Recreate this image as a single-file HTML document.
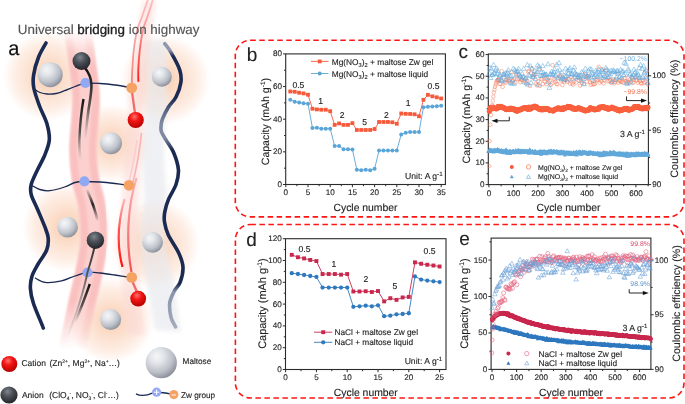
<!DOCTYPE html>
<html><head><meta charset="utf-8"><style>
html,body{margin:0;padding:0;background:#fff;}
svg{display:block;font-family:"Liberation Sans", sans-serif;will-change:transform;text-rendering:geometricPrecision;}
g.ch text{stroke:#222;stroke-width:0.12px;}
g.ch text.c{stroke:none;}
</style></head><body>
<svg width="685" height="404" viewBox="0 0 685 404">
<rect width="685" height="404" fill="#fff"/>
<g fill="#222">
<defs>
<radialGradient id="glow" cx="50%" cy="50%" r="50%">
<stop offset="0" stop-color="#f9cdae" stop-opacity="1"/>
<stop offset="0.35" stop-color="#fbdac5" stop-opacity="0.9"/>
<stop offset="0.7" stop-color="#fde7da" stop-opacity="0.75"/>
<stop offset="0.88" stop-color="#feefe7" stop-opacity="0.45"/>
<stop offset="1" stop-color="#fff" stop-opacity="0"/>
</radialGradient>
<radialGradient id="malt" cx="36%" cy="30%" r="75%">
<stop offset="0" stop-color="#f5f6f8"/>
<stop offset="0.3" stop-color="#e2e5e9"/>
<stop offset="0.68" stop-color="#bcc0c8"/>
<stop offset="1" stop-color="#878b96"/>
</radialGradient>
<radialGradient id="anion" cx="42%" cy="30%" r="70%">
<stop offset="0" stop-color="#80848c"/>
<stop offset="0.45" stop-color="#4a4e56"/>
<stop offset="1" stop-color="#23252a"/>
</radialGradient>
<radialGradient id="cation" cx="42%" cy="30%" r="70%">
<stop offset="0" stop-color="#ff7070"/>
<stop offset="0.4" stop-color="#f31515"/>
<stop offset="1" stop-color="#b50000"/>
</radialGradient>
<filter id="b3" x="-50%" y="-10%" width="200%" height="120%"><feGaussianBlur stdDeviation="2.5"/></filter>
<filter id="b1" x="-50%" y="-10%" width="200%" height="120%"><feGaussianBlur stdDeviation="1.2"/></filter>
<filter id="b2" x="-50%" y="-10%" width="200%" height="120%"><feGaussianBlur stdDeviation="2"/></filter>
<linearGradient id="tr1" x1="0" y1="0" x2="0" y2="1">
<stop offset="0" stop-color="#f79a9a" stop-opacity="0.5"/>
<stop offset="1" stop-color="#ff1a1a"/>
</linearGradient>
<linearGradient id="tr2" x1="0" y1="0" x2="0" y2="1">
<stop offset="0" stop-color="#ff1a1a" stop-opacity="0.25"/>
<stop offset="0.45" stop-color="#ff2a2a" stop-opacity="0.8"/>
<stop offset="1" stop-color="#ff1010"/>
</linearGradient>
<linearGradient id="tr4" x1="0" y1="0" x2="0" y2="1">
<stop offset="0" stop-color="#fbc0c0"/>
<stop offset="1" stop-color="#f48080"/>
</linearGradient>
<linearGradient id="tr3" x1="0" y1="0" x2="0" y2="1">
<stop offset="0" stop-color="#fbb5b5"/>
<stop offset="1" stop-color="#f25555"/>
</linearGradient>
<linearGradient id="bk1" x1="0" y1="0" x2="0" y2="1">
<stop offset="0" stop-color="#111"/>
<stop offset="0.55" stop-color="#333" stop-opacity="0.8"/>
<stop offset="1" stop-color="#777" stop-opacity="0"/>
</linearGradient>
<linearGradient id="bk5" x1="0" y1="0" x2="0" y2="1">
<stop offset="0" stop-color="#333"/>
<stop offset="0.3" stop-color="#555"/>
<stop offset="1" stop-color="#999" stop-opacity="0"/>
</linearGradient>
<linearGradient id="bk2" x1="0" y1="0" x2="0" y2="1">
<stop offset="0" stop-color="#111" stop-opacity="0"/>
<stop offset="0.5" stop-color="#222"/>
<stop offset="1" stop-color="#222" stop-opacity="0.1"/>
</linearGradient>
</defs>
<circle cx="48" cy="76" r="46" fill="url(#glow)"/>
<circle cx="165" cy="80" r="46" fill="url(#glow)"/>
<circle cx="111" cy="143" r="40" fill="url(#glow)"/>
<circle cx="67" cy="227" r="46" fill="url(#glow)"/>
<circle cx="155" cy="244" r="46" fill="url(#glow)"/>
<circle cx="111" cy="320" r="44" fill="url(#glow)"/>
<path d="M145.0 40.0 C145.2 50.0 146.5 81.7 146.0 100.0 C145.5 118.3 142.3 133.3 142.0 150.0 C141.7 166.7 144.3 185.8 144.0 200.0 C143.7 214.2 139.7 221.7 140.0 235.0 C140.3 248.3 143.5 264.2 146.0 280.0 C148.5 295.8 153.5 321.7 155.0 330.0 L181.0 332.0 C179.7 323.3 175.8 296.2 173.0 280.0 C170.2 263.8 165.0 248.3 164.0 235.0 C163.0 221.7 167.0 214.2 167.0 200.0 C167.0 185.8 164.0 166.7 164.0 150.0 C164.0 133.3 166.7 118.3 167.0 100.0 C167.3 81.7 166.2 50.0 166.0 40.0 Z" fill="#e9eaee" opacity="0.7" filter="url(#b2)"/>
<path d="M143.0 0.0 C141.5 10.0 136.7 40.0 134.0 60.0 C131.3 80.0 128.8 100.0 127.0 120.0 C125.2 140.0 124.2 160.0 123.0 180.0 C121.8 200.0 120.0 220.0 120.0 240.0 C120.0 260.0 121.8 284.2 123.0 300.0 C124.2 315.8 126.3 329.2 127.0 335.0 L145.0 335.0 C144.3 329.2 142.3 315.8 141.0 300.0 C139.7 284.2 137.2 260.0 137.0 240.0 C136.8 220.0 139.0 200.0 140.0 180.0 C141.0 160.0 141.7 140.0 143.0 120.0 C144.3 100.0 145.8 80.0 148.0 60.0 C150.2 40.0 154.7 10.0 156.0 0.0 Z" fill="#fbd8d4" opacity="0.55" filter="url(#b3)"/>
<linearGradient id="bandfade" gradientUnits="userSpaceOnUse" x1="0" y1="30" x2="0" y2="350"><stop offset="0" stop-color="#fff" stop-opacity="0"/><stop offset="0.06" stop-color="#fff" stop-opacity="0.7"/><stop offset="0.12" stop-color="#fff" stop-opacity="1"/><stop offset="0.85" stop-color="#fff" stop-opacity="1"/><stop offset="1" stop-color="#fff" stop-opacity="0"/></linearGradient>
<mask id="bandmask" maskUnits="userSpaceOnUse" x="0" y="0" width="240" height="404"><rect x="0" y="0" width="240" height="404" fill="url(#bandfade)"/></mask>
<g mask="url(#bandmask)"><path d="M78.0 32.0 C78.7 36.7 80.7 49.5 82.0 60.0 C83.3 70.5 85.5 85.0 86.0 95.0 C86.5 105.0 85.5 110.8 85.0 120.0 C84.5 129.2 82.9 140.0 83.0 150.0 C83.1 160.0 84.1 170.8 85.6 180.0 C87.0 189.2 90.3 195.0 91.7 205.0 C93.1 215.0 94.5 228.8 94.0 240.0 C93.5 251.2 90.9 262.0 89.0 272.0 C87.1 282.0 84.8 290.3 82.7 300.0 C80.6 309.7 78.2 321.7 76.4 330.0 C74.6 338.3 72.7 346.7 72.0 350.0" fill="none" stroke="#fcd0ce" stroke-width="27.5" filter="url(#b1)"/>
<path d="M68.5 32.0 C69.2 36.7 71.2 49.5 72.5 60.0 C73.8 70.5 76.0 85.0 76.5 95.0 C77.0 105.0 76.0 110.8 75.5 120.0 C75.0 129.2 73.4 140.0 73.5 150.0 C73.6 160.0 74.6 170.8 76.1 180.0 C77.5 189.2 80.8 195.0 82.2 205.0 C83.6 215.0 85.0 228.8 84.5 240.0 C84.0 251.2 81.4 262.0 79.5 272.0 C77.6 282.0 75.3 290.3 73.2 300.0 C71.1 309.7 68.7 321.7 66.9 330.0 C65.1 338.3 63.2 346.7 62.5 350.0" fill="none" stroke="#f9c0bf" stroke-width="7" filter="url(#b1)"/>
<path d="M87.5 32.0 C88.2 36.7 90.2 49.5 91.5 60.0 C92.8 70.5 95.0 85.0 95.5 95.0 C96.0 105.0 95.0 110.8 94.5 120.0 C94.0 129.2 92.4 140.0 92.5 150.0 C92.6 160.0 93.6 170.8 95.1 180.0 C96.5 189.2 99.8 195.0 101.2 205.0 C102.6 215.0 104.0 228.8 103.5 240.0 C103.0 251.2 100.4 262.0 98.5 272.0 C96.6 282.0 94.3 290.3 92.2 300.0 C90.1 309.7 87.7 321.7 85.9 330.0 C84.1 338.3 82.2 346.7 81.5 350.0" fill="none" stroke="#f9c0bf" stroke-width="7" filter="url(#b1)"/></g>
<path d="M46.0 43.0 C44.8 45.3 40.7 51.7 38.6 57.0 C36.5 62.3 34.4 69.8 33.6 75.0 C32.8 80.2 32.8 82.8 33.8 88.0 C34.8 93.2 37.3 100.0 39.5 106.0 C41.7 112.0 45.4 118.3 47.0 124.0 C48.6 129.7 49.7 134.8 49.3 140.0 C48.9 145.2 46.8 150.0 44.8 155.0 C42.8 160.0 39.7 165.1 37.4 170.0 C35.1 174.9 32.2 180.4 31.2 184.5 C30.2 188.6 30.2 190.4 31.2 194.5 C32.2 198.6 35.1 203.6 37.4 209.0 C39.7 214.4 43.0 221.9 44.8 226.7 C46.6 231.5 47.9 234.1 48.2 238.0 C48.5 241.9 48.4 245.6 46.7 250.0 C45.0 254.4 40.3 260.1 37.8 264.5 C35.3 268.9 33.1 272.4 31.9 276.4 C30.7 280.4 30.1 283.8 30.4 288.3 C30.6 292.8 31.4 297.0 33.4 303.2 C35.4 309.4 40.7 321.3 42.3 325.4 C43.9 329.5 43.1 327.6 43.2 328.0" fill="none" stroke="#1b2a52" stroke-width="3.6" stroke-linecap="round"/>
<linearGradient id="rcg" gradientUnits="userSpaceOnUse" x1="0" y1="43" x2="0" y2="328"><stop offset="0.000" stop-color="#8e97ab"/><stop offset="0.025" stop-color="#8e97ab"/><stop offset="0.046" stop-color="#1b2a52"/><stop offset="0.193" stop-color="#1b2a52"/><stop offset="0.242" stop-color="#5d6a87"/><stop offset="0.284" stop-color="#7f89a2"/><stop offset="0.333" stop-color="#7f89a2"/><stop offset="0.375" stop-color="#1b2a52"/><stop offset="0.846" stop-color="#1b2a52"/><stop offset="0.874" stop-color="#8a94ab"/><stop offset="1.000" stop-color="#a3abbb"/></linearGradient>
<path d="M164.8 43.7 C165.8 45.2 168.5 48.0 171.0 52.4 C173.5 56.8 178.0 64.8 179.7 69.8 C181.3 74.8 181.5 77.7 180.9 82.2 C180.3 86.7 178.1 92.9 176.0 97.0 C173.9 101.1 170.8 103.3 168.5 107.0 C166.2 110.7 163.6 116.0 162.3 119.3 C161.1 122.6 161.1 124.7 161.0 126.8 C160.9 128.9 160.7 129.8 161.5 132.0 C162.3 134.2 164.0 136.5 166.0 139.9 C168.0 143.3 171.4 147.3 173.5 152.3 C175.6 157.3 178.0 164.3 178.4 169.7 C178.8 175.1 177.7 179.6 176.0 184.5 C174.3 189.4 170.4 194.8 168.5 199.4 C166.6 204.0 165.5 208.0 164.8 211.8 C164.1 215.6 163.9 218.2 164.5 222.0 C165.1 225.8 165.8 229.7 168.2 234.8 C170.5 239.9 176.1 247.2 178.6 252.7 C181.1 258.1 182.8 262.6 183.0 267.5 C183.2 272.4 181.6 278.4 180.1 282.4 C178.6 286.4 175.9 287.8 174.2 291.3 C172.5 294.8 170.2 298.8 169.7 303.2 C169.2 307.6 170.2 314.1 171.2 318.0 C172.2 321.9 174.9 325.4 175.6 326.9" fill="none" stroke="url(#rcg)" stroke-width="3.6" stroke-linecap="round"/>
<path d="M34.9 89.5 C35.8 90.0 38.0 91.8 40.0 92.5 C42.0 93.2 44.5 93.8 47.2 94.0 C49.9 94.2 53.1 94.0 56.0 93.5 C58.9 93.0 61.4 91.9 64.6 90.7 C67.8 89.5 71.6 87.7 75.0 86.5 C78.4 85.3 80.8 83.8 85.0 83.3 C89.2 82.8 95.0 83.2 100.0 83.5 C105.0 83.8 109.7 84.3 115.0 85.0 C120.3 85.7 128.9 87.4 131.7 87.9" fill="none" stroke="#1b2a52" stroke-width="1.3"/>
<path d="M32.4 185.8 C33.6 186.4 36.9 188.7 39.8 189.5 C42.7 190.3 45.7 191.1 49.8 190.7 C53.9 190.3 60.4 188.4 64.6 187.0 C68.8 185.6 71.7 183.4 75.0 182.5 C78.3 181.6 80.2 181.6 84.4 181.5 C88.6 181.4 94.9 181.7 100.0 182.0 C105.1 182.3 110.2 182.9 115.0 183.5 C119.8 184.1 126.7 185.0 129.0 185.3" fill="none" stroke="#1b2a52" stroke-width="1.3"/>
<path d="M34.9 277.9 C36.6 278.6 40.8 281.9 45.2 282.4 C49.7 282.9 56.6 282.0 61.6 280.9 C66.6 279.8 70.7 277.4 75.0 276.0 C79.3 274.6 83.3 272.8 87.5 272.3 C91.7 271.8 95.4 272.6 100.0 273.0 C104.6 273.4 109.7 274.2 115.0 275.0 C120.3 275.8 128.9 277.2 131.7 277.6" fill="none" stroke="#1b2a52" stroke-width="1.3"/>
<path d="M83.5 99 C81.5 110 80 124 79.3 141 C79.3 150 79.8 155 80.7 160" fill="none" stroke="url(#bk1)" stroke-width="2.4"/>
<path d="M86.7 189 C91 199 95 208 97.3 220" fill="none" stroke="url(#bk2)" stroke-width="2.6"/>
<path d="M89.8 284 C86 295 81 308 75 323" fill="none" stroke="url(#bk1)" stroke-width="2.4"/>
<path d="M153.5 -2.0 C152.4 1.3 148.8 12.7 147.0 18.0 C145.2 23.3 144.2 24.7 143.0 30.0 C141.8 35.3 140.6 43.3 139.8 50.0 C139.0 56.7 138.5 64.7 138.3 70.0 C138.1 75.3 138.4 79.8 138.4 81.7" fill="none" stroke="url(#tr1)" stroke-width="1.9"/>
<path d="M148.5 -2.0 C147.3 1.3 143.4 12.7 141.5 18.0 C139.6 23.3 138.5 24.7 137.2 30.0 C135.9 35.3 134.6 43.3 133.8 50.0 C133.0 56.7 132.7 63.8 132.3 70.0 C132.0 76.2 131.8 84.2 131.7 87.0" fill="none" stroke="url(#tr4)" stroke-width="1.8"/>
<path d="M131.7 90 L135 113" fill="none" stroke="#f06a6a" stroke-width="2.2"/>
<path d="M141.5 133 C139.5 152 136.5 168 133 182" fill="none" stroke="#f8b4b4" stroke-width="1.6"/>
<path d="M137 140 C135 155 132.5 168 129.5 180" fill="none" stroke="#fbcaca" stroke-width="1.4"/>
<path d="M136.5 178 C128 205 125.5 240 131.5 272" fill="none" stroke="url(#tr3)" stroke-width="2.2"/>
<path d="M124.5 199 C118.5 220 116.5 245 122.5 267" fill="none" stroke="url(#tr2)" stroke-width="2.2"/>
<path d="M131.7 280 L137 292" fill="none" stroke="#f06a6a" stroke-width="2.3"/>
<circle cx="50.2" cy="74.7" r="12.5" fill="url(#malt)"/>
<circle cx="161.8" cy="76.7" r="10" fill="url(#malt)"/>
<circle cx="111" cy="143.3" r="11" fill="url(#malt)"/>
<circle cx="67.5" cy="227.2" r="10.4" fill="url(#malt)"/>
<circle cx="152.6" cy="242.3" r="10.4" fill="url(#malt)"/>
<circle cx="110.6" cy="319.6" r="10.5" fill="url(#malt)"/>
<circle cx="135.7" cy="120" r="8.1" fill="url(#cation)"/>
<circle cx="138.2" cy="298.6" r="7.9" fill="url(#cation)"/>
<circle cx="85.4" cy="83" r="5.1" fill="#91a8f2"/>
<circle cx="84.4" cy="181.3" r="5.1" fill="#91a8f2"/>
<circle cx="87.5" cy="272.5" r="5.1" fill="#91a8f2"/>
<circle cx="131.7" cy="87.9" r="5.4" fill="#f5a265"/>
<circle cx="129" cy="185.3" r="5.4" fill="#f5a265"/>
<circle cx="131.7" cy="277.4" r="5.4" fill="#f5a265"/>
<path d="M84.3 67 C88 71.5 91 77 91.4 84 C91.8 92 90 100 88.5 110 C87.2 120 86 130 85.2 140" fill="none" stroke="url(#bk1)" stroke-width="2.6"/>
<path d="M94.5 247 C92 258 89.5 266 87.5 272.3 C84 290 76 315 67 338" fill="none" stroke="url(#bk5)" stroke-width="1.9"/>
<circle cx="81.5" cy="61" r="9" fill="url(#anion)"/>
<circle cx="95.4" cy="240.2" r="8.7" fill="url(#anion)"/>
<text x="17.8" y="33.9" font-size="13.4" fill="#555" stroke="#555" stroke-width="0.15">Universal <tspan fill="#222" stroke="#222" stroke-width="0.32">bridging</tspan> ion highway</text>
<text x="8.2" y="55.2" font-size="20" fill="#111" stroke="#111" stroke-width="0.15">a</text>
<circle cx="9.3" cy="364" r="8" fill="url(#cation)"/>
<circle cx="9" cy="395" r="8.6" fill="url(#anion)"/>
<circle cx="161.3" cy="362.7" r="15.6" fill="url(#malt)"/>
<text x="21.4" y="365.8" font-size="8.5" fill="#222" stroke="#222" stroke-width="0.12">Cation<tspan x="49.4">(Zn</tspan><tspan font-size="5" dy="-3">2+</tspan><tspan dy="3">, Mg</tspan><tspan font-size="5" dy="-3">2+</tspan><tspan dy="3">, Na</tspan><tspan font-size="5" dy="-3">+</tspan><tspan dy="3">…)</tspan></text>
<text x="21.9" y="397.6" font-size="8.5" fill="#222" stroke="#222" stroke-width="0.12">Anion<tspan x="49.2">(ClO</tspan><tspan font-size="5" dy="2">4</tspan><tspan font-size="5" dy="-5">-</tspan><tspan dy="3">, NO</tspan><tspan font-size="5" dy="2">3</tspan><tspan font-size="5" dy="-5">-</tspan><tspan dy="3">, Cl</tspan><tspan font-size="5" dy="-3">-</tspan><tspan dy="3">…)</tspan></text>
<text x="182.6" y="364.4" font-size="8.2" fill="#222" stroke="#222" stroke-width="0.12">Maltose</text>
<path d="M136 393.8 C141 396.5 147 395.5 153 392.8" fill="none" stroke="#1b2a52" stroke-width="1.4"/>
<path d="M156.6 392.2 C162 392 166 393 173.8 394.6" fill="none" stroke="#1b2a52" stroke-width="1.4"/>
<circle cx="156.6" cy="392.2" r="4.6" fill="#93a9f3"/>
<path d="M153.9 392.2 H159.3 M156.6 389.5 V394.9" stroke="#fff" stroke-width="1"/>
<circle cx="173.8" cy="394.6" r="4.6" fill="#f5a265"/>
<path d="M171.6 395 H176" stroke="#fff" stroke-width="1"/>
<text x="181" y="397.8" font-size="8.2" fill="#222" stroke="#222" stroke-width="0.12">Zw group</text>
<g class="ch">
<rect x="285.7" y="53.9" width="159.7" height="130.6" fill="none" stroke="#2b2b2b" stroke-width="1.1"/>
<text x="285.8" y="195.4" font-size="8.1" text-anchor="middle" >0</text>
<text x="308" y="195.4" font-size="8.1" text-anchor="middle" >5</text>
<text x="330.2" y="195.4" font-size="8.1" text-anchor="middle" >10</text>
<text x="352.4" y="195.4" font-size="8.1" text-anchor="middle" >15</text>
<text x="374.6" y="195.4" font-size="8.1" text-anchor="middle" >20</text>
<text x="396.8" y="195.4" font-size="8.1" text-anchor="middle" >25</text>
<text x="419" y="195.4" font-size="8.1" text-anchor="middle" >30</text>
<text x="441.2" y="195.4" font-size="8.1" text-anchor="middle" >35</text>
<path d="M285.8 184.5v2.7M308 184.5v2.7M330.2 184.5v2.7M352.4 184.5v2.7M374.6 184.5v2.7M396.8 184.5v2.7M419 184.5v2.7M441.2 184.5v2.7M296.9 184.5v1.7M319.1 184.5v1.7M341.3 184.5v1.7M363.5 184.5v1.7M385.7 184.5v1.7M407.9 184.5v1.7M430.1 184.5v1.7" stroke="#2b2b2b" stroke-width="1"/>
<text x="281.9" y="186.95" font-size="8.1" text-anchor="end" >0</text>
<text x="281.9" y="154.3" font-size="8.1" text-anchor="end" >20</text>
<text x="281.9" y="121.65" font-size="8.1" text-anchor="end" >40</text>
<text x="281.9" y="89" font-size="8.1" text-anchor="end" >60</text>
<text x="281.9" y="56.35" font-size="8.1" text-anchor="end" >80</text>
<path d="M283 184.5h2.7M283 151.85h2.7M283 119.2h2.7M283 86.55h2.7M283 53.9h2.7M284 168.18h1.7M284 135.53h1.7M284 102.88h1.7M284 70.22h1.7" stroke="#2b2b2b" stroke-width="1"/>
<polyline points="290.24,99.77 294.68,101.73 299.12,102.39 303.56,103.36 308,103.85 312.44,128.02 316.88,127.69 321.32,128.67 325.76,128.67 330.2,128.67 334.64,145.97 339.08,145.97 343.52,149.24 347.96,149.24 352.4,149.56 356.84,169.64 361.28,170.3 365.72,169.64 370.16,170.3 374.6,168.66 379.04,150.54 383.48,150.54 387.92,150.54 392.36,150.54 396.8,150.54 401.24,134.38 405.68,132.75 410.12,132.1 414.56,132.1 419,132.1 423.44,107.28 427.88,106.79 432.32,106.47 436.76,106.14 441.2,105.65" fill="none" stroke="#5aa5d8" stroke-width="0.9"/>
<circle cx="290.24" cy="99.77" r="2" fill="#5aa5d8"/>
<circle cx="294.68" cy="101.73" r="2" fill="#5aa5d8"/>
<circle cx="299.12" cy="102.39" r="2" fill="#5aa5d8"/>
<circle cx="303.56" cy="103.36" r="2" fill="#5aa5d8"/>
<circle cx="308" cy="103.85" r="2" fill="#5aa5d8"/>
<circle cx="312.44" cy="128.02" r="2" fill="#5aa5d8"/>
<circle cx="316.88" cy="127.69" r="2" fill="#5aa5d8"/>
<circle cx="321.32" cy="128.67" r="2" fill="#5aa5d8"/>
<circle cx="325.76" cy="128.67" r="2" fill="#5aa5d8"/>
<circle cx="330.2" cy="128.67" r="2" fill="#5aa5d8"/>
<circle cx="334.64" cy="145.97" r="2" fill="#5aa5d8"/>
<circle cx="339.08" cy="145.97" r="2" fill="#5aa5d8"/>
<circle cx="343.52" cy="149.24" r="2" fill="#5aa5d8"/>
<circle cx="347.96" cy="149.24" r="2" fill="#5aa5d8"/>
<circle cx="352.4" cy="149.56" r="2" fill="#5aa5d8"/>
<circle cx="356.84" cy="169.64" r="2" fill="#5aa5d8"/>
<circle cx="361.28" cy="170.3" r="2" fill="#5aa5d8"/>
<circle cx="365.72" cy="169.64" r="2" fill="#5aa5d8"/>
<circle cx="370.16" cy="170.3" r="2" fill="#5aa5d8"/>
<circle cx="374.6" cy="168.66" r="2" fill="#5aa5d8"/>
<circle cx="379.04" cy="150.54" r="2" fill="#5aa5d8"/>
<circle cx="383.48" cy="150.54" r="2" fill="#5aa5d8"/>
<circle cx="387.92" cy="150.54" r="2" fill="#5aa5d8"/>
<circle cx="392.36" cy="150.54" r="2" fill="#5aa5d8"/>
<circle cx="396.8" cy="150.54" r="2" fill="#5aa5d8"/>
<circle cx="401.24" cy="134.38" r="2" fill="#5aa5d8"/>
<circle cx="405.68" cy="132.75" r="2" fill="#5aa5d8"/>
<circle cx="410.12" cy="132.1" r="2" fill="#5aa5d8"/>
<circle cx="414.56" cy="132.1" r="2" fill="#5aa5d8"/>
<circle cx="419" cy="132.1" r="2" fill="#5aa5d8"/>
<circle cx="423.44" cy="107.28" r="2" fill="#5aa5d8"/>
<circle cx="427.88" cy="106.79" r="2" fill="#5aa5d8"/>
<circle cx="432.32" cy="106.47" r="2" fill="#5aa5d8"/>
<circle cx="436.76" cy="106.14" r="2" fill="#5aa5d8"/>
<circle cx="441.2" cy="105.65" r="2" fill="#5aa5d8"/>
<polyline points="290.24,91.45 294.68,91.77 299.12,92.75 303.56,93.41 308,94.71 312.44,108.75 316.88,109.41 321.32,109.73 325.76,109.73 330.2,111.2 334.64,124.91 339.08,123.44 343.52,124.91 347.96,124.91 352.4,123.12 356.84,129.97 361.28,129.97 365.72,129.97 370.16,129.97 374.6,129 379.04,121.98 383.48,121.98 387.92,121.98 392.36,122.3 396.8,123.77 401.24,113.49 405.68,113.81 410.12,113.98 414.56,114.3 419,116.26 423.44,99.77 427.88,94.88 432.32,96.34 436.76,97.32 441.2,98.47" fill="none" stroke="#f7593b" stroke-width="0.9"/>
<rect x="288.34" y="89.55" width="3.8" height="3.8" fill="#f7593b"/>
<rect x="292.78" y="89.87" width="3.8" height="3.8" fill="#f7593b"/>
<rect x="297.22" y="90.85" width="3.8" height="3.8" fill="#f7593b"/>
<rect x="301.66" y="91.51" width="3.8" height="3.8" fill="#f7593b"/>
<rect x="306.1" y="92.81" width="3.8" height="3.8" fill="#f7593b"/>
<rect x="310.54" y="106.85" width="3.8" height="3.8" fill="#f7593b"/>
<rect x="314.98" y="107.5" width="3.8" height="3.8" fill="#f7593b"/>
<rect x="319.42" y="107.83" width="3.8" height="3.8" fill="#f7593b"/>
<rect x="323.86" y="107.83" width="3.8" height="3.8" fill="#f7593b"/>
<rect x="328.3" y="109.3" width="3.8" height="3.8" fill="#f7593b"/>
<rect x="332.74" y="123.01" width="3.8" height="3.8" fill="#f7593b"/>
<rect x="337.18" y="121.54" width="3.8" height="3.8" fill="#f7593b"/>
<rect x="341.62" y="123.01" width="3.8" height="3.8" fill="#f7593b"/>
<rect x="346.06" y="123.01" width="3.8" height="3.8" fill="#f7593b"/>
<rect x="350.5" y="121.22" width="3.8" height="3.8" fill="#f7593b"/>
<rect x="354.94" y="128.07" width="3.8" height="3.8" fill="#f7593b"/>
<rect x="359.38" y="128.07" width="3.8" height="3.8" fill="#f7593b"/>
<rect x="363.82" y="128.07" width="3.8" height="3.8" fill="#f7593b"/>
<rect x="368.26" y="128.07" width="3.8" height="3.8" fill="#f7593b"/>
<rect x="372.7" y="127.09" width="3.8" height="3.8" fill="#f7593b"/>
<rect x="377.14" y="120.08" width="3.8" height="3.8" fill="#f7593b"/>
<rect x="381.58" y="120.08" width="3.8" height="3.8" fill="#f7593b"/>
<rect x="386.02" y="120.08" width="3.8" height="3.8" fill="#f7593b"/>
<rect x="390.46" y="120.4" width="3.8" height="3.8" fill="#f7593b"/>
<rect x="394.9" y="121.87" width="3.8" height="3.8" fill="#f7593b"/>
<rect x="399.34" y="111.59" width="3.8" height="3.8" fill="#f7593b"/>
<rect x="403.78" y="111.91" width="3.8" height="3.8" fill="#f7593b"/>
<rect x="408.22" y="112.08" width="3.8" height="3.8" fill="#f7593b"/>
<rect x="412.66" y="112.4" width="3.8" height="3.8" fill="#f7593b"/>
<rect x="417.1" y="114.36" width="3.8" height="3.8" fill="#f7593b"/>
<rect x="421.54" y="97.87" width="3.8" height="3.8" fill="#f7593b"/>
<rect x="425.98" y="92.98" width="3.8" height="3.8" fill="#f7593b"/>
<rect x="430.42" y="94.44" width="3.8" height="3.8" fill="#f7593b"/>
<rect x="434.86" y="95.42" width="3.8" height="3.8" fill="#f7593b"/>
<rect x="439.3" y="96.57" width="3.8" height="3.8" fill="#f7593b"/>
<line x1="311" y1="61.4" x2="328.5" y2="61.4" stroke="#f7593b" stroke-width="0.9" />
<rect x="317.8" y="59.5" width="3.8" height="3.8" fill="#f7593b"/>
<line x1="311" y1="73.5" x2="328.5" y2="73.5" stroke="#5aa5d8" stroke-width="0.9" />
<circle cx="319.7" cy="73.5" r="2" fill="#5aa5d8"/>
<text x="331.7" y="64.6" font-size="8.35" >Mg(NO<tspan font-size="5.7" dy="2.3">3</tspan><tspan dy="-2.3">)</tspan><tspan font-size="5.7" dy="2.3">2</tspan><tspan dy="-2.3"> + maltose </tspan>Zw gel</text>
<text x="331.7" y="76.7" font-size="8.35" >Mg(NO<tspan font-size="5.7" dy="2.3">3</tspan><tspan dy="-2.3">)</tspan><tspan font-size="5.7" dy="2.3">2</tspan><tspan dy="-2.3"> + maltose </tspan>liquid</text>
<text x="298.4" y="87.6" font-size="8.6" text-anchor="middle" >0.5</text>
<text x="320.7" y="104.4" font-size="8.6" text-anchor="middle" >1</text>
<text x="342.2" y="118.2" font-size="8.6" text-anchor="middle" >2</text>
<text x="364.6" y="125.1" font-size="8.6" text-anchor="middle" >5</text>
<text x="386.5" y="117.6" font-size="8.6" text-anchor="middle" >2</text>
<text x="408.2" y="106" font-size="8.6" text-anchor="middle" >1</text>
<text x="433.5" y="89.4" font-size="8.6" text-anchor="middle" >0.5</text>
<text x="442.6" y="179" font-size="8.6" text-anchor="end" >Unit: A g<tspan font-size="6.2" dy="-3.4">-1</tspan></text>
<text transform="translate(269.1,121.6) rotate(-90)" font-size="10.55" text-anchor="middle">Capacity (mAh g<tspan font-size="6.5" dy="-3.8">-1</tspan><tspan dy="3.8">)</tspan></text>
<text x="365.5" y="211.2" font-size="10.4" text-anchor="middle" >Cycle number</text>
<text x="246.7" y="60.6" font-size="19" >b</text>
<rect x="488.3" y="54" width="160.1" height="130.6" fill="none" stroke="#2b2b2b" stroke-width="1.1"/>
<text x="488.9" y="195.5" font-size="8.1" text-anchor="middle" >0</text>
<text x="513.4" y="195.5" font-size="8.1" text-anchor="middle" >100</text>
<text x="537.9" y="195.5" font-size="8.1" text-anchor="middle" >200</text>
<text x="562.4" y="195.5" font-size="8.1" text-anchor="middle" >300</text>
<text x="586.9" y="195.5" font-size="8.1" text-anchor="middle" >400</text>
<text x="611.4" y="195.5" font-size="8.1" text-anchor="middle" >500</text>
<text x="635.9" y="195.5" font-size="8.1" text-anchor="middle" >600</text>
<path d="M488.9 184.6v2.7M513.4 184.6v2.7M537.9 184.6v2.7M562.4 184.6v2.7M586.9 184.6v2.7M611.4 184.6v2.7M635.9 184.6v2.7M501.15 184.6v1.7M525.65 184.6v1.7M550.15 184.6v1.7M574.65 184.6v1.7M599.15 184.6v1.7M623.65 184.6v1.7M648.15 184.6v1.7" stroke="#2b2b2b" stroke-width="1"/>
<text x="484.5" y="187.05" font-size="8.1" text-anchor="end" >0</text>
<text x="484.5" y="165.38" font-size="8.1" text-anchor="end" >10</text>
<text x="484.5" y="143.72" font-size="8.1" text-anchor="end" >20</text>
<text x="484.5" y="122.05" font-size="8.1" text-anchor="end" >30</text>
<text x="484.5" y="100.38" font-size="8.1" text-anchor="end" >40</text>
<text x="484.5" y="78.71" font-size="8.1" text-anchor="end" >50</text>
<text x="484.5" y="57.05" font-size="8.1" text-anchor="end" >60</text>
<path d="M485.6 184.6h2.7M485.6 162.93h2.7M485.6 141.27h2.7M485.6 119.6h2.7M485.6 97.93h2.7M485.6 76.26h2.7M485.6 54.6h2.7M486.6 173.77h1.7M486.6 152.1h1.7M486.6 130.43h1.7M486.6 108.77h1.7M486.6 87.1h1.7M486.6 65.43h1.7" stroke="#2b2b2b" stroke-width="1"/>
<text x="652.3" y="187.05" font-size="8.1" >90</text>
<text x="652.3" y="132.65" font-size="8.1" >95</text>
<text x="652.3" y="78.25" font-size="8.1" >100</text>
<path d="M648.4 184.6h2.7M648.4 130.2h2.7M648.4 75.8h2.7M648.4 157.4h1.7M648.4 103h1.7" stroke="#2b2b2b" stroke-width="1"/>
<path d="M489.14 149.29l2.15 3.74h-4.3z" fill="#62a8da"/>
<path d="M489.39 148.51l2.15 3.74h-4.3z" fill="#62a8da"/>
<path d="M489.63 147.79l2.15 3.74h-4.3z" fill="#62a8da"/>
<path d="M489.88 147.61l2.15 3.74h-4.3z" fill="#62a8da"/>
<path d="M490.12 147.82l2.15 3.74h-4.3z" fill="#62a8da"/>
<path d="M490.37 148.53l2.15 3.74h-4.3z" fill="#62a8da"/>
<path d="M490.61 148.33l2.15 3.74h-4.3z" fill="#62a8da"/>
<path d="M490.86 148.68l2.15 3.74h-4.3z" fill="#62a8da"/>
<path d="M491.1 149.35l2.15 3.74h-4.3z" fill="#62a8da"/>
<path d="M491.35 148.79l2.15 3.74h-4.3z" fill="#62a8da"/>
<path d="M491.59 147.85l2.15 3.74h-4.3z" fill="#62a8da"/>
<path d="M491.84 148.29l2.15 3.74h-4.3z" fill="#62a8da"/>
<path d="M492.08 148.64l2.15 3.74h-4.3z" fill="#62a8da"/>
<path d="M492.33 149.1l2.15 3.74h-4.3z" fill="#62a8da"/>
<path d="M492.57 148.46l2.15 3.74h-4.3z" fill="#62a8da"/>
<path d="M492.82 148.76l2.15 3.74h-4.3z" fill="#62a8da"/>
<path d="M493.06 148.35l2.15 3.74h-4.3z" fill="#62a8da"/>
<path d="M493.31 148.05l2.15 3.74h-4.3z" fill="#62a8da"/>
<path d="M493.55 149.83l2.15 3.74h-4.3z" fill="#62a8da"/>
<path d="M493.8 148.4l2.15 3.74h-4.3z" fill="#62a8da"/>
<path d="M494.04 149.28l2.15 3.74h-4.3z" fill="#62a8da"/>
<path d="M494.29 148.94l2.15 3.74h-4.3z" fill="#62a8da"/>
<path d="M494.53 149.13l2.15 3.74h-4.3z" fill="#62a8da"/>
<path d="M494.78 147.61l2.15 3.74h-4.3z" fill="#62a8da"/>
<path d="M495.02 147.89l2.15 3.74h-4.3z" fill="#62a8da"/>
<path d="M495.27 148l2.15 3.74h-4.3z" fill="#62a8da"/>
<path d="M495.51 148.8l2.15 3.74h-4.3z" fill="#62a8da"/>
<path d="M495.76 149.25l2.15 3.74h-4.3z" fill="#62a8da"/>
<path d="M496 148.58l2.15 3.74h-4.3z" fill="#62a8da"/>
<path d="M496.25 148.2l2.15 3.74h-4.3z" fill="#62a8da"/>
<path d="M496.5 148.39l2.15 3.74h-4.3z" fill="#62a8da"/>
<path d="M496.74 147.91l2.15 3.74h-4.3z" fill="#62a8da"/>
<path d="M496.98 148.59l2.15 3.74h-4.3z" fill="#62a8da"/>
<path d="M497.23 147.21l2.15 3.74h-4.3z" fill="#62a8da"/>
<path d="M497.47 147.96l2.15 3.74h-4.3z" fill="#62a8da"/>
<path d="M497.72 147.11l2.15 3.74h-4.3z" fill="#62a8da"/>
<path d="M497.96 148.26l2.15 3.74h-4.3z" fill="#62a8da"/>
<path d="M498.21 148.58l2.15 3.74h-4.3z" fill="#62a8da"/>
<path d="M498.45 149l2.15 3.74h-4.3z" fill="#62a8da"/>
<path d="M498.7 147.95l2.15 3.74h-4.3z" fill="#62a8da"/>
<path d="M498.94 147.82l2.15 3.74h-4.3z" fill="#62a8da"/>
<path d="M499.19 148.41l2.15 3.74h-4.3z" fill="#62a8da"/>
<path d="M499.44 148.27l2.15 3.74h-4.3z" fill="#62a8da"/>
<path d="M499.68 148.74l2.15 3.74h-4.3z" fill="#62a8da"/>
<path d="M499.92 148.86l2.15 3.74h-4.3z" fill="#62a8da"/>
<path d="M500.17 148.8l2.15 3.74h-4.3z" fill="#62a8da"/>
<path d="M500.41 149.86l2.15 3.74h-4.3z" fill="#62a8da"/>
<path d="M500.66 149.33l2.15 3.74h-4.3z" fill="#62a8da"/>
<path d="M500.9 148.68l2.15 3.74h-4.3z" fill="#62a8da"/>
<path d="M501.15 148.65l2.15 3.74h-4.3z" fill="#62a8da"/>
<path d="M501.39 148.06l2.15 3.74h-4.3z" fill="#62a8da"/>
<path d="M501.64 148.39l2.15 3.74h-4.3z" fill="#62a8da"/>
<path d="M501.88 148.56l2.15 3.74h-4.3z" fill="#62a8da"/>
<path d="M502.13 148.83l2.15 3.74h-4.3z" fill="#62a8da"/>
<path d="M502.38 150.36l2.15 3.74h-4.3z" fill="#62a8da"/>
<path d="M502.62 148.9l2.15 3.74h-4.3z" fill="#62a8da"/>
<path d="M502.86 149.54l2.15 3.74h-4.3z" fill="#62a8da"/>
<path d="M503.11 148.68l2.15 3.74h-4.3z" fill="#62a8da"/>
<path d="M503.35 149.22l2.15 3.74h-4.3z" fill="#62a8da"/>
<path d="M503.6 149.29l2.15 3.74h-4.3z" fill="#62a8da"/>
<path d="M503.84 149.45l2.15 3.74h-4.3z" fill="#62a8da"/>
<path d="M504.09 149.33l2.15 3.74h-4.3z" fill="#62a8da"/>
<path d="M504.33 150.44l2.15 3.74h-4.3z" fill="#62a8da"/>
<path d="M504.58 150.24l2.15 3.74h-4.3z" fill="#62a8da"/>
<path d="M504.82 148.46l2.15 3.74h-4.3z" fill="#62a8da"/>
<path d="M505.07 148.99l2.15 3.74h-4.3z" fill="#62a8da"/>
<path d="M505.31 149.59l2.15 3.74h-4.3z" fill="#62a8da"/>
<path d="M505.56 149.56l2.15 3.74h-4.3z" fill="#62a8da"/>
<path d="M505.8 149.61l2.15 3.74h-4.3z" fill="#62a8da"/>
<path d="M506.05 147.3l2.15 3.74h-4.3z" fill="#62a8da"/>
<path d="M506.29 149.1l2.15 3.74h-4.3z" fill="#62a8da"/>
<path d="M506.54 149.46l2.15 3.74h-4.3z" fill="#62a8da"/>
<path d="M506.78 149.92l2.15 3.74h-4.3z" fill="#62a8da"/>
<path d="M507.03 151.05l2.15 3.74h-4.3z" fill="#62a8da"/>
<path d="M507.27 149.46l2.15 3.74h-4.3z" fill="#62a8da"/>
<path d="M507.52 148.67l2.15 3.74h-4.3z" fill="#62a8da"/>
<path d="M507.76 148.99l2.15 3.74h-4.3z" fill="#62a8da"/>
<path d="M508.01 149.44l2.15 3.74h-4.3z" fill="#62a8da"/>
<path d="M508.25 150.03l2.15 3.74h-4.3z" fill="#62a8da"/>
<path d="M508.5 150.42l2.15 3.74h-4.3z" fill="#62a8da"/>
<path d="M508.75 149.63l2.15 3.74h-4.3z" fill="#62a8da"/>
<path d="M508.99 149.96l2.15 3.74h-4.3z" fill="#62a8da"/>
<path d="M509.23 150.45l2.15 3.74h-4.3z" fill="#62a8da"/>
<path d="M509.48 148.66l2.15 3.74h-4.3z" fill="#62a8da"/>
<path d="M509.72 150.35l2.15 3.74h-4.3z" fill="#62a8da"/>
<path d="M509.97 150.1l2.15 3.74h-4.3z" fill="#62a8da"/>
<path d="M510.21 151.31l2.15 3.74h-4.3z" fill="#62a8da"/>
<path d="M510.46 148.67l2.15 3.74h-4.3z" fill="#62a8da"/>
<path d="M510.7 149.88l2.15 3.74h-4.3z" fill="#62a8da"/>
<path d="M510.95 149.83l2.15 3.74h-4.3z" fill="#62a8da"/>
<path d="M511.19 149.61l2.15 3.74h-4.3z" fill="#62a8da"/>
<path d="M511.44 150.34l2.15 3.74h-4.3z" fill="#62a8da"/>
<path d="M511.69 150.2l2.15 3.74h-4.3z" fill="#62a8da"/>
<path d="M511.93 149.6l2.15 3.74h-4.3z" fill="#62a8da"/>
<path d="M512.17 150.33l2.15 3.74h-4.3z" fill="#62a8da"/>
<path d="M512.42 149.58l2.15 3.74h-4.3z" fill="#62a8da"/>
<path d="M512.66 149l2.15 3.74h-4.3z" fill="#62a8da"/>
<path d="M512.91 149.29l2.15 3.74h-4.3z" fill="#62a8da"/>
<path d="M513.15 148.86l2.15 3.74h-4.3z" fill="#62a8da"/>
<path d="M513.4 149.07l2.15 3.74h-4.3z" fill="#62a8da"/>
<path d="M513.64 148.63l2.15 3.74h-4.3z" fill="#62a8da"/>
<path d="M513.89 149.56l2.15 3.74h-4.3z" fill="#62a8da"/>
<path d="M514.13 149.46l2.15 3.74h-4.3z" fill="#62a8da"/>
<path d="M514.38 150.43l2.15 3.74h-4.3z" fill="#62a8da"/>
<path d="M514.62 149.82l2.15 3.74h-4.3z" fill="#62a8da"/>
<path d="M514.87 150.16l2.15 3.74h-4.3z" fill="#62a8da"/>
<path d="M515.12 149.72l2.15 3.74h-4.3z" fill="#62a8da"/>
<path d="M515.36 150.33l2.15 3.74h-4.3z" fill="#62a8da"/>
<path d="M515.61 149.43l2.15 3.74h-4.3z" fill="#62a8da"/>
<path d="M515.85 147.95l2.15 3.74h-4.3z" fill="#62a8da"/>
<path d="M516.1 150.1l2.15 3.74h-4.3z" fill="#62a8da"/>
<path d="M516.34 149.21l2.15 3.74h-4.3z" fill="#62a8da"/>
<path d="M516.58 149.16l2.15 3.74h-4.3z" fill="#62a8da"/>
<path d="M516.83 150.01l2.15 3.74h-4.3z" fill="#62a8da"/>
<path d="M517.07 149.71l2.15 3.74h-4.3z" fill="#62a8da"/>
<path d="M517.32 149.83l2.15 3.74h-4.3z" fill="#62a8da"/>
<path d="M517.56 149.19l2.15 3.74h-4.3z" fill="#62a8da"/>
<path d="M517.81 149.86l2.15 3.74h-4.3z" fill="#62a8da"/>
<path d="M518.05 147.74l2.15 3.74h-4.3z" fill="#62a8da"/>
<path d="M518.3 148.85l2.15 3.74h-4.3z" fill="#62a8da"/>
<path d="M518.54 148.64l2.15 3.74h-4.3z" fill="#62a8da"/>
<path d="M518.79 147.96l2.15 3.74h-4.3z" fill="#62a8da"/>
<path d="M519.03 148.45l2.15 3.74h-4.3z" fill="#62a8da"/>
<path d="M519.28 149.39l2.15 3.74h-4.3z" fill="#62a8da"/>
<path d="M519.52 149.06l2.15 3.74h-4.3z" fill="#62a8da"/>
<path d="M519.77 149.25l2.15 3.74h-4.3z" fill="#62a8da"/>
<path d="M520.01 149.08l2.15 3.74h-4.3z" fill="#62a8da"/>
<path d="M520.26 148.6l2.15 3.74h-4.3z" fill="#62a8da"/>
<path d="M520.5 150.5l2.15 3.74h-4.3z" fill="#62a8da"/>
<path d="M520.75 150.28l2.15 3.74h-4.3z" fill="#62a8da"/>
<path d="M521 149.39l2.15 3.74h-4.3z" fill="#62a8da"/>
<path d="M521.24 148.87l2.15 3.74h-4.3z" fill="#62a8da"/>
<path d="M521.49 149.47l2.15 3.74h-4.3z" fill="#62a8da"/>
<path d="M521.73 149.26l2.15 3.74h-4.3z" fill="#62a8da"/>
<path d="M521.98 148.4l2.15 3.74h-4.3z" fill="#62a8da"/>
<path d="M522.22 148.67l2.15 3.74h-4.3z" fill="#62a8da"/>
<path d="M522.46 149.17l2.15 3.74h-4.3z" fill="#62a8da"/>
<path d="M522.71 149.3l2.15 3.74h-4.3z" fill="#62a8da"/>
<path d="M522.95 150.03l2.15 3.74h-4.3z" fill="#62a8da"/>
<path d="M523.2 148.75l2.15 3.74h-4.3z" fill="#62a8da"/>
<path d="M523.44 148.99l2.15 3.74h-4.3z" fill="#62a8da"/>
<path d="M523.69 149.68l2.15 3.74h-4.3z" fill="#62a8da"/>
<path d="M523.93 148.74l2.15 3.74h-4.3z" fill="#62a8da"/>
<path d="M524.18 149.3l2.15 3.74h-4.3z" fill="#62a8da"/>
<path d="M524.42 149.28l2.15 3.74h-4.3z" fill="#62a8da"/>
<path d="M524.67 150.13l2.15 3.74h-4.3z" fill="#62a8da"/>
<path d="M524.91 148.49l2.15 3.74h-4.3z" fill="#62a8da"/>
<path d="M525.16 149.56l2.15 3.74h-4.3z" fill="#62a8da"/>
<path d="M525.4 148.88l2.15 3.74h-4.3z" fill="#62a8da"/>
<path d="M525.65 148.94l2.15 3.74h-4.3z" fill="#62a8da"/>
<path d="M525.89 149.46l2.15 3.74h-4.3z" fill="#62a8da"/>
<path d="M526.14 149.15l2.15 3.74h-4.3z" fill="#62a8da"/>
<path d="M526.38 149.27l2.15 3.74h-4.3z" fill="#62a8da"/>
<path d="M526.63 149.29l2.15 3.74h-4.3z" fill="#62a8da"/>
<path d="M526.88 149.02l2.15 3.74h-4.3z" fill="#62a8da"/>
<path d="M527.12 149.58l2.15 3.74h-4.3z" fill="#62a8da"/>
<path d="M527.37 148.74l2.15 3.74h-4.3z" fill="#62a8da"/>
<path d="M527.61 149.13l2.15 3.74h-4.3z" fill="#62a8da"/>
<path d="M527.86 149.98l2.15 3.74h-4.3z" fill="#62a8da"/>
<path d="M528.1 148.98l2.15 3.74h-4.3z" fill="#62a8da"/>
<path d="M528.35 149.53l2.15 3.74h-4.3z" fill="#62a8da"/>
<path d="M528.59 148.99l2.15 3.74h-4.3z" fill="#62a8da"/>
<path d="M528.84 150.83l2.15 3.74h-4.3z" fill="#62a8da"/>
<path d="M529.08 149.12l2.15 3.74h-4.3z" fill="#62a8da"/>
<path d="M529.32 150.83l2.15 3.74h-4.3z" fill="#62a8da"/>
<path d="M529.57 149.69l2.15 3.74h-4.3z" fill="#62a8da"/>
<path d="M529.81 147.36l2.15 3.74h-4.3z" fill="#62a8da"/>
<path d="M530.06 149.04l2.15 3.74h-4.3z" fill="#62a8da"/>
<path d="M530.3 148.81l2.15 3.74h-4.3z" fill="#62a8da"/>
<path d="M530.55 149.99l2.15 3.74h-4.3z" fill="#62a8da"/>
<path d="M530.79 150.3l2.15 3.74h-4.3z" fill="#62a8da"/>
<path d="M531.04 149.65l2.15 3.74h-4.3z" fill="#62a8da"/>
<path d="M531.28 149.36l2.15 3.74h-4.3z" fill="#62a8da"/>
<path d="M531.53 149.73l2.15 3.74h-4.3z" fill="#62a8da"/>
<path d="M531.77 150.14l2.15 3.74h-4.3z" fill="#62a8da"/>
<path d="M532.02 150.3l2.15 3.74h-4.3z" fill="#62a8da"/>
<path d="M532.26 150.02l2.15 3.74h-4.3z" fill="#62a8da"/>
<path d="M532.51 148.74l2.15 3.74h-4.3z" fill="#62a8da"/>
<path d="M532.75 149.82l2.15 3.74h-4.3z" fill="#62a8da"/>
<path d="M533 150.1l2.15 3.74h-4.3z" fill="#62a8da"/>
<path d="M533.25 150.06l2.15 3.74h-4.3z" fill="#62a8da"/>
<path d="M533.49 150.55l2.15 3.74h-4.3z" fill="#62a8da"/>
<path d="M533.74 150.83l2.15 3.74h-4.3z" fill="#62a8da"/>
<path d="M533.98 149.88l2.15 3.74h-4.3z" fill="#62a8da"/>
<path d="M534.23 149.14l2.15 3.74h-4.3z" fill="#62a8da"/>
<path d="M534.47 149.72l2.15 3.74h-4.3z" fill="#62a8da"/>
<path d="M534.71 150.97l2.15 3.74h-4.3z" fill="#62a8da"/>
<path d="M534.96 149.11l2.15 3.74h-4.3z" fill="#62a8da"/>
<path d="M535.2 149.96l2.15 3.74h-4.3z" fill="#62a8da"/>
<path d="M535.45 148.93l2.15 3.74h-4.3z" fill="#62a8da"/>
<path d="M535.69 150.28l2.15 3.74h-4.3z" fill="#62a8da"/>
<path d="M535.94 151.09l2.15 3.74h-4.3z" fill="#62a8da"/>
<path d="M536.18 150.09l2.15 3.74h-4.3z" fill="#62a8da"/>
<path d="M536.43 150.37l2.15 3.74h-4.3z" fill="#62a8da"/>
<path d="M536.67 151l2.15 3.74h-4.3z" fill="#62a8da"/>
<path d="M536.92 150.81l2.15 3.74h-4.3z" fill="#62a8da"/>
<path d="M537.16 150.61l2.15 3.74h-4.3z" fill="#62a8da"/>
<path d="M537.41 150.94l2.15 3.74h-4.3z" fill="#62a8da"/>
<path d="M537.65 149.98l2.15 3.74h-4.3z" fill="#62a8da"/>
<path d="M537.9 150.2l2.15 3.74h-4.3z" fill="#62a8da"/>
<path d="M538.14 150.72l2.15 3.74h-4.3z" fill="#62a8da"/>
<path d="M538.39 150.67l2.15 3.74h-4.3z" fill="#62a8da"/>
<path d="M538.63 149.87l2.15 3.74h-4.3z" fill="#62a8da"/>
<path d="M538.88 150.2l2.15 3.74h-4.3z" fill="#62a8da"/>
<path d="M539.12 151.25l2.15 3.74h-4.3z" fill="#62a8da"/>
<path d="M539.37 150.32l2.15 3.74h-4.3z" fill="#62a8da"/>
<path d="M539.62 149.37l2.15 3.74h-4.3z" fill="#62a8da"/>
<path d="M539.86 150.3l2.15 3.74h-4.3z" fill="#62a8da"/>
<path d="M540.11 151.06l2.15 3.74h-4.3z" fill="#62a8da"/>
<path d="M540.35 149.52l2.15 3.74h-4.3z" fill="#62a8da"/>
<path d="M540.6 148.89l2.15 3.74h-4.3z" fill="#62a8da"/>
<path d="M540.84 150.42l2.15 3.74h-4.3z" fill="#62a8da"/>
<path d="M541.09 152l2.15 3.74h-4.3z" fill="#62a8da"/>
<path d="M541.33 151.46l2.15 3.74h-4.3z" fill="#62a8da"/>
<path d="M541.57 149.28l2.15 3.74h-4.3z" fill="#62a8da"/>
<path d="M541.82 150.6l2.15 3.74h-4.3z" fill="#62a8da"/>
<path d="M542.06 150.02l2.15 3.74h-4.3z" fill="#62a8da"/>
<path d="M542.31 150.11l2.15 3.74h-4.3z" fill="#62a8da"/>
<path d="M542.55 150.35l2.15 3.74h-4.3z" fill="#62a8da"/>
<path d="M542.8 149.35l2.15 3.74h-4.3z" fill="#62a8da"/>
<path d="M543.04 150.3l2.15 3.74h-4.3z" fill="#62a8da"/>
<path d="M543.29 150.02l2.15 3.74h-4.3z" fill="#62a8da"/>
<path d="M543.53 150.18l2.15 3.74h-4.3z" fill="#62a8da"/>
<path d="M543.78 150.21l2.15 3.74h-4.3z" fill="#62a8da"/>
<path d="M544.02 148.76l2.15 3.74h-4.3z" fill="#62a8da"/>
<path d="M544.27 151.06l2.15 3.74h-4.3z" fill="#62a8da"/>
<path d="M544.51 151.12l2.15 3.74h-4.3z" fill="#62a8da"/>
<path d="M544.76 149.59l2.15 3.74h-4.3z" fill="#62a8da"/>
<path d="M545 151.11l2.15 3.74h-4.3z" fill="#62a8da"/>
<path d="M545.25 150.16l2.15 3.74h-4.3z" fill="#62a8da"/>
<path d="M545.5 150.93l2.15 3.74h-4.3z" fill="#62a8da"/>
<path d="M545.74 149.6l2.15 3.74h-4.3z" fill="#62a8da"/>
<path d="M545.99 150.21l2.15 3.74h-4.3z" fill="#62a8da"/>
<path d="M546.23 149.74l2.15 3.74h-4.3z" fill="#62a8da"/>
<path d="M546.48 150.64l2.15 3.74h-4.3z" fill="#62a8da"/>
<path d="M546.72 150.24l2.15 3.74h-4.3z" fill="#62a8da"/>
<path d="M546.96 151.62l2.15 3.74h-4.3z" fill="#62a8da"/>
<path d="M547.21 149.57l2.15 3.74h-4.3z" fill="#62a8da"/>
<path d="M547.45 149.82l2.15 3.74h-4.3z" fill="#62a8da"/>
<path d="M547.7 150.06l2.15 3.74h-4.3z" fill="#62a8da"/>
<path d="M547.94 150.01l2.15 3.74h-4.3z" fill="#62a8da"/>
<path d="M548.19 150.27l2.15 3.74h-4.3z" fill="#62a8da"/>
<path d="M548.43 150.04l2.15 3.74h-4.3z" fill="#62a8da"/>
<path d="M548.68 148.74l2.15 3.74h-4.3z" fill="#62a8da"/>
<path d="M548.92 150.35l2.15 3.74h-4.3z" fill="#62a8da"/>
<path d="M549.17 150.25l2.15 3.74h-4.3z" fill="#62a8da"/>
<path d="M549.41 149.46l2.15 3.74h-4.3z" fill="#62a8da"/>
<path d="M549.66 149.74l2.15 3.74h-4.3z" fill="#62a8da"/>
<path d="M549.9 150.27l2.15 3.74h-4.3z" fill="#62a8da"/>
<path d="M550.15 148.79l2.15 3.74h-4.3z" fill="#62a8da"/>
<path d="M550.39 148.75l2.15 3.74h-4.3z" fill="#62a8da"/>
<path d="M550.64 150.04l2.15 3.74h-4.3z" fill="#62a8da"/>
<path d="M550.88 148.62l2.15 3.74h-4.3z" fill="#62a8da"/>
<path d="M551.13 150.7l2.15 3.74h-4.3z" fill="#62a8da"/>
<path d="M551.38 148.77l2.15 3.74h-4.3z" fill="#62a8da"/>
<path d="M551.62 150.83l2.15 3.74h-4.3z" fill="#62a8da"/>
<path d="M551.87 149.51l2.15 3.74h-4.3z" fill="#62a8da"/>
<path d="M552.11 149.84l2.15 3.74h-4.3z" fill="#62a8da"/>
<path d="M552.36 149.98l2.15 3.74h-4.3z" fill="#62a8da"/>
<path d="M552.6 149.32l2.15 3.74h-4.3z" fill="#62a8da"/>
<path d="M552.85 150.36l2.15 3.74h-4.3z" fill="#62a8da"/>
<path d="M553.09 150.22l2.15 3.74h-4.3z" fill="#62a8da"/>
<path d="M553.34 150.46l2.15 3.74h-4.3z" fill="#62a8da"/>
<path d="M553.58 148.74l2.15 3.74h-4.3z" fill="#62a8da"/>
<path d="M553.82 150.11l2.15 3.74h-4.3z" fill="#62a8da"/>
<path d="M554.07 149.49l2.15 3.74h-4.3z" fill="#62a8da"/>
<path d="M554.31 149.88l2.15 3.74h-4.3z" fill="#62a8da"/>
<path d="M554.56 149.05l2.15 3.74h-4.3z" fill="#62a8da"/>
<path d="M554.8 150.42l2.15 3.74h-4.3z" fill="#62a8da"/>
<path d="M555.05 150.32l2.15 3.74h-4.3z" fill="#62a8da"/>
<path d="M555.29 150.17l2.15 3.74h-4.3z" fill="#62a8da"/>
<path d="M555.54 149.64l2.15 3.74h-4.3z" fill="#62a8da"/>
<path d="M555.78 150.28l2.15 3.74h-4.3z" fill="#62a8da"/>
<path d="M556.03 149.49l2.15 3.74h-4.3z" fill="#62a8da"/>
<path d="M556.27 149.45l2.15 3.74h-4.3z" fill="#62a8da"/>
<path d="M556.52 149.14l2.15 3.74h-4.3z" fill="#62a8da"/>
<path d="M556.76 149.48l2.15 3.74h-4.3z" fill="#62a8da"/>
<path d="M557.01 148.94l2.15 3.74h-4.3z" fill="#62a8da"/>
<path d="M557.25 150.1l2.15 3.74h-4.3z" fill="#62a8da"/>
<path d="M557.5 150.23l2.15 3.74h-4.3z" fill="#62a8da"/>
<path d="M557.75 150.37l2.15 3.74h-4.3z" fill="#62a8da"/>
<path d="M557.99 150.39l2.15 3.74h-4.3z" fill="#62a8da"/>
<path d="M558.24 150.84l2.15 3.74h-4.3z" fill="#62a8da"/>
<path d="M558.48 149.74l2.15 3.74h-4.3z" fill="#62a8da"/>
<path d="M558.73 149.96l2.15 3.74h-4.3z" fill="#62a8da"/>
<path d="M558.97 151.43l2.15 3.74h-4.3z" fill="#62a8da"/>
<path d="M559.21 150.16l2.15 3.74h-4.3z" fill="#62a8da"/>
<path d="M559.46 150.59l2.15 3.74h-4.3z" fill="#62a8da"/>
<path d="M559.7 150.74l2.15 3.74h-4.3z" fill="#62a8da"/>
<path d="M559.95 150.36l2.15 3.74h-4.3z" fill="#62a8da"/>
<path d="M560.19 149.42l2.15 3.74h-4.3z" fill="#62a8da"/>
<path d="M560.44 150.17l2.15 3.74h-4.3z" fill="#62a8da"/>
<path d="M560.68 151.58l2.15 3.74h-4.3z" fill="#62a8da"/>
<path d="M560.93 150.1l2.15 3.74h-4.3z" fill="#62a8da"/>
<path d="M561.17 150.92l2.15 3.74h-4.3z" fill="#62a8da"/>
<path d="M561.42 149.3l2.15 3.74h-4.3z" fill="#62a8da"/>
<path d="M561.66 150.73l2.15 3.74h-4.3z" fill="#62a8da"/>
<path d="M561.91 150.5l2.15 3.74h-4.3z" fill="#62a8da"/>
<path d="M562.15 150.62l2.15 3.74h-4.3z" fill="#62a8da"/>
<path d="M562.4 151.06l2.15 3.74h-4.3z" fill="#62a8da"/>
<path d="M562.64 150.82l2.15 3.74h-4.3z" fill="#62a8da"/>
<path d="M562.89 150.66l2.15 3.74h-4.3z" fill="#62a8da"/>
<path d="M563.13 149.18l2.15 3.74h-4.3z" fill="#62a8da"/>
<path d="M563.38 150.58l2.15 3.74h-4.3z" fill="#62a8da"/>
<path d="M563.62 150.35l2.15 3.74h-4.3z" fill="#62a8da"/>
<path d="M563.87 150.65l2.15 3.74h-4.3z" fill="#62a8da"/>
<path d="M564.12 150.62l2.15 3.74h-4.3z" fill="#62a8da"/>
<path d="M564.36 150.56l2.15 3.74h-4.3z" fill="#62a8da"/>
<path d="M564.61 149.88l2.15 3.74h-4.3z" fill="#62a8da"/>
<path d="M564.85 152.77l2.15 3.74h-4.3z" fill="#62a8da"/>
<path d="M565.1 151.28l2.15 3.74h-4.3z" fill="#62a8da"/>
<path d="M565.34 151.45l2.15 3.74h-4.3z" fill="#62a8da"/>
<path d="M565.59 150.36l2.15 3.74h-4.3z" fill="#62a8da"/>
<path d="M565.83 151.47l2.15 3.74h-4.3z" fill="#62a8da"/>
<path d="M566.07 150.34l2.15 3.74h-4.3z" fill="#62a8da"/>
<path d="M566.32 150.28l2.15 3.74h-4.3z" fill="#62a8da"/>
<path d="M566.56 151.37l2.15 3.74h-4.3z" fill="#62a8da"/>
<path d="M566.81 150.67l2.15 3.74h-4.3z" fill="#62a8da"/>
<path d="M567.05 151.36l2.15 3.74h-4.3z" fill="#62a8da"/>
<path d="M567.3 150.53l2.15 3.74h-4.3z" fill="#62a8da"/>
<path d="M567.54 150.76l2.15 3.74h-4.3z" fill="#62a8da"/>
<path d="M567.79 150.33l2.15 3.74h-4.3z" fill="#62a8da"/>
<path d="M568.03 150.58l2.15 3.74h-4.3z" fill="#62a8da"/>
<path d="M568.28 151.79l2.15 3.74h-4.3z" fill="#62a8da"/>
<path d="M568.52 150.2l2.15 3.74h-4.3z" fill="#62a8da"/>
<path d="M568.77 151.13l2.15 3.74h-4.3z" fill="#62a8da"/>
<path d="M569.01 150.46l2.15 3.74h-4.3z" fill="#62a8da"/>
<path d="M569.26 151.11l2.15 3.74h-4.3z" fill="#62a8da"/>
<path d="M569.5 150.56l2.15 3.74h-4.3z" fill="#62a8da"/>
<path d="M569.75 151.95l2.15 3.74h-4.3z" fill="#62a8da"/>
<path d="M570 150.31l2.15 3.74h-4.3z" fill="#62a8da"/>
<path d="M570.24 151.81l2.15 3.74h-4.3z" fill="#62a8da"/>
<path d="M570.49 151.27l2.15 3.74h-4.3z" fill="#62a8da"/>
<path d="M570.73 150.86l2.15 3.74h-4.3z" fill="#62a8da"/>
<path d="M570.98 152.15l2.15 3.74h-4.3z" fill="#62a8da"/>
<path d="M571.22 150.92l2.15 3.74h-4.3z" fill="#62a8da"/>
<path d="M571.46 151.14l2.15 3.74h-4.3z" fill="#62a8da"/>
<path d="M571.71 150.62l2.15 3.74h-4.3z" fill="#62a8da"/>
<path d="M571.95 151.2l2.15 3.74h-4.3z" fill="#62a8da"/>
<path d="M572.2 151.78l2.15 3.74h-4.3z" fill="#62a8da"/>
<path d="M572.44 151.83l2.15 3.74h-4.3z" fill="#62a8da"/>
<path d="M572.69 151.64l2.15 3.74h-4.3z" fill="#62a8da"/>
<path d="M572.93 151.01l2.15 3.74h-4.3z" fill="#62a8da"/>
<path d="M573.18 151.19l2.15 3.74h-4.3z" fill="#62a8da"/>
<path d="M573.42 150.67l2.15 3.74h-4.3z" fill="#62a8da"/>
<path d="M573.67 150.06l2.15 3.74h-4.3z" fill="#62a8da"/>
<path d="M573.91 151.22l2.15 3.74h-4.3z" fill="#62a8da"/>
<path d="M574.16 151.32l2.15 3.74h-4.3z" fill="#62a8da"/>
<path d="M574.4 150.74l2.15 3.74h-4.3z" fill="#62a8da"/>
<path d="M574.65 150.69l2.15 3.74h-4.3z" fill="#62a8da"/>
<path d="M574.89 152.35l2.15 3.74h-4.3z" fill="#62a8da"/>
<path d="M575.14 151.36l2.15 3.74h-4.3z" fill="#62a8da"/>
<path d="M575.38 150.87l2.15 3.74h-4.3z" fill="#62a8da"/>
<path d="M575.63 150.51l2.15 3.74h-4.3z" fill="#62a8da"/>
<path d="M575.88 151.18l2.15 3.74h-4.3z" fill="#62a8da"/>
<path d="M576.12 151.52l2.15 3.74h-4.3z" fill="#62a8da"/>
<path d="M576.37 149.49l2.15 3.74h-4.3z" fill="#62a8da"/>
<path d="M576.61 152.83l2.15 3.74h-4.3z" fill="#62a8da"/>
<path d="M576.86 149.88l2.15 3.74h-4.3z" fill="#62a8da"/>
<path d="M577.1 151.21l2.15 3.74h-4.3z" fill="#62a8da"/>
<path d="M577.35 151.01l2.15 3.74h-4.3z" fill="#62a8da"/>
<path d="M577.59 150.75l2.15 3.74h-4.3z" fill="#62a8da"/>
<path d="M577.84 150.5l2.15 3.74h-4.3z" fill="#62a8da"/>
<path d="M578.08 151.33l2.15 3.74h-4.3z" fill="#62a8da"/>
<path d="M578.32 151.59l2.15 3.74h-4.3z" fill="#62a8da"/>
<path d="M578.57 150.47l2.15 3.74h-4.3z" fill="#62a8da"/>
<path d="M578.81 149.85l2.15 3.74h-4.3z" fill="#62a8da"/>
<path d="M579.06 150.82l2.15 3.74h-4.3z" fill="#62a8da"/>
<path d="M579.3 149.16l2.15 3.74h-4.3z" fill="#62a8da"/>
<path d="M579.55 151.43l2.15 3.74h-4.3z" fill="#62a8da"/>
<path d="M579.79 150.06l2.15 3.74h-4.3z" fill="#62a8da"/>
<path d="M580.04 150.26l2.15 3.74h-4.3z" fill="#62a8da"/>
<path d="M580.28 149.7l2.15 3.74h-4.3z" fill="#62a8da"/>
<path d="M580.53 151.25l2.15 3.74h-4.3z" fill="#62a8da"/>
<path d="M580.77 150.12l2.15 3.74h-4.3z" fill="#62a8da"/>
<path d="M581.02 150.6l2.15 3.74h-4.3z" fill="#62a8da"/>
<path d="M581.26 151.99l2.15 3.74h-4.3z" fill="#62a8da"/>
<path d="M581.51 150.79l2.15 3.74h-4.3z" fill="#62a8da"/>
<path d="M581.75 151.43l2.15 3.74h-4.3z" fill="#62a8da"/>
<path d="M582 150.72l2.15 3.74h-4.3z" fill="#62a8da"/>
<path d="M582.25 150.08l2.15 3.74h-4.3z" fill="#62a8da"/>
<path d="M582.49 150.54l2.15 3.74h-4.3z" fill="#62a8da"/>
<path d="M582.74 149.28l2.15 3.74h-4.3z" fill="#62a8da"/>
<path d="M582.98 150.03l2.15 3.74h-4.3z" fill="#62a8da"/>
<path d="M583.23 150.85l2.15 3.74h-4.3z" fill="#62a8da"/>
<path d="M583.47 150.69l2.15 3.74h-4.3z" fill="#62a8da"/>
<path d="M583.71 150.22l2.15 3.74h-4.3z" fill="#62a8da"/>
<path d="M583.96 150.94l2.15 3.74h-4.3z" fill="#62a8da"/>
<path d="M584.2 150.12l2.15 3.74h-4.3z" fill="#62a8da"/>
<path d="M584.45 150.1l2.15 3.74h-4.3z" fill="#62a8da"/>
<path d="M584.69 149.86l2.15 3.74h-4.3z" fill="#62a8da"/>
<path d="M584.94 150.37l2.15 3.74h-4.3z" fill="#62a8da"/>
<path d="M585.18 150.4l2.15 3.74h-4.3z" fill="#62a8da"/>
<path d="M585.43 151.25l2.15 3.74h-4.3z" fill="#62a8da"/>
<path d="M585.67 150.38l2.15 3.74h-4.3z" fill="#62a8da"/>
<path d="M585.92 150.62l2.15 3.74h-4.3z" fill="#62a8da"/>
<path d="M586.16 150.43l2.15 3.74h-4.3z" fill="#62a8da"/>
<path d="M586.41 150.3l2.15 3.74h-4.3z" fill="#62a8da"/>
<path d="M586.65 151.02l2.15 3.74h-4.3z" fill="#62a8da"/>
<path d="M586.9 150.86l2.15 3.74h-4.3z" fill="#62a8da"/>
<path d="M587.14 151.08l2.15 3.74h-4.3z" fill="#62a8da"/>
<path d="M587.39 151.39l2.15 3.74h-4.3z" fill="#62a8da"/>
<path d="M587.63 151.83l2.15 3.74h-4.3z" fill="#62a8da"/>
<path d="M587.88 151.37l2.15 3.74h-4.3z" fill="#62a8da"/>
<path d="M588.12 150.42l2.15 3.74h-4.3z" fill="#62a8da"/>
<path d="M588.37 152.24l2.15 3.74h-4.3z" fill="#62a8da"/>
<path d="M588.62 150.48l2.15 3.74h-4.3z" fill="#62a8da"/>
<path d="M588.86 150.36l2.15 3.74h-4.3z" fill="#62a8da"/>
<path d="M589.11 150.27l2.15 3.74h-4.3z" fill="#62a8da"/>
<path d="M589.35 151.1l2.15 3.74h-4.3z" fill="#62a8da"/>
<path d="M589.6 151.14l2.15 3.74h-4.3z" fill="#62a8da"/>
<path d="M589.84 150.28l2.15 3.74h-4.3z" fill="#62a8da"/>
<path d="M590.09 150.51l2.15 3.74h-4.3z" fill="#62a8da"/>
<path d="M590.33 149.93l2.15 3.74h-4.3z" fill="#62a8da"/>
<path d="M590.57 151.3l2.15 3.74h-4.3z" fill="#62a8da"/>
<path d="M590.82 151.36l2.15 3.74h-4.3z" fill="#62a8da"/>
<path d="M591.06 150.41l2.15 3.74h-4.3z" fill="#62a8da"/>
<path d="M591.31 151.38l2.15 3.74h-4.3z" fill="#62a8da"/>
<path d="M591.55 151.26l2.15 3.74h-4.3z" fill="#62a8da"/>
<path d="M591.8 150.38l2.15 3.74h-4.3z" fill="#62a8da"/>
<path d="M592.04 150.74l2.15 3.74h-4.3z" fill="#62a8da"/>
<path d="M592.29 151.53l2.15 3.74h-4.3z" fill="#62a8da"/>
<path d="M592.53 150.95l2.15 3.74h-4.3z" fill="#62a8da"/>
<path d="M592.78 151.38l2.15 3.74h-4.3z" fill="#62a8da"/>
<path d="M593.02 150.7l2.15 3.74h-4.3z" fill="#62a8da"/>
<path d="M593.27 151.19l2.15 3.74h-4.3z" fill="#62a8da"/>
<path d="M593.51 151.99l2.15 3.74h-4.3z" fill="#62a8da"/>
<path d="M593.76 150.36l2.15 3.74h-4.3z" fill="#62a8da"/>
<path d="M594 151.54l2.15 3.74h-4.3z" fill="#62a8da"/>
<path d="M594.25 151.49l2.15 3.74h-4.3z" fill="#62a8da"/>
<path d="M594.5 151.95l2.15 3.74h-4.3z" fill="#62a8da"/>
<path d="M594.74 151.58l2.15 3.74h-4.3z" fill="#62a8da"/>
<path d="M594.99 151.85l2.15 3.74h-4.3z" fill="#62a8da"/>
<path d="M595.23 151.28l2.15 3.74h-4.3z" fill="#62a8da"/>
<path d="M595.48 151.33l2.15 3.74h-4.3z" fill="#62a8da"/>
<path d="M595.72 150.92l2.15 3.74h-4.3z" fill="#62a8da"/>
<path d="M595.96 151.2l2.15 3.74h-4.3z" fill="#62a8da"/>
<path d="M596.21 152.04l2.15 3.74h-4.3z" fill="#62a8da"/>
<path d="M596.45 152.19l2.15 3.74h-4.3z" fill="#62a8da"/>
<path d="M596.7 152.27l2.15 3.74h-4.3z" fill="#62a8da"/>
<path d="M596.94 151.14l2.15 3.74h-4.3z" fill="#62a8da"/>
<path d="M597.19 152.29l2.15 3.74h-4.3z" fill="#62a8da"/>
<path d="M597.43 150.83l2.15 3.74h-4.3z" fill="#62a8da"/>
<path d="M597.68 151.7l2.15 3.74h-4.3z" fill="#62a8da"/>
<path d="M597.92 151.85l2.15 3.74h-4.3z" fill="#62a8da"/>
<path d="M598.17 151.72l2.15 3.74h-4.3z" fill="#62a8da"/>
<path d="M598.41 150.68l2.15 3.74h-4.3z" fill="#62a8da"/>
<path d="M598.66 151.78l2.15 3.74h-4.3z" fill="#62a8da"/>
<path d="M598.9 152.08l2.15 3.74h-4.3z" fill="#62a8da"/>
<path d="M599.15 152.53l2.15 3.74h-4.3z" fill="#62a8da"/>
<path d="M599.39 152.89l2.15 3.74h-4.3z" fill="#62a8da"/>
<path d="M599.64 152.3l2.15 3.74h-4.3z" fill="#62a8da"/>
<path d="M599.88 151.03l2.15 3.74h-4.3z" fill="#62a8da"/>
<path d="M600.13 151.47l2.15 3.74h-4.3z" fill="#62a8da"/>
<path d="M600.38 152.33l2.15 3.74h-4.3z" fill="#62a8da"/>
<path d="M600.62 153.42l2.15 3.74h-4.3z" fill="#62a8da"/>
<path d="M600.87 151.13l2.15 3.74h-4.3z" fill="#62a8da"/>
<path d="M601.11 151.6l2.15 3.74h-4.3z" fill="#62a8da"/>
<path d="M601.36 153.16l2.15 3.74h-4.3z" fill="#62a8da"/>
<path d="M601.6 151.95l2.15 3.74h-4.3z" fill="#62a8da"/>
<path d="M601.85 152.51l2.15 3.74h-4.3z" fill="#62a8da"/>
<path d="M602.09 151.14l2.15 3.74h-4.3z" fill="#62a8da"/>
<path d="M602.34 151.37l2.15 3.74h-4.3z" fill="#62a8da"/>
<path d="M602.58 152.2l2.15 3.74h-4.3z" fill="#62a8da"/>
<path d="M602.82 153.19l2.15 3.74h-4.3z" fill="#62a8da"/>
<path d="M603.07 151.93l2.15 3.74h-4.3z" fill="#62a8da"/>
<path d="M603.31 150.07l2.15 3.74h-4.3z" fill="#62a8da"/>
<path d="M603.56 151.39l2.15 3.74h-4.3z" fill="#62a8da"/>
<path d="M603.8 152.02l2.15 3.74h-4.3z" fill="#62a8da"/>
<path d="M604.05 151.06l2.15 3.74h-4.3z" fill="#62a8da"/>
<path d="M604.29 151.98l2.15 3.74h-4.3z" fill="#62a8da"/>
<path d="M604.54 150.55l2.15 3.74h-4.3z" fill="#62a8da"/>
<path d="M604.78 152.72l2.15 3.74h-4.3z" fill="#62a8da"/>
<path d="M605.03 151.86l2.15 3.74h-4.3z" fill="#62a8da"/>
<path d="M605.27 150.55l2.15 3.74h-4.3z" fill="#62a8da"/>
<path d="M605.52 150.78l2.15 3.74h-4.3z" fill="#62a8da"/>
<path d="M605.76 151.15l2.15 3.74h-4.3z" fill="#62a8da"/>
<path d="M606.01 152.44l2.15 3.74h-4.3z" fill="#62a8da"/>
<path d="M606.25 151.44l2.15 3.74h-4.3z" fill="#62a8da"/>
<path d="M606.5 151.01l2.15 3.74h-4.3z" fill="#62a8da"/>
<path d="M606.75 151.71l2.15 3.74h-4.3z" fill="#62a8da"/>
<path d="M606.99 151.39l2.15 3.74h-4.3z" fill="#62a8da"/>
<path d="M607.24 150.8l2.15 3.74h-4.3z" fill="#62a8da"/>
<path d="M607.48 151.61l2.15 3.74h-4.3z" fill="#62a8da"/>
<path d="M607.73 151l2.15 3.74h-4.3z" fill="#62a8da"/>
<path d="M607.97 151.5l2.15 3.74h-4.3z" fill="#62a8da"/>
<path d="M608.21 152.06l2.15 3.74h-4.3z" fill="#62a8da"/>
<path d="M608.46 152.27l2.15 3.74h-4.3z" fill="#62a8da"/>
<path d="M608.7 151.74l2.15 3.74h-4.3z" fill="#62a8da"/>
<path d="M608.95 151.84l2.15 3.74h-4.3z" fill="#62a8da"/>
<path d="M609.19 150.6l2.15 3.74h-4.3z" fill="#62a8da"/>
<path d="M609.44 151.19l2.15 3.74h-4.3z" fill="#62a8da"/>
<path d="M609.68 152.47l2.15 3.74h-4.3z" fill="#62a8da"/>
<path d="M609.93 150.25l2.15 3.74h-4.3z" fill="#62a8da"/>
<path d="M610.17 149.63l2.15 3.74h-4.3z" fill="#62a8da"/>
<path d="M610.42 151.49l2.15 3.74h-4.3z" fill="#62a8da"/>
<path d="M610.66 150.82l2.15 3.74h-4.3z" fill="#62a8da"/>
<path d="M610.91 151.26l2.15 3.74h-4.3z" fill="#62a8da"/>
<path d="M611.15 150.67l2.15 3.74h-4.3z" fill="#62a8da"/>
<path d="M611.4 151.1l2.15 3.74h-4.3z" fill="#62a8da"/>
<path d="M611.64 150.86l2.15 3.74h-4.3z" fill="#62a8da"/>
<path d="M611.89 151.17l2.15 3.74h-4.3z" fill="#62a8da"/>
<path d="M612.13 151.57l2.15 3.74h-4.3z" fill="#62a8da"/>
<path d="M612.38 151.39l2.15 3.74h-4.3z" fill="#62a8da"/>
<path d="M612.62 151.68l2.15 3.74h-4.3z" fill="#62a8da"/>
<path d="M612.87 151.6l2.15 3.74h-4.3z" fill="#62a8da"/>
<path d="M613.12 151.46l2.15 3.74h-4.3z" fill="#62a8da"/>
<path d="M613.36 149.51l2.15 3.74h-4.3z" fill="#62a8da"/>
<path d="M613.61 150.69l2.15 3.74h-4.3z" fill="#62a8da"/>
<path d="M613.85 149.98l2.15 3.74h-4.3z" fill="#62a8da"/>
<path d="M614.1 152.18l2.15 3.74h-4.3z" fill="#62a8da"/>
<path d="M614.34 151.4l2.15 3.74h-4.3z" fill="#62a8da"/>
<path d="M614.59 150.59l2.15 3.74h-4.3z" fill="#62a8da"/>
<path d="M614.83 150.43l2.15 3.74h-4.3z" fill="#62a8da"/>
<path d="M615.07 150.96l2.15 3.74h-4.3z" fill="#62a8da"/>
<path d="M615.32 151.58l2.15 3.74h-4.3z" fill="#62a8da"/>
<path d="M615.56 152.26l2.15 3.74h-4.3z" fill="#62a8da"/>
<path d="M615.81 151.18l2.15 3.74h-4.3z" fill="#62a8da"/>
<path d="M616.05 152.44l2.15 3.74h-4.3z" fill="#62a8da"/>
<path d="M616.3 151.22l2.15 3.74h-4.3z" fill="#62a8da"/>
<path d="M616.54 151.76l2.15 3.74h-4.3z" fill="#62a8da"/>
<path d="M616.79 151.88l2.15 3.74h-4.3z" fill="#62a8da"/>
<path d="M617.03 151.94l2.15 3.74h-4.3z" fill="#62a8da"/>
<path d="M617.28 152.51l2.15 3.74h-4.3z" fill="#62a8da"/>
<path d="M617.52 152.37l2.15 3.74h-4.3z" fill="#62a8da"/>
<path d="M617.77 151.35l2.15 3.74h-4.3z" fill="#62a8da"/>
<path d="M618.01 152.07l2.15 3.74h-4.3z" fill="#62a8da"/>
<path d="M618.26 152.17l2.15 3.74h-4.3z" fill="#62a8da"/>
<path d="M618.5 151.08l2.15 3.74h-4.3z" fill="#62a8da"/>
<path d="M618.75 151.32l2.15 3.74h-4.3z" fill="#62a8da"/>
<path d="M619 151.53l2.15 3.74h-4.3z" fill="#62a8da"/>
<path d="M619.24 152.77l2.15 3.74h-4.3z" fill="#62a8da"/>
<path d="M619.49 151.11l2.15 3.74h-4.3z" fill="#62a8da"/>
<path d="M619.73 151.48l2.15 3.74h-4.3z" fill="#62a8da"/>
<path d="M619.97 152.53l2.15 3.74h-4.3z" fill="#62a8da"/>
<path d="M620.22 152.3l2.15 3.74h-4.3z" fill="#62a8da"/>
<path d="M620.46 151.36l2.15 3.74h-4.3z" fill="#62a8da"/>
<path d="M620.71 151.19l2.15 3.74h-4.3z" fill="#62a8da"/>
<path d="M620.95 152.24l2.15 3.74h-4.3z" fill="#62a8da"/>
<path d="M621.2 152.78l2.15 3.74h-4.3z" fill="#62a8da"/>
<path d="M621.44 151.26l2.15 3.74h-4.3z" fill="#62a8da"/>
<path d="M621.69 152.4l2.15 3.74h-4.3z" fill="#62a8da"/>
<path d="M621.93 151.59l2.15 3.74h-4.3z" fill="#62a8da"/>
<path d="M622.18 152.11l2.15 3.74h-4.3z" fill="#62a8da"/>
<path d="M622.42 152.26l2.15 3.74h-4.3z" fill="#62a8da"/>
<path d="M622.67 152.47l2.15 3.74h-4.3z" fill="#62a8da"/>
<path d="M622.91 151.26l2.15 3.74h-4.3z" fill="#62a8da"/>
<path d="M623.16 152.5l2.15 3.74h-4.3z" fill="#62a8da"/>
<path d="M623.4 152.27l2.15 3.74h-4.3z" fill="#62a8da"/>
<path d="M623.65 152.73l2.15 3.74h-4.3z" fill="#62a8da"/>
<path d="M623.89 151.04l2.15 3.74h-4.3z" fill="#62a8da"/>
<path d="M624.14 152.33l2.15 3.74h-4.3z" fill="#62a8da"/>
<path d="M624.38 153.12l2.15 3.74h-4.3z" fill="#62a8da"/>
<path d="M624.63 152.49l2.15 3.74h-4.3z" fill="#62a8da"/>
<path d="M624.88 153.57l2.15 3.74h-4.3z" fill="#62a8da"/>
<path d="M625.12 152.61l2.15 3.74h-4.3z" fill="#62a8da"/>
<path d="M625.37 153.29l2.15 3.74h-4.3z" fill="#62a8da"/>
<path d="M625.61 151.72l2.15 3.74h-4.3z" fill="#62a8da"/>
<path d="M625.86 151.59l2.15 3.74h-4.3z" fill="#62a8da"/>
<path d="M626.1 151.01l2.15 3.74h-4.3z" fill="#62a8da"/>
<path d="M626.35 152.77l2.15 3.74h-4.3z" fill="#62a8da"/>
<path d="M626.59 153.13l2.15 3.74h-4.3z" fill="#62a8da"/>
<path d="M626.84 153.93l2.15 3.74h-4.3z" fill="#62a8da"/>
<path d="M627.08 152.42l2.15 3.74h-4.3z" fill="#62a8da"/>
<path d="M627.33 153.09l2.15 3.74h-4.3z" fill="#62a8da"/>
<path d="M627.57 151.74l2.15 3.74h-4.3z" fill="#62a8da"/>
<path d="M627.81 151.25l2.15 3.74h-4.3z" fill="#62a8da"/>
<path d="M628.06 153.54l2.15 3.74h-4.3z" fill="#62a8da"/>
<path d="M628.3 152.69l2.15 3.74h-4.3z" fill="#62a8da"/>
<path d="M628.55 151.5l2.15 3.74h-4.3z" fill="#62a8da"/>
<path d="M628.79 153.57l2.15 3.74h-4.3z" fill="#62a8da"/>
<path d="M629.04 153.4l2.15 3.74h-4.3z" fill="#62a8da"/>
<path d="M629.28 152.04l2.15 3.74h-4.3z" fill="#62a8da"/>
<path d="M629.53 152.36l2.15 3.74h-4.3z" fill="#62a8da"/>
<path d="M629.77 153.78l2.15 3.74h-4.3z" fill="#62a8da"/>
<path d="M630.02 152.28l2.15 3.74h-4.3z" fill="#62a8da"/>
<path d="M630.26 152.81l2.15 3.74h-4.3z" fill="#62a8da"/>
<path d="M630.51 152.56l2.15 3.74h-4.3z" fill="#62a8da"/>
<path d="M630.75 152.3l2.15 3.74h-4.3z" fill="#62a8da"/>
<path d="M631 151.41l2.15 3.74h-4.3z" fill="#62a8da"/>
<path d="M631.25 151.96l2.15 3.74h-4.3z" fill="#62a8da"/>
<path d="M631.49 153.14l2.15 3.74h-4.3z" fill="#62a8da"/>
<path d="M631.74 151.57l2.15 3.74h-4.3z" fill="#62a8da"/>
<path d="M631.98 152l2.15 3.74h-4.3z" fill="#62a8da"/>
<path d="M632.22 152.17l2.15 3.74h-4.3z" fill="#62a8da"/>
<path d="M632.47 152.91l2.15 3.74h-4.3z" fill="#62a8da"/>
<path d="M632.71 153.02l2.15 3.74h-4.3z" fill="#62a8da"/>
<path d="M632.96 152.41l2.15 3.74h-4.3z" fill="#62a8da"/>
<path d="M633.2 151.45l2.15 3.74h-4.3z" fill="#62a8da"/>
<path d="M633.45 152.08l2.15 3.74h-4.3z" fill="#62a8da"/>
<path d="M633.69 152.26l2.15 3.74h-4.3z" fill="#62a8da"/>
<path d="M633.94 152.15l2.15 3.74h-4.3z" fill="#62a8da"/>
<path d="M634.18 152.12l2.15 3.74h-4.3z" fill="#62a8da"/>
<path d="M634.43 152.5l2.15 3.74h-4.3z" fill="#62a8da"/>
<path d="M634.67 152.25l2.15 3.74h-4.3z" fill="#62a8da"/>
<path d="M634.92 153.49l2.15 3.74h-4.3z" fill="#62a8da"/>
<path d="M635.16 152.28l2.15 3.74h-4.3z" fill="#62a8da"/>
<path d="M635.41 151.63l2.15 3.74h-4.3z" fill="#62a8da"/>
<path d="M635.65 152.06l2.15 3.74h-4.3z" fill="#62a8da"/>
<path d="M635.9 151.2l2.15 3.74h-4.3z" fill="#62a8da"/>
<path d="M636.14 151.13l2.15 3.74h-4.3z" fill="#62a8da"/>
<path d="M636.39 152.34l2.15 3.74h-4.3z" fill="#62a8da"/>
<path d="M636.63 152.95l2.15 3.74h-4.3z" fill="#62a8da"/>
<path d="M636.88 152.09l2.15 3.74h-4.3z" fill="#62a8da"/>
<path d="M637.12 152.96l2.15 3.74h-4.3z" fill="#62a8da"/>
<path d="M637.37 151.52l2.15 3.74h-4.3z" fill="#62a8da"/>
<path d="M637.62 152.12l2.15 3.74h-4.3z" fill="#62a8da"/>
<path d="M637.86 151.56l2.15 3.74h-4.3z" fill="#62a8da"/>
<path d="M638.11 152.19l2.15 3.74h-4.3z" fill="#62a8da"/>
<path d="M638.35 152.48l2.15 3.74h-4.3z" fill="#62a8da"/>
<path d="M638.6 150.95l2.15 3.74h-4.3z" fill="#62a8da"/>
<path d="M638.84 152.06l2.15 3.74h-4.3z" fill="#62a8da"/>
<path d="M639.09 151.91l2.15 3.74h-4.3z" fill="#62a8da"/>
<path d="M639.33 151.83l2.15 3.74h-4.3z" fill="#62a8da"/>
<path d="M639.58 152.23l2.15 3.74h-4.3z" fill="#62a8da"/>
<path d="M639.82 152.14l2.15 3.74h-4.3z" fill="#62a8da"/>
<path d="M640.06 152.81l2.15 3.74h-4.3z" fill="#62a8da"/>
<path d="M640.31 151.92l2.15 3.74h-4.3z" fill="#62a8da"/>
<path d="M640.55 151.68l2.15 3.74h-4.3z" fill="#62a8da"/>
<path d="M640.8 152.51l2.15 3.74h-4.3z" fill="#62a8da"/>
<path d="M641.04 153.05l2.15 3.74h-4.3z" fill="#62a8da"/>
<path d="M641.29 152.24l2.15 3.74h-4.3z" fill="#62a8da"/>
<path d="M641.53 151.51l2.15 3.74h-4.3z" fill="#62a8da"/>
<path d="M641.78 151.46l2.15 3.74h-4.3z" fill="#62a8da"/>
<path d="M642.02 151.69l2.15 3.74h-4.3z" fill="#62a8da"/>
<path d="M642.27 152.48l2.15 3.74h-4.3z" fill="#62a8da"/>
<path d="M642.51 151.67l2.15 3.74h-4.3z" fill="#62a8da"/>
<path d="M642.76 152.04l2.15 3.74h-4.3z" fill="#62a8da"/>
<path d="M643 151.4l2.15 3.74h-4.3z" fill="#62a8da"/>
<path d="M643.25 151.63l2.15 3.74h-4.3z" fill="#62a8da"/>
<path d="M643.5 152.56l2.15 3.74h-4.3z" fill="#62a8da"/>
<path d="M643.74 151.83l2.15 3.74h-4.3z" fill="#62a8da"/>
<path d="M643.99 151.85l2.15 3.74h-4.3z" fill="#62a8da"/>
<path d="M644.23 151.3l2.15 3.74h-4.3z" fill="#62a8da"/>
<path d="M644.47 150.81l2.15 3.74h-4.3z" fill="#62a8da"/>
<path d="M644.72 152.98l2.15 3.74h-4.3z" fill="#62a8da"/>
<path d="M644.96 152.41l2.15 3.74h-4.3z" fill="#62a8da"/>
<path d="M645.21 152.43l2.15 3.74h-4.3z" fill="#62a8da"/>
<path d="M645.45 152.43l2.15 3.74h-4.3z" fill="#62a8da"/>
<path d="M645.7 152.31l2.15 3.74h-4.3z" fill="#62a8da"/>
<path d="M645.94 151.08l2.15 3.74h-4.3z" fill="#62a8da"/>
<path d="M646.19 151.73l2.15 3.74h-4.3z" fill="#62a8da"/>
<path d="M646.43 152.24l2.15 3.74h-4.3z" fill="#62a8da"/>
<path d="M646.68 151.84l2.15 3.74h-4.3z" fill="#62a8da"/>
<path d="M646.92 152.12l2.15 3.74h-4.3z" fill="#62a8da"/>
<path d="M647.17 152.59l2.15 3.74h-4.3z" fill="#62a8da"/>
<path d="M647.41 152.29l2.15 3.74h-4.3z" fill="#62a8da"/>
<path d="M647.66 151.98l2.15 3.74h-4.3z" fill="#62a8da"/>
<path d="M647.9 151.61l2.15 3.74h-4.3z" fill="#62a8da"/>
<path d="M648.15 153.03l2.15 3.74h-4.3z" fill="#62a8da"/>
<circle cx="489.14" cy="111.37" r="2.35" fill="#f9603f"/>
<circle cx="489.39" cy="111.37" r="2.35" fill="#f9603f"/>
<circle cx="489.63" cy="111.37" r="2.35" fill="#f9603f"/>
<circle cx="489.88" cy="108.05" r="2.35" fill="#f9603f"/>
<circle cx="490.12" cy="108.39" r="2.35" fill="#f9603f"/>
<circle cx="490.37" cy="107.75" r="2.35" fill="#f9603f"/>
<circle cx="490.61" cy="107.48" r="2.35" fill="#f9603f"/>
<circle cx="490.86" cy="107.18" r="2.35" fill="#f9603f"/>
<circle cx="491.1" cy="108.29" r="2.35" fill="#f9603f"/>
<circle cx="491.35" cy="108.35" r="2.35" fill="#f9603f"/>
<circle cx="491.59" cy="107.43" r="2.35" fill="#f9603f"/>
<circle cx="491.84" cy="107.58" r="2.35" fill="#f9603f"/>
<circle cx="492.08" cy="107.13" r="2.35" fill="#f9603f"/>
<circle cx="492.33" cy="107.45" r="2.35" fill="#f9603f"/>
<circle cx="492.57" cy="108.03" r="2.35" fill="#f9603f"/>
<circle cx="492.82" cy="108.17" r="2.35" fill="#f9603f"/>
<circle cx="493.06" cy="106.88" r="2.35" fill="#f9603f"/>
<circle cx="493.31" cy="108.3" r="2.35" fill="#f9603f"/>
<circle cx="493.55" cy="108.6" r="2.35" fill="#f9603f"/>
<circle cx="493.8" cy="108.82" r="2.35" fill="#f9603f"/>
<circle cx="494.04" cy="108.29" r="2.35" fill="#f9603f"/>
<circle cx="494.29" cy="108.3" r="2.35" fill="#f9603f"/>
<circle cx="494.53" cy="108.57" r="2.35" fill="#f9603f"/>
<circle cx="494.78" cy="108.46" r="2.35" fill="#f9603f"/>
<circle cx="495.02" cy="108.31" r="2.35" fill="#f9603f"/>
<circle cx="495.27" cy="108.11" r="2.35" fill="#f9603f"/>
<circle cx="495.51" cy="107.9" r="2.35" fill="#f9603f"/>
<circle cx="495.76" cy="108.3" r="2.35" fill="#f9603f"/>
<circle cx="496" cy="109.22" r="2.35" fill="#f9603f"/>
<circle cx="496.25" cy="107.98" r="2.35" fill="#f9603f"/>
<circle cx="496.5" cy="108.93" r="2.35" fill="#f9603f"/>
<circle cx="496.74" cy="108.27" r="2.35" fill="#f9603f"/>
<circle cx="496.98" cy="108.81" r="2.35" fill="#f9603f"/>
<circle cx="497.23" cy="108.02" r="2.35" fill="#f9603f"/>
<circle cx="497.47" cy="108.3" r="2.35" fill="#f9603f"/>
<circle cx="497.72" cy="107.73" r="2.35" fill="#f9603f"/>
<circle cx="497.96" cy="106.16" r="2.35" fill="#f9603f"/>
<circle cx="498.21" cy="107.66" r="2.35" fill="#f9603f"/>
<circle cx="498.45" cy="107.14" r="2.35" fill="#f9603f"/>
<circle cx="498.7" cy="108.07" r="2.35" fill="#f9603f"/>
<circle cx="498.94" cy="107.49" r="2.35" fill="#f9603f"/>
<circle cx="499.19" cy="106.95" r="2.35" fill="#f9603f"/>
<circle cx="499.44" cy="107.24" r="2.35" fill="#f9603f"/>
<circle cx="499.68" cy="106.95" r="2.35" fill="#f9603f"/>
<circle cx="499.92" cy="107.03" r="2.35" fill="#f9603f"/>
<circle cx="500.17" cy="107.52" r="2.35" fill="#f9603f"/>
<circle cx="500.41" cy="106.74" r="2.35" fill="#f9603f"/>
<circle cx="500.66" cy="107.39" r="2.35" fill="#f9603f"/>
<circle cx="500.9" cy="106.11" r="2.35" fill="#f9603f"/>
<circle cx="501.15" cy="107.27" r="2.35" fill="#f9603f"/>
<circle cx="501.39" cy="106.74" r="2.35" fill="#f9603f"/>
<circle cx="501.64" cy="107.11" r="2.35" fill="#f9603f"/>
<circle cx="501.88" cy="106.73" r="2.35" fill="#f9603f"/>
<circle cx="502.13" cy="107.55" r="2.35" fill="#f9603f"/>
<circle cx="502.38" cy="106.89" r="2.35" fill="#f9603f"/>
<circle cx="502.62" cy="107.53" r="2.35" fill="#f9603f"/>
<circle cx="502.86" cy="106.99" r="2.35" fill="#f9603f"/>
<circle cx="503.11" cy="107.43" r="2.35" fill="#f9603f"/>
<circle cx="503.35" cy="107.79" r="2.35" fill="#f9603f"/>
<circle cx="503.6" cy="108.38" r="2.35" fill="#f9603f"/>
<circle cx="503.84" cy="107.79" r="2.35" fill="#f9603f"/>
<circle cx="504.09" cy="108.08" r="2.35" fill="#f9603f"/>
<circle cx="504.33" cy="107.67" r="2.35" fill="#f9603f"/>
<circle cx="504.58" cy="108.78" r="2.35" fill="#f9603f"/>
<circle cx="504.82" cy="108.48" r="2.35" fill="#f9603f"/>
<circle cx="505.07" cy="108.64" r="2.35" fill="#f9603f"/>
<circle cx="505.31" cy="108.88" r="2.35" fill="#f9603f"/>
<circle cx="505.56" cy="109.04" r="2.35" fill="#f9603f"/>
<circle cx="505.8" cy="109.16" r="2.35" fill="#f9603f"/>
<circle cx="506.05" cy="109.63" r="2.35" fill="#f9603f"/>
<circle cx="506.29" cy="109.91" r="2.35" fill="#f9603f"/>
<circle cx="506.54" cy="109.69" r="2.35" fill="#f9603f"/>
<circle cx="506.78" cy="109.28" r="2.35" fill="#f9603f"/>
<circle cx="507.03" cy="108.89" r="2.35" fill="#f9603f"/>
<circle cx="507.27" cy="109.17" r="2.35" fill="#f9603f"/>
<circle cx="507.52" cy="109.15" r="2.35" fill="#f9603f"/>
<circle cx="507.76" cy="109.28" r="2.35" fill="#f9603f"/>
<circle cx="508.01" cy="109.31" r="2.35" fill="#f9603f"/>
<circle cx="508.25" cy="109.54" r="2.35" fill="#f9603f"/>
<circle cx="508.5" cy="109.22" r="2.35" fill="#f9603f"/>
<circle cx="508.75" cy="108.71" r="2.35" fill="#f9603f"/>
<circle cx="508.99" cy="109.66" r="2.35" fill="#f9603f"/>
<circle cx="509.23" cy="109.78" r="2.35" fill="#f9603f"/>
<circle cx="509.48" cy="108.46" r="2.35" fill="#f9603f"/>
<circle cx="509.72" cy="109.22" r="2.35" fill="#f9603f"/>
<circle cx="509.97" cy="108.81" r="2.35" fill="#f9603f"/>
<circle cx="510.21" cy="108.8" r="2.35" fill="#f9603f"/>
<circle cx="510.46" cy="109.7" r="2.35" fill="#f9603f"/>
<circle cx="510.7" cy="107.95" r="2.35" fill="#f9603f"/>
<circle cx="510.95" cy="108.23" r="2.35" fill="#f9603f"/>
<circle cx="511.19" cy="108.95" r="2.35" fill="#f9603f"/>
<circle cx="511.44" cy="108.66" r="2.35" fill="#f9603f"/>
<circle cx="511.69" cy="108.94" r="2.35" fill="#f9603f"/>
<circle cx="511.93" cy="109.42" r="2.35" fill="#f9603f"/>
<circle cx="512.17" cy="109.06" r="2.35" fill="#f9603f"/>
<circle cx="512.42" cy="108.85" r="2.35" fill="#f9603f"/>
<circle cx="512.66" cy="108.53" r="2.35" fill="#f9603f"/>
<circle cx="512.91" cy="108.77" r="2.35" fill="#f9603f"/>
<circle cx="513.15" cy="109.14" r="2.35" fill="#f9603f"/>
<circle cx="513.4" cy="108.59" r="2.35" fill="#f9603f"/>
<circle cx="513.64" cy="109.68" r="2.35" fill="#f9603f"/>
<circle cx="513.89" cy="109.02" r="2.35" fill="#f9603f"/>
<circle cx="514.13" cy="108.97" r="2.35" fill="#f9603f"/>
<circle cx="514.38" cy="109.74" r="2.35" fill="#f9603f"/>
<circle cx="514.62" cy="110.56" r="2.35" fill="#f9603f"/>
<circle cx="514.87" cy="110.24" r="2.35" fill="#f9603f"/>
<circle cx="515.12" cy="109.8" r="2.35" fill="#f9603f"/>
<circle cx="515.36" cy="109.77" r="2.35" fill="#f9603f"/>
<circle cx="515.61" cy="109.39" r="2.35" fill="#f9603f"/>
<circle cx="515.85" cy="110.7" r="2.35" fill="#f9603f"/>
<circle cx="516.1" cy="110.31" r="2.35" fill="#f9603f"/>
<circle cx="516.34" cy="110.08" r="2.35" fill="#f9603f"/>
<circle cx="516.58" cy="110.54" r="2.35" fill="#f9603f"/>
<circle cx="516.83" cy="111.65" r="2.35" fill="#f9603f"/>
<circle cx="517.07" cy="110.18" r="2.35" fill="#f9603f"/>
<circle cx="517.32" cy="109.49" r="2.35" fill="#f9603f"/>
<circle cx="517.56" cy="110.13" r="2.35" fill="#f9603f"/>
<circle cx="517.81" cy="111.05" r="2.35" fill="#f9603f"/>
<circle cx="518.05" cy="110.79" r="2.35" fill="#f9603f"/>
<circle cx="518.3" cy="110.45" r="2.35" fill="#f9603f"/>
<circle cx="518.54" cy="109.32" r="2.35" fill="#f9603f"/>
<circle cx="518.79" cy="110.15" r="2.35" fill="#f9603f"/>
<circle cx="519.03" cy="110.31" r="2.35" fill="#f9603f"/>
<circle cx="519.28" cy="109.53" r="2.35" fill="#f9603f"/>
<circle cx="519.52" cy="110.2" r="2.35" fill="#f9603f"/>
<circle cx="519.77" cy="109.16" r="2.35" fill="#f9603f"/>
<circle cx="520.01" cy="110.25" r="2.35" fill="#f9603f"/>
<circle cx="520.26" cy="110.01" r="2.35" fill="#f9603f"/>
<circle cx="520.5" cy="109.3" r="2.35" fill="#f9603f"/>
<circle cx="520.75" cy="108.82" r="2.35" fill="#f9603f"/>
<circle cx="521" cy="109.04" r="2.35" fill="#f9603f"/>
<circle cx="521.24" cy="109.06" r="2.35" fill="#f9603f"/>
<circle cx="521.49" cy="109.93" r="2.35" fill="#f9603f"/>
<circle cx="521.73" cy="109.26" r="2.35" fill="#f9603f"/>
<circle cx="521.98" cy="109.08" r="2.35" fill="#f9603f"/>
<circle cx="522.22" cy="108.92" r="2.35" fill="#f9603f"/>
<circle cx="522.46" cy="108.27" r="2.35" fill="#f9603f"/>
<circle cx="522.71" cy="108.6" r="2.35" fill="#f9603f"/>
<circle cx="522.95" cy="107.97" r="2.35" fill="#f9603f"/>
<circle cx="523.2" cy="108.22" r="2.35" fill="#f9603f"/>
<circle cx="523.44" cy="108.35" r="2.35" fill="#f9603f"/>
<circle cx="523.69" cy="108.08" r="2.35" fill="#f9603f"/>
<circle cx="523.93" cy="107.89" r="2.35" fill="#f9603f"/>
<circle cx="524.18" cy="107.66" r="2.35" fill="#f9603f"/>
<circle cx="524.42" cy="108.28" r="2.35" fill="#f9603f"/>
<circle cx="524.67" cy="108.16" r="2.35" fill="#f9603f"/>
<circle cx="524.91" cy="108.72" r="2.35" fill="#f9603f"/>
<circle cx="525.16" cy="107.32" r="2.35" fill="#f9603f"/>
<circle cx="525.4" cy="107.43" r="2.35" fill="#f9603f"/>
<circle cx="525.65" cy="108.24" r="2.35" fill="#f9603f"/>
<circle cx="525.89" cy="108.43" r="2.35" fill="#f9603f"/>
<circle cx="526.14" cy="108.85" r="2.35" fill="#f9603f"/>
<circle cx="526.38" cy="108.23" r="2.35" fill="#f9603f"/>
<circle cx="526.63" cy="108.27" r="2.35" fill="#f9603f"/>
<circle cx="526.88" cy="107.38" r="2.35" fill="#f9603f"/>
<circle cx="527.12" cy="108.36" r="2.35" fill="#f9603f"/>
<circle cx="527.37" cy="108.89" r="2.35" fill="#f9603f"/>
<circle cx="527.61" cy="109.73" r="2.35" fill="#f9603f"/>
<circle cx="527.86" cy="107.93" r="2.35" fill="#f9603f"/>
<circle cx="528.1" cy="108.54" r="2.35" fill="#f9603f"/>
<circle cx="528.35" cy="109.41" r="2.35" fill="#f9603f"/>
<circle cx="528.59" cy="108.57" r="2.35" fill="#f9603f"/>
<circle cx="528.84" cy="109.41" r="2.35" fill="#f9603f"/>
<circle cx="529.08" cy="106.97" r="2.35" fill="#f9603f"/>
<circle cx="529.32" cy="108.06" r="2.35" fill="#f9603f"/>
<circle cx="529.57" cy="108.28" r="2.35" fill="#f9603f"/>
<circle cx="529.81" cy="108.58" r="2.35" fill="#f9603f"/>
<circle cx="530.06" cy="109.45" r="2.35" fill="#f9603f"/>
<circle cx="530.3" cy="108.41" r="2.35" fill="#f9603f"/>
<circle cx="530.55" cy="109.01" r="2.35" fill="#f9603f"/>
<circle cx="530.79" cy="107.89" r="2.35" fill="#f9603f"/>
<circle cx="531.04" cy="109.09" r="2.35" fill="#f9603f"/>
<circle cx="531.28" cy="108.39" r="2.35" fill="#f9603f"/>
<circle cx="531.53" cy="107.26" r="2.35" fill="#f9603f"/>
<circle cx="531.77" cy="106.95" r="2.35" fill="#f9603f"/>
<circle cx="532.02" cy="108.18" r="2.35" fill="#f9603f"/>
<circle cx="532.26" cy="108.23" r="2.35" fill="#f9603f"/>
<circle cx="532.51" cy="106.97" r="2.35" fill="#f9603f"/>
<circle cx="532.75" cy="106.88" r="2.35" fill="#f9603f"/>
<circle cx="533" cy="107.66" r="2.35" fill="#f9603f"/>
<circle cx="533.25" cy="107.44" r="2.35" fill="#f9603f"/>
<circle cx="533.49" cy="107.36" r="2.35" fill="#f9603f"/>
<circle cx="533.74" cy="107.54" r="2.35" fill="#f9603f"/>
<circle cx="533.98" cy="107.24" r="2.35" fill="#f9603f"/>
<circle cx="534.23" cy="106.29" r="2.35" fill="#f9603f"/>
<circle cx="534.47" cy="106.54" r="2.35" fill="#f9603f"/>
<circle cx="534.71" cy="105.88" r="2.35" fill="#f9603f"/>
<circle cx="534.96" cy="106.92" r="2.35" fill="#f9603f"/>
<circle cx="535.2" cy="106.97" r="2.35" fill="#f9603f"/>
<circle cx="535.45" cy="107.42" r="2.35" fill="#f9603f"/>
<circle cx="535.69" cy="107.07" r="2.35" fill="#f9603f"/>
<circle cx="535.94" cy="107.72" r="2.35" fill="#f9603f"/>
<circle cx="536.18" cy="108.03" r="2.35" fill="#f9603f"/>
<circle cx="536.43" cy="106.95" r="2.35" fill="#f9603f"/>
<circle cx="536.67" cy="106.71" r="2.35" fill="#f9603f"/>
<circle cx="536.92" cy="107.12" r="2.35" fill="#f9603f"/>
<circle cx="537.16" cy="107.01" r="2.35" fill="#f9603f"/>
<circle cx="537.41" cy="107.66" r="2.35" fill="#f9603f"/>
<circle cx="537.65" cy="108.27" r="2.35" fill="#f9603f"/>
<circle cx="537.9" cy="108.02" r="2.35" fill="#f9603f"/>
<circle cx="538.14" cy="108.38" r="2.35" fill="#f9603f"/>
<circle cx="538.39" cy="108.87" r="2.35" fill="#f9603f"/>
<circle cx="538.63" cy="109.29" r="2.35" fill="#f9603f"/>
<circle cx="538.88" cy="109.32" r="2.35" fill="#f9603f"/>
<circle cx="539.12" cy="108.73" r="2.35" fill="#f9603f"/>
<circle cx="539.37" cy="108.77" r="2.35" fill="#f9603f"/>
<circle cx="539.62" cy="109.17" r="2.35" fill="#f9603f"/>
<circle cx="539.86" cy="108.35" r="2.35" fill="#f9603f"/>
<circle cx="540.11" cy="109.03" r="2.35" fill="#f9603f"/>
<circle cx="540.35" cy="108.9" r="2.35" fill="#f9603f"/>
<circle cx="540.6" cy="108.65" r="2.35" fill="#f9603f"/>
<circle cx="540.84" cy="109.65" r="2.35" fill="#f9603f"/>
<circle cx="541.09" cy="110.23" r="2.35" fill="#f9603f"/>
<circle cx="541.33" cy="108.94" r="2.35" fill="#f9603f"/>
<circle cx="541.57" cy="109.62" r="2.35" fill="#f9603f"/>
<circle cx="541.82" cy="108.66" r="2.35" fill="#f9603f"/>
<circle cx="542.06" cy="109.1" r="2.35" fill="#f9603f"/>
<circle cx="542.31" cy="108.75" r="2.35" fill="#f9603f"/>
<circle cx="542.55" cy="108.82" r="2.35" fill="#f9603f"/>
<circle cx="542.8" cy="110.13" r="2.35" fill="#f9603f"/>
<circle cx="543.04" cy="108.75" r="2.35" fill="#f9603f"/>
<circle cx="543.29" cy="109.36" r="2.35" fill="#f9603f"/>
<circle cx="543.53" cy="109.34" r="2.35" fill="#f9603f"/>
<circle cx="543.78" cy="109.14" r="2.35" fill="#f9603f"/>
<circle cx="544.02" cy="108.52" r="2.35" fill="#f9603f"/>
<circle cx="544.27" cy="108.42" r="2.35" fill="#f9603f"/>
<circle cx="544.51" cy="108.32" r="2.35" fill="#f9603f"/>
<circle cx="544.76" cy="109.56" r="2.35" fill="#f9603f"/>
<circle cx="545" cy="109.03" r="2.35" fill="#f9603f"/>
<circle cx="545.25" cy="109.87" r="2.35" fill="#f9603f"/>
<circle cx="545.5" cy="108.79" r="2.35" fill="#f9603f"/>
<circle cx="545.74" cy="108.47" r="2.35" fill="#f9603f"/>
<circle cx="545.99" cy="109.15" r="2.35" fill="#f9603f"/>
<circle cx="546.23" cy="108.7" r="2.35" fill="#f9603f"/>
<circle cx="546.48" cy="108.76" r="2.35" fill="#f9603f"/>
<circle cx="546.72" cy="108.46" r="2.35" fill="#f9603f"/>
<circle cx="546.96" cy="109.4" r="2.35" fill="#f9603f"/>
<circle cx="547.21" cy="109.49" r="2.35" fill="#f9603f"/>
<circle cx="547.45" cy="109.56" r="2.35" fill="#f9603f"/>
<circle cx="547.7" cy="108.46" r="2.35" fill="#f9603f"/>
<circle cx="547.94" cy="108.89" r="2.35" fill="#f9603f"/>
<circle cx="548.19" cy="109.58" r="2.35" fill="#f9603f"/>
<circle cx="548.43" cy="109.54" r="2.35" fill="#f9603f"/>
<circle cx="548.68" cy="109.71" r="2.35" fill="#f9603f"/>
<circle cx="548.92" cy="109.79" r="2.35" fill="#f9603f"/>
<circle cx="549.17" cy="110.11" r="2.35" fill="#f9603f"/>
<circle cx="549.41" cy="110.29" r="2.35" fill="#f9603f"/>
<circle cx="549.66" cy="110.84" r="2.35" fill="#f9603f"/>
<circle cx="549.9" cy="110.64" r="2.35" fill="#f9603f"/>
<circle cx="550.15" cy="109.64" r="2.35" fill="#f9603f"/>
<circle cx="550.39" cy="110.25" r="2.35" fill="#f9603f"/>
<circle cx="550.64" cy="110.55" r="2.35" fill="#f9603f"/>
<circle cx="550.88" cy="110.74" r="2.35" fill="#f9603f"/>
<circle cx="551.13" cy="110.64" r="2.35" fill="#f9603f"/>
<circle cx="551.38" cy="110.53" r="2.35" fill="#f9603f"/>
<circle cx="551.62" cy="111.01" r="2.35" fill="#f9603f"/>
<circle cx="551.87" cy="110.6" r="2.35" fill="#f9603f"/>
<circle cx="552.11" cy="110.55" r="2.35" fill="#f9603f"/>
<circle cx="552.36" cy="110.98" r="2.35" fill="#f9603f"/>
<circle cx="552.6" cy="110.95" r="2.35" fill="#f9603f"/>
<circle cx="552.85" cy="110.98" r="2.35" fill="#f9603f"/>
<circle cx="553.09" cy="110.92" r="2.35" fill="#f9603f"/>
<circle cx="553.34" cy="109.89" r="2.35" fill="#f9603f"/>
<circle cx="553.58" cy="111.33" r="2.35" fill="#f9603f"/>
<circle cx="553.82" cy="110.22" r="2.35" fill="#f9603f"/>
<circle cx="554.07" cy="110.26" r="2.35" fill="#f9603f"/>
<circle cx="554.31" cy="110.13" r="2.35" fill="#f9603f"/>
<circle cx="554.56" cy="109.65" r="2.35" fill="#f9603f"/>
<circle cx="554.8" cy="109.03" r="2.35" fill="#f9603f"/>
<circle cx="555.05" cy="109.39" r="2.35" fill="#f9603f"/>
<circle cx="555.29" cy="109.36" r="2.35" fill="#f9603f"/>
<circle cx="555.54" cy="109.46" r="2.35" fill="#f9603f"/>
<circle cx="555.78" cy="109.1" r="2.35" fill="#f9603f"/>
<circle cx="556.03" cy="108.49" r="2.35" fill="#f9603f"/>
<circle cx="556.27" cy="109.01" r="2.35" fill="#f9603f"/>
<circle cx="556.52" cy="109.27" r="2.35" fill="#f9603f"/>
<circle cx="556.76" cy="109.24" r="2.35" fill="#f9603f"/>
<circle cx="557.01" cy="109.1" r="2.35" fill="#f9603f"/>
<circle cx="557.25" cy="109.17" r="2.35" fill="#f9603f"/>
<circle cx="557.5" cy="107.94" r="2.35" fill="#f9603f"/>
<circle cx="557.75" cy="108.26" r="2.35" fill="#f9603f"/>
<circle cx="557.99" cy="108.53" r="2.35" fill="#f9603f"/>
<circle cx="558.24" cy="107.71" r="2.35" fill="#f9603f"/>
<circle cx="558.48" cy="108.73" r="2.35" fill="#f9603f"/>
<circle cx="558.73" cy="108.07" r="2.35" fill="#f9603f"/>
<circle cx="558.97" cy="108.07" r="2.35" fill="#f9603f"/>
<circle cx="559.21" cy="109.23" r="2.35" fill="#f9603f"/>
<circle cx="559.46" cy="109.27" r="2.35" fill="#f9603f"/>
<circle cx="559.7" cy="109.02" r="2.35" fill="#f9603f"/>
<circle cx="559.95" cy="108.2" r="2.35" fill="#f9603f"/>
<circle cx="560.19" cy="108.06" r="2.35" fill="#f9603f"/>
<circle cx="560.44" cy="109.32" r="2.35" fill="#f9603f"/>
<circle cx="560.68" cy="108.28" r="2.35" fill="#f9603f"/>
<circle cx="560.93" cy="109.01" r="2.35" fill="#f9603f"/>
<circle cx="561.17" cy="109.06" r="2.35" fill="#f9603f"/>
<circle cx="561.42" cy="109.17" r="2.35" fill="#f9603f"/>
<circle cx="561.66" cy="109.08" r="2.35" fill="#f9603f"/>
<circle cx="561.91" cy="109.81" r="2.35" fill="#f9603f"/>
<circle cx="562.15" cy="109.42" r="2.35" fill="#f9603f"/>
<circle cx="562.4" cy="109.53" r="2.35" fill="#f9603f"/>
<circle cx="562.64" cy="108.69" r="2.35" fill="#f9603f"/>
<circle cx="562.89" cy="107.89" r="2.35" fill="#f9603f"/>
<circle cx="563.13" cy="107.54" r="2.35" fill="#f9603f"/>
<circle cx="563.38" cy="108.94" r="2.35" fill="#f9603f"/>
<circle cx="563.62" cy="109.53" r="2.35" fill="#f9603f"/>
<circle cx="563.87" cy="108.82" r="2.35" fill="#f9603f"/>
<circle cx="564.12" cy="108.98" r="2.35" fill="#f9603f"/>
<circle cx="564.36" cy="107.48" r="2.35" fill="#f9603f"/>
<circle cx="564.61" cy="108.04" r="2.35" fill="#f9603f"/>
<circle cx="564.85" cy="108.55" r="2.35" fill="#f9603f"/>
<circle cx="565.1" cy="107.63" r="2.35" fill="#f9603f"/>
<circle cx="565.34" cy="107.69" r="2.35" fill="#f9603f"/>
<circle cx="565.59" cy="108.59" r="2.35" fill="#f9603f"/>
<circle cx="565.83" cy="107.94" r="2.35" fill="#f9603f"/>
<circle cx="566.07" cy="107.68" r="2.35" fill="#f9603f"/>
<circle cx="566.32" cy="107.43" r="2.35" fill="#f9603f"/>
<circle cx="566.56" cy="107.26" r="2.35" fill="#f9603f"/>
<circle cx="566.81" cy="107.38" r="2.35" fill="#f9603f"/>
<circle cx="567.05" cy="107.03" r="2.35" fill="#f9603f"/>
<circle cx="567.3" cy="107.31" r="2.35" fill="#f9603f"/>
<circle cx="567.54" cy="107.39" r="2.35" fill="#f9603f"/>
<circle cx="567.79" cy="106.18" r="2.35" fill="#f9603f"/>
<circle cx="568.03" cy="106.68" r="2.35" fill="#f9603f"/>
<circle cx="568.28" cy="106.62" r="2.35" fill="#f9603f"/>
<circle cx="568.52" cy="107.58" r="2.35" fill="#f9603f"/>
<circle cx="568.77" cy="106.9" r="2.35" fill="#f9603f"/>
<circle cx="569.01" cy="106.45" r="2.35" fill="#f9603f"/>
<circle cx="569.26" cy="107.49" r="2.35" fill="#f9603f"/>
<circle cx="569.5" cy="106.41" r="2.35" fill="#f9603f"/>
<circle cx="569.75" cy="107.18" r="2.35" fill="#f9603f"/>
<circle cx="570" cy="106.89" r="2.35" fill="#f9603f"/>
<circle cx="570.24" cy="107.23" r="2.35" fill="#f9603f"/>
<circle cx="570.49" cy="107.17" r="2.35" fill="#f9603f"/>
<circle cx="570.73" cy="106.81" r="2.35" fill="#f9603f"/>
<circle cx="570.98" cy="107.7" r="2.35" fill="#f9603f"/>
<circle cx="571.22" cy="106.89" r="2.35" fill="#f9603f"/>
<circle cx="571.46" cy="108.13" r="2.35" fill="#f9603f"/>
<circle cx="571.71" cy="108.33" r="2.35" fill="#f9603f"/>
<circle cx="571.95" cy="107.68" r="2.35" fill="#f9603f"/>
<circle cx="572.2" cy="108.65" r="2.35" fill="#f9603f"/>
<circle cx="572.44" cy="108.44" r="2.35" fill="#f9603f"/>
<circle cx="572.69" cy="107.95" r="2.35" fill="#f9603f"/>
<circle cx="572.93" cy="107.91" r="2.35" fill="#f9603f"/>
<circle cx="573.18" cy="109.44" r="2.35" fill="#f9603f"/>
<circle cx="573.42" cy="108.44" r="2.35" fill="#f9603f"/>
<circle cx="573.67" cy="107.86" r="2.35" fill="#f9603f"/>
<circle cx="573.91" cy="108.25" r="2.35" fill="#f9603f"/>
<circle cx="574.16" cy="108.99" r="2.35" fill="#f9603f"/>
<circle cx="574.4" cy="109.2" r="2.35" fill="#f9603f"/>
<circle cx="574.65" cy="109.08" r="2.35" fill="#f9603f"/>
<circle cx="574.89" cy="109.5" r="2.35" fill="#f9603f"/>
<circle cx="575.14" cy="109.08" r="2.35" fill="#f9603f"/>
<circle cx="575.38" cy="109.03" r="2.35" fill="#f9603f"/>
<circle cx="575.63" cy="108.99" r="2.35" fill="#f9603f"/>
<circle cx="575.88" cy="108.33" r="2.35" fill="#f9603f"/>
<circle cx="576.12" cy="108.97" r="2.35" fill="#f9603f"/>
<circle cx="576.37" cy="109.51" r="2.35" fill="#f9603f"/>
<circle cx="576.61" cy="108.26" r="2.35" fill="#f9603f"/>
<circle cx="576.86" cy="109.22" r="2.35" fill="#f9603f"/>
<circle cx="577.1" cy="108.87" r="2.35" fill="#f9603f"/>
<circle cx="577.35" cy="108.67" r="2.35" fill="#f9603f"/>
<circle cx="577.59" cy="108.73" r="2.35" fill="#f9603f"/>
<circle cx="577.84" cy="109" r="2.35" fill="#f9603f"/>
<circle cx="578.08" cy="108.6" r="2.35" fill="#f9603f"/>
<circle cx="578.32" cy="107.41" r="2.35" fill="#f9603f"/>
<circle cx="578.57" cy="108.72" r="2.35" fill="#f9603f"/>
<circle cx="578.81" cy="108.48" r="2.35" fill="#f9603f"/>
<circle cx="579.06" cy="107.88" r="2.35" fill="#f9603f"/>
<circle cx="579.3" cy="108.08" r="2.35" fill="#f9603f"/>
<circle cx="579.55" cy="108.09" r="2.35" fill="#f9603f"/>
<circle cx="579.79" cy="108.08" r="2.35" fill="#f9603f"/>
<circle cx="580.04" cy="109.49" r="2.35" fill="#f9603f"/>
<circle cx="580.28" cy="109.03" r="2.35" fill="#f9603f"/>
<circle cx="580.53" cy="108.63" r="2.35" fill="#f9603f"/>
<circle cx="580.77" cy="108.54" r="2.35" fill="#f9603f"/>
<circle cx="581.02" cy="108.27" r="2.35" fill="#f9603f"/>
<circle cx="581.26" cy="108.77" r="2.35" fill="#f9603f"/>
<circle cx="581.51" cy="109.23" r="2.35" fill="#f9603f"/>
<circle cx="581.75" cy="109.22" r="2.35" fill="#f9603f"/>
<circle cx="582" cy="109.47" r="2.35" fill="#f9603f"/>
<circle cx="582.25" cy="109.39" r="2.35" fill="#f9603f"/>
<circle cx="582.49" cy="109.32" r="2.35" fill="#f9603f"/>
<circle cx="582.74" cy="109.94" r="2.35" fill="#f9603f"/>
<circle cx="582.98" cy="110.3" r="2.35" fill="#f9603f"/>
<circle cx="583.23" cy="110.44" r="2.35" fill="#f9603f"/>
<circle cx="583.47" cy="109.63" r="2.35" fill="#f9603f"/>
<circle cx="583.71" cy="109.66" r="2.35" fill="#f9603f"/>
<circle cx="583.96" cy="109.9" r="2.35" fill="#f9603f"/>
<circle cx="584.2" cy="110.05" r="2.35" fill="#f9603f"/>
<circle cx="584.45" cy="110.14" r="2.35" fill="#f9603f"/>
<circle cx="584.69" cy="110.61" r="2.35" fill="#f9603f"/>
<circle cx="584.94" cy="110.34" r="2.35" fill="#f9603f"/>
<circle cx="585.18" cy="111.19" r="2.35" fill="#f9603f"/>
<circle cx="585.43" cy="110.8" r="2.35" fill="#f9603f"/>
<circle cx="585.67" cy="111.05" r="2.35" fill="#f9603f"/>
<circle cx="585.92" cy="110.34" r="2.35" fill="#f9603f"/>
<circle cx="586.16" cy="110.93" r="2.35" fill="#f9603f"/>
<circle cx="586.41" cy="110.66" r="2.35" fill="#f9603f"/>
<circle cx="586.65" cy="110.35" r="2.35" fill="#f9603f"/>
<circle cx="586.9" cy="109.82" r="2.35" fill="#f9603f"/>
<circle cx="587.14" cy="110.76" r="2.35" fill="#f9603f"/>
<circle cx="587.39" cy="110.73" r="2.35" fill="#f9603f"/>
<circle cx="587.63" cy="109.79" r="2.35" fill="#f9603f"/>
<circle cx="587.88" cy="110.59" r="2.35" fill="#f9603f"/>
<circle cx="588.12" cy="109.73" r="2.35" fill="#f9603f"/>
<circle cx="588.37" cy="110.1" r="2.35" fill="#f9603f"/>
<circle cx="588.62" cy="109.75" r="2.35" fill="#f9603f"/>
<circle cx="588.86" cy="110.45" r="2.35" fill="#f9603f"/>
<circle cx="589.11" cy="109.12" r="2.35" fill="#f9603f"/>
<circle cx="589.35" cy="109.58" r="2.35" fill="#f9603f"/>
<circle cx="589.6" cy="109.67" r="2.35" fill="#f9603f"/>
<circle cx="589.84" cy="108.15" r="2.35" fill="#f9603f"/>
<circle cx="590.09" cy="108.71" r="2.35" fill="#f9603f"/>
<circle cx="590.33" cy="107.29" r="2.35" fill="#f9603f"/>
<circle cx="590.57" cy="108.7" r="2.35" fill="#f9603f"/>
<circle cx="590.82" cy="109" r="2.35" fill="#f9603f"/>
<circle cx="591.06" cy="108.74" r="2.35" fill="#f9603f"/>
<circle cx="591.31" cy="107.99" r="2.35" fill="#f9603f"/>
<circle cx="591.55" cy="108.75" r="2.35" fill="#f9603f"/>
<circle cx="591.8" cy="108.52" r="2.35" fill="#f9603f"/>
<circle cx="592.04" cy="108.49" r="2.35" fill="#f9603f"/>
<circle cx="592.29" cy="109.19" r="2.35" fill="#f9603f"/>
<circle cx="592.53" cy="108.72" r="2.35" fill="#f9603f"/>
<circle cx="592.78" cy="109.05" r="2.35" fill="#f9603f"/>
<circle cx="593.02" cy="109.45" r="2.35" fill="#f9603f"/>
<circle cx="593.27" cy="108.48" r="2.35" fill="#f9603f"/>
<circle cx="593.51" cy="108.63" r="2.35" fill="#f9603f"/>
<circle cx="593.76" cy="108.97" r="2.35" fill="#f9603f"/>
<circle cx="594" cy="109.49" r="2.35" fill="#f9603f"/>
<circle cx="594.25" cy="110.07" r="2.35" fill="#f9603f"/>
<circle cx="594.5" cy="108.93" r="2.35" fill="#f9603f"/>
<circle cx="594.74" cy="109.25" r="2.35" fill="#f9603f"/>
<circle cx="594.99" cy="110.04" r="2.35" fill="#f9603f"/>
<circle cx="595.23" cy="109.29" r="2.35" fill="#f9603f"/>
<circle cx="595.48" cy="110.01" r="2.35" fill="#f9603f"/>
<circle cx="595.72" cy="109.3" r="2.35" fill="#f9603f"/>
<circle cx="595.96" cy="109.22" r="2.35" fill="#f9603f"/>
<circle cx="596.21" cy="109.1" r="2.35" fill="#f9603f"/>
<circle cx="596.45" cy="109.13" r="2.35" fill="#f9603f"/>
<circle cx="596.7" cy="109.11" r="2.35" fill="#f9603f"/>
<circle cx="596.94" cy="109.68" r="2.35" fill="#f9603f"/>
<circle cx="597.19" cy="109.25" r="2.35" fill="#f9603f"/>
<circle cx="597.43" cy="109.22" r="2.35" fill="#f9603f"/>
<circle cx="597.68" cy="109" r="2.35" fill="#f9603f"/>
<circle cx="597.92" cy="108.65" r="2.35" fill="#f9603f"/>
<circle cx="598.17" cy="108.37" r="2.35" fill="#f9603f"/>
<circle cx="598.41" cy="107.76" r="2.35" fill="#f9603f"/>
<circle cx="598.66" cy="109.63" r="2.35" fill="#f9603f"/>
<circle cx="598.9" cy="108.07" r="2.35" fill="#f9603f"/>
<circle cx="599.15" cy="108.22" r="2.35" fill="#f9603f"/>
<circle cx="599.39" cy="106.9" r="2.35" fill="#f9603f"/>
<circle cx="599.64" cy="107.4" r="2.35" fill="#f9603f"/>
<circle cx="599.88" cy="108.49" r="2.35" fill="#f9603f"/>
<circle cx="600.13" cy="107.38" r="2.35" fill="#f9603f"/>
<circle cx="600.38" cy="107.69" r="2.35" fill="#f9603f"/>
<circle cx="600.62" cy="106.86" r="2.35" fill="#f9603f"/>
<circle cx="600.87" cy="107.72" r="2.35" fill="#f9603f"/>
<circle cx="601.11" cy="107.17" r="2.35" fill="#f9603f"/>
<circle cx="601.36" cy="107.11" r="2.35" fill="#f9603f"/>
<circle cx="601.6" cy="107.02" r="2.35" fill="#f9603f"/>
<circle cx="601.85" cy="107.2" r="2.35" fill="#f9603f"/>
<circle cx="602.09" cy="107.76" r="2.35" fill="#f9603f"/>
<circle cx="602.34" cy="106.65" r="2.35" fill="#f9603f"/>
<circle cx="602.58" cy="106.38" r="2.35" fill="#f9603f"/>
<circle cx="602.82" cy="106.91" r="2.35" fill="#f9603f"/>
<circle cx="603.07" cy="107.39" r="2.35" fill="#f9603f"/>
<circle cx="603.31" cy="106.85" r="2.35" fill="#f9603f"/>
<circle cx="603.56" cy="106.73" r="2.35" fill="#f9603f"/>
<circle cx="603.8" cy="107.15" r="2.35" fill="#f9603f"/>
<circle cx="604.05" cy="107.16" r="2.35" fill="#f9603f"/>
<circle cx="604.29" cy="106.57" r="2.35" fill="#f9603f"/>
<circle cx="604.54" cy="107.88" r="2.35" fill="#f9603f"/>
<circle cx="604.78" cy="107.72" r="2.35" fill="#f9603f"/>
<circle cx="605.03" cy="108.47" r="2.35" fill="#f9603f"/>
<circle cx="605.27" cy="108.01" r="2.35" fill="#f9603f"/>
<circle cx="605.52" cy="108.15" r="2.35" fill="#f9603f"/>
<circle cx="605.76" cy="108.37" r="2.35" fill="#f9603f"/>
<circle cx="606.01" cy="108.35" r="2.35" fill="#f9603f"/>
<circle cx="606.25" cy="107.27" r="2.35" fill="#f9603f"/>
<circle cx="606.5" cy="108.32" r="2.35" fill="#f9603f"/>
<circle cx="606.75" cy="108.37" r="2.35" fill="#f9603f"/>
<circle cx="606.99" cy="107.35" r="2.35" fill="#f9603f"/>
<circle cx="607.24" cy="108.5" r="2.35" fill="#f9603f"/>
<circle cx="607.48" cy="109.36" r="2.35" fill="#f9603f"/>
<circle cx="607.73" cy="108.39" r="2.35" fill="#f9603f"/>
<circle cx="607.97" cy="109.07" r="2.35" fill="#f9603f"/>
<circle cx="608.21" cy="107.86" r="2.35" fill="#f9603f"/>
<circle cx="608.46" cy="109.25" r="2.35" fill="#f9603f"/>
<circle cx="608.7" cy="108.93" r="2.35" fill="#f9603f"/>
<circle cx="608.95" cy="109.41" r="2.35" fill="#f9603f"/>
<circle cx="609.19" cy="108.58" r="2.35" fill="#f9603f"/>
<circle cx="609.44" cy="109.08" r="2.35" fill="#f9603f"/>
<circle cx="609.68" cy="108.58" r="2.35" fill="#f9603f"/>
<circle cx="609.93" cy="108.69" r="2.35" fill="#f9603f"/>
<circle cx="610.17" cy="108.75" r="2.35" fill="#f9603f"/>
<circle cx="610.42" cy="107.95" r="2.35" fill="#f9603f"/>
<circle cx="610.66" cy="107.9" r="2.35" fill="#f9603f"/>
<circle cx="610.91" cy="108.26" r="2.35" fill="#f9603f"/>
<circle cx="611.15" cy="108.67" r="2.35" fill="#f9603f"/>
<circle cx="611.4" cy="108.7" r="2.35" fill="#f9603f"/>
<circle cx="611.64" cy="108.02" r="2.35" fill="#f9603f"/>
<circle cx="611.89" cy="106.97" r="2.35" fill="#f9603f"/>
<circle cx="612.13" cy="108.3" r="2.35" fill="#f9603f"/>
<circle cx="612.38" cy="108.44" r="2.35" fill="#f9603f"/>
<circle cx="612.62" cy="108.39" r="2.35" fill="#f9603f"/>
<circle cx="612.87" cy="108.59" r="2.35" fill="#f9603f"/>
<circle cx="613.12" cy="108.55" r="2.35" fill="#f9603f"/>
<circle cx="613.36" cy="108.22" r="2.35" fill="#f9603f"/>
<circle cx="613.61" cy="107.49" r="2.35" fill="#f9603f"/>
<circle cx="613.85" cy="108.24" r="2.35" fill="#f9603f"/>
<circle cx="614.1" cy="108.56" r="2.35" fill="#f9603f"/>
<circle cx="614.34" cy="109.17" r="2.35" fill="#f9603f"/>
<circle cx="614.59" cy="108.4" r="2.35" fill="#f9603f"/>
<circle cx="614.83" cy="108.63" r="2.35" fill="#f9603f"/>
<circle cx="615.07" cy="109.32" r="2.35" fill="#f9603f"/>
<circle cx="615.32" cy="109.38" r="2.35" fill="#f9603f"/>
<circle cx="615.56" cy="109.02" r="2.35" fill="#f9603f"/>
<circle cx="615.81" cy="108.66" r="2.35" fill="#f9603f"/>
<circle cx="616.05" cy="108.99" r="2.35" fill="#f9603f"/>
<circle cx="616.3" cy="109.34" r="2.35" fill="#f9603f"/>
<circle cx="616.54" cy="109.74" r="2.35" fill="#f9603f"/>
<circle cx="616.79" cy="109.57" r="2.35" fill="#f9603f"/>
<circle cx="617.03" cy="109.87" r="2.35" fill="#f9603f"/>
<circle cx="617.28" cy="108.96" r="2.35" fill="#f9603f"/>
<circle cx="617.52" cy="110.65" r="2.35" fill="#f9603f"/>
<circle cx="617.77" cy="110.4" r="2.35" fill="#f9603f"/>
<circle cx="618.01" cy="109.72" r="2.35" fill="#f9603f"/>
<circle cx="618.26" cy="110.54" r="2.35" fill="#f9603f"/>
<circle cx="618.5" cy="109.8" r="2.35" fill="#f9603f"/>
<circle cx="618.75" cy="110.56" r="2.35" fill="#f9603f"/>
<circle cx="619" cy="110.51" r="2.35" fill="#f9603f"/>
<circle cx="619.24" cy="110.78" r="2.35" fill="#f9603f"/>
<circle cx="619.49" cy="111.27" r="2.35" fill="#f9603f"/>
<circle cx="619.73" cy="111.07" r="2.35" fill="#f9603f"/>
<circle cx="619.97" cy="109.53" r="2.35" fill="#f9603f"/>
<circle cx="620.22" cy="110.24" r="2.35" fill="#f9603f"/>
<circle cx="620.46" cy="110.2" r="2.35" fill="#f9603f"/>
<circle cx="620.71" cy="109.97" r="2.35" fill="#f9603f"/>
<circle cx="620.95" cy="110.08" r="2.35" fill="#f9603f"/>
<circle cx="621.2" cy="109.78" r="2.35" fill="#f9603f"/>
<circle cx="621.44" cy="110.3" r="2.35" fill="#f9603f"/>
<circle cx="621.69" cy="110.18" r="2.35" fill="#f9603f"/>
<circle cx="621.93" cy="109.5" r="2.35" fill="#f9603f"/>
<circle cx="622.18" cy="110.03" r="2.35" fill="#f9603f"/>
<circle cx="622.42" cy="110.39" r="2.35" fill="#f9603f"/>
<circle cx="622.67" cy="109.75" r="2.35" fill="#f9603f"/>
<circle cx="622.91" cy="109.8" r="2.35" fill="#f9603f"/>
<circle cx="623.16" cy="109.15" r="2.35" fill="#f9603f"/>
<circle cx="623.4" cy="109.7" r="2.35" fill="#f9603f"/>
<circle cx="623.65" cy="109.78" r="2.35" fill="#f9603f"/>
<circle cx="623.89" cy="109.35" r="2.35" fill="#f9603f"/>
<circle cx="624.14" cy="108.39" r="2.35" fill="#f9603f"/>
<circle cx="624.38" cy="109.1" r="2.35" fill="#f9603f"/>
<circle cx="624.63" cy="108.96" r="2.35" fill="#f9603f"/>
<circle cx="624.88" cy="109.01" r="2.35" fill="#f9603f"/>
<circle cx="625.12" cy="108.86" r="2.35" fill="#f9603f"/>
<circle cx="625.37" cy="108.55" r="2.35" fill="#f9603f"/>
<circle cx="625.61" cy="108.34" r="2.35" fill="#f9603f"/>
<circle cx="625.86" cy="109.8" r="2.35" fill="#f9603f"/>
<circle cx="626.1" cy="108.4" r="2.35" fill="#f9603f"/>
<circle cx="626.35" cy="109.09" r="2.35" fill="#f9603f"/>
<circle cx="626.59" cy="109.29" r="2.35" fill="#f9603f"/>
<circle cx="626.84" cy="108.04" r="2.35" fill="#f9603f"/>
<circle cx="627.08" cy="109.32" r="2.35" fill="#f9603f"/>
<circle cx="627.33" cy="108.37" r="2.35" fill="#f9603f"/>
<circle cx="627.57" cy="108.9" r="2.35" fill="#f9603f"/>
<circle cx="627.81" cy="109.91" r="2.35" fill="#f9603f"/>
<circle cx="628.06" cy="109.24" r="2.35" fill="#f9603f"/>
<circle cx="628.3" cy="109.17" r="2.35" fill="#f9603f"/>
<circle cx="628.55" cy="109.63" r="2.35" fill="#f9603f"/>
<circle cx="628.79" cy="110.71" r="2.35" fill="#f9603f"/>
<circle cx="629.04" cy="109.79" r="2.35" fill="#f9603f"/>
<circle cx="629.28" cy="109.73" r="2.35" fill="#f9603f"/>
<circle cx="629.53" cy="110.17" r="2.35" fill="#f9603f"/>
<circle cx="629.77" cy="108.77" r="2.35" fill="#f9603f"/>
<circle cx="630.02" cy="109.73" r="2.35" fill="#f9603f"/>
<circle cx="630.26" cy="109.76" r="2.35" fill="#f9603f"/>
<circle cx="630.51" cy="109.67" r="2.35" fill="#f9603f"/>
<circle cx="630.75" cy="109.83" r="2.35" fill="#f9603f"/>
<circle cx="631" cy="109.75" r="2.35" fill="#f9603f"/>
<circle cx="631.25" cy="109.24" r="2.35" fill="#f9603f"/>
<circle cx="631.49" cy="109.03" r="2.35" fill="#f9603f"/>
<circle cx="631.74" cy="109.31" r="2.35" fill="#f9603f"/>
<circle cx="631.98" cy="108.98" r="2.35" fill="#f9603f"/>
<circle cx="632.22" cy="109.47" r="2.35" fill="#f9603f"/>
<circle cx="632.47" cy="108.41" r="2.35" fill="#f9603f"/>
<circle cx="632.71" cy="108.87" r="2.35" fill="#f9603f"/>
<circle cx="632.96" cy="108.26" r="2.35" fill="#f9603f"/>
<circle cx="633.2" cy="108.65" r="2.35" fill="#f9603f"/>
<circle cx="633.45" cy="108.31" r="2.35" fill="#f9603f"/>
<circle cx="633.69" cy="107.82" r="2.35" fill="#f9603f"/>
<circle cx="633.94" cy="108.36" r="2.35" fill="#f9603f"/>
<circle cx="634.18" cy="106.47" r="2.35" fill="#f9603f"/>
<circle cx="634.43" cy="107.54" r="2.35" fill="#f9603f"/>
<circle cx="634.67" cy="107.44" r="2.35" fill="#f9603f"/>
<circle cx="634.92" cy="107.65" r="2.35" fill="#f9603f"/>
<circle cx="635.16" cy="106.46" r="2.35" fill="#f9603f"/>
<circle cx="635.41" cy="106.48" r="2.35" fill="#f9603f"/>
<circle cx="635.65" cy="106.94" r="2.35" fill="#f9603f"/>
<circle cx="635.9" cy="107.69" r="2.35" fill="#f9603f"/>
<circle cx="636.14" cy="107.25" r="2.35" fill="#f9603f"/>
<circle cx="636.39" cy="106.7" r="2.35" fill="#f9603f"/>
<circle cx="636.63" cy="107.24" r="2.35" fill="#f9603f"/>
<circle cx="636.88" cy="107.58" r="2.35" fill="#f9603f"/>
<circle cx="637.12" cy="107.62" r="2.35" fill="#f9603f"/>
<circle cx="637.37" cy="107.47" r="2.35" fill="#f9603f"/>
<circle cx="637.62" cy="107.15" r="2.35" fill="#f9603f"/>
<circle cx="637.86" cy="107.54" r="2.35" fill="#f9603f"/>
<circle cx="638.11" cy="107.3" r="2.35" fill="#f9603f"/>
<circle cx="638.35" cy="106.07" r="2.35" fill="#f9603f"/>
<circle cx="638.6" cy="106.65" r="2.35" fill="#f9603f"/>
<circle cx="638.84" cy="108.08" r="2.35" fill="#f9603f"/>
<circle cx="639.09" cy="107.52" r="2.35" fill="#f9603f"/>
<circle cx="639.33" cy="107.75" r="2.35" fill="#f9603f"/>
<circle cx="639.58" cy="107.95" r="2.35" fill="#f9603f"/>
<circle cx="639.82" cy="107.48" r="2.35" fill="#f9603f"/>
<circle cx="640.06" cy="108.23" r="2.35" fill="#f9603f"/>
<circle cx="640.31" cy="108.31" r="2.35" fill="#f9603f"/>
<circle cx="640.55" cy="108.4" r="2.35" fill="#f9603f"/>
<circle cx="640.8" cy="108.34" r="2.35" fill="#f9603f"/>
<circle cx="641.04" cy="107.73" r="2.35" fill="#f9603f"/>
<circle cx="641.29" cy="108.02" r="2.35" fill="#f9603f"/>
<circle cx="641.53" cy="109.06" r="2.35" fill="#f9603f"/>
<circle cx="641.78" cy="108.65" r="2.35" fill="#f9603f"/>
<circle cx="642.02" cy="108.82" r="2.35" fill="#f9603f"/>
<circle cx="642.27" cy="108.05" r="2.35" fill="#f9603f"/>
<circle cx="642.51" cy="108.31" r="2.35" fill="#f9603f"/>
<circle cx="642.76" cy="107.97" r="2.35" fill="#f9603f"/>
<circle cx="643" cy="108.39" r="2.35" fill="#f9603f"/>
<circle cx="643.25" cy="109.22" r="2.35" fill="#f9603f"/>
<circle cx="643.5" cy="108.04" r="2.35" fill="#f9603f"/>
<circle cx="643.74" cy="108.09" r="2.35" fill="#f9603f"/>
<circle cx="643.99" cy="107.9" r="2.35" fill="#f9603f"/>
<circle cx="644.23" cy="108.7" r="2.35" fill="#f9603f"/>
<circle cx="644.47" cy="107.97" r="2.35" fill="#f9603f"/>
<circle cx="644.72" cy="108.28" r="2.35" fill="#f9603f"/>
<circle cx="644.96" cy="108.22" r="2.35" fill="#f9603f"/>
<circle cx="645.21" cy="107.67" r="2.35" fill="#f9603f"/>
<circle cx="645.45" cy="107.63" r="2.35" fill="#f9603f"/>
<circle cx="645.7" cy="108.18" r="2.35" fill="#f9603f"/>
<circle cx="645.94" cy="108.55" r="2.35" fill="#f9603f"/>
<circle cx="646.19" cy="108.89" r="2.35" fill="#f9603f"/>
<circle cx="646.43" cy="107.99" r="2.35" fill="#f9603f"/>
<circle cx="646.68" cy="107.19" r="2.35" fill="#f9603f"/>
<circle cx="646.92" cy="107.77" r="2.35" fill="#f9603f"/>
<circle cx="647.17" cy="108.86" r="2.35" fill="#f9603f"/>
<circle cx="647.41" cy="108.25" r="2.35" fill="#f9603f"/>
<circle cx="647.66" cy="107.71" r="2.35" fill="#f9603f"/>
<circle cx="647.9" cy="107.19" r="2.35" fill="#f9603f"/>
<circle cx="648.15" cy="107.53" r="2.35" fill="#f9603f"/>
<circle cx="489.14" cy="166.1" r="1.75" fill="none" stroke="#f47a5a" stroke-width="0.5"/>
<circle cx="489.63" cy="141.08" r="1.75" fill="none" stroke="#f47a5a" stroke-width="0.5"/>
<circle cx="490.37" cy="124.76" r="1.75" fill="none" stroke="#f47a5a" stroke-width="0.5"/>
<circle cx="491.1" cy="114.97" r="1.75" fill="none" stroke="#f47a5a" stroke-width="0.5"/>
<circle cx="491.67" cy="109.96" r="1.75" fill="none" stroke="#f47a5a" stroke-width="0.5"/>
<circle cx="492.23" cy="104.96" r="1.75" fill="none" stroke="#f47a5a" stroke-width="0.5"/>
<circle cx="492.8" cy="100.64" r="1.75" fill="none" stroke="#f47a5a" stroke-width="0.5"/>
<circle cx="493.36" cy="96.47" r="1.75" fill="none" stroke="#f47a5a" stroke-width="0.5"/>
<circle cx="493.92" cy="92.57" r="1.75" fill="none" stroke="#f47a5a" stroke-width="0.5"/>
<circle cx="494.49" cy="89.65" r="1.75" fill="none" stroke="#f47a5a" stroke-width="0.5"/>
<circle cx="495.05" cy="86.73" r="1.75" fill="none" stroke="#f47a5a" stroke-width="0.5"/>
<circle cx="495.61" cy="84.5" r="1.75" fill="none" stroke="#f47a5a" stroke-width="0.5"/>
<circle cx="496.18" cy="82.72" r="1.75" fill="none" stroke="#f47a5a" stroke-width="0.5"/>
<circle cx="496.74" cy="80.93" r="1.75" fill="none" stroke="#f47a5a" stroke-width="0.5"/>
<circle cx="497.3" cy="80.09" r="1.75" fill="none" stroke="#f47a5a" stroke-width="0.5"/>
<circle cx="497.87" cy="79.99" r="1.75" fill="none" stroke="#f47a5a" stroke-width="0.5"/>
<circle cx="498.43" cy="79.88" r="1.75" fill="none" stroke="#f47a5a" stroke-width="0.5"/>
<circle cx="498.99" cy="79.78" r="1.75" fill="none" stroke="#f47a5a" stroke-width="0.5"/>
<circle cx="499.68" cy="83.9" r="1.85" fill="none" stroke="#f47a5a" stroke-width="0.5"/>
<circle cx="500.66" cy="83.82" r="1.85" fill="none" stroke="#f47a5a" stroke-width="0.5"/>
<circle cx="501.64" cy="71.29" r="1.85" fill="none" stroke="#f47a5a" stroke-width="0.5"/>
<circle cx="502.62" cy="86.83" r="1.85" fill="none" stroke="#f47a5a" stroke-width="0.5"/>
<circle cx="503.6" cy="77.01" r="1.85" fill="none" stroke="#f47a5a" stroke-width="0.5"/>
<circle cx="504.58" cy="82.07" r="1.85" fill="none" stroke="#f47a5a" stroke-width="0.5"/>
<circle cx="505.56" cy="82.7" r="1.85" fill="none" stroke="#f47a5a" stroke-width="0.5"/>
<circle cx="506.54" cy="80.3" r="1.85" fill="none" stroke="#f47a5a" stroke-width="0.5"/>
<circle cx="507.52" cy="78.8" r="1.85" fill="none" stroke="#f47a5a" stroke-width="0.5"/>
<circle cx="508.5" cy="80.54" r="1.85" fill="none" stroke="#f47a5a" stroke-width="0.5"/>
<circle cx="509.48" cy="80.54" r="1.85" fill="none" stroke="#f47a5a" stroke-width="0.5"/>
<circle cx="510.46" cy="82.29" r="1.85" fill="none" stroke="#f47a5a" stroke-width="0.5"/>
<circle cx="511.44" cy="71.95" r="1.85" fill="none" stroke="#f47a5a" stroke-width="0.5"/>
<circle cx="512.42" cy="81.65" r="1.85" fill="none" stroke="#f47a5a" stroke-width="0.5"/>
<circle cx="513.4" cy="80.22" r="1.85" fill="none" stroke="#f47a5a" stroke-width="0.5"/>
<circle cx="514.38" cy="78.86" r="1.85" fill="none" stroke="#f47a5a" stroke-width="0.5"/>
<circle cx="515.36" cy="82.39" r="1.85" fill="none" stroke="#f47a5a" stroke-width="0.5"/>
<circle cx="516.34" cy="73.96" r="1.85" fill="none" stroke="#f47a5a" stroke-width="0.5"/>
<circle cx="517.32" cy="78.88" r="1.85" fill="none" stroke="#f47a5a" stroke-width="0.5"/>
<circle cx="518.3" cy="74.48" r="1.85" fill="none" stroke="#f47a5a" stroke-width="0.5"/>
<circle cx="519.28" cy="78.9" r="1.85" fill="none" stroke="#f47a5a" stroke-width="0.5"/>
<circle cx="520.26" cy="82.11" r="1.85" fill="none" stroke="#f47a5a" stroke-width="0.5"/>
<circle cx="521.24" cy="80.09" r="1.85" fill="none" stroke="#f47a5a" stroke-width="0.5"/>
<circle cx="522.22" cy="79.9" r="1.85" fill="none" stroke="#f47a5a" stroke-width="0.5"/>
<circle cx="523.2" cy="76.6" r="1.85" fill="none" stroke="#f47a5a" stroke-width="0.5"/>
<circle cx="524.18" cy="80.61" r="1.85" fill="none" stroke="#f47a5a" stroke-width="0.5"/>
<circle cx="525.16" cy="79.4" r="1.85" fill="none" stroke="#f47a5a" stroke-width="0.5"/>
<circle cx="526.14" cy="83.53" r="1.85" fill="none" stroke="#f47a5a" stroke-width="0.5"/>
<circle cx="527.12" cy="80.96" r="1.85" fill="none" stroke="#f47a5a" stroke-width="0.5"/>
<circle cx="528.1" cy="71.8" r="1.85" fill="none" stroke="#f47a5a" stroke-width="0.5"/>
<circle cx="529.08" cy="70.91" r="1.85" fill="none" stroke="#f47a5a" stroke-width="0.5"/>
<circle cx="530.06" cy="85.95" r="1.85" fill="none" stroke="#f47a5a" stroke-width="0.5"/>
<circle cx="531.04" cy="73.29" r="1.85" fill="none" stroke="#f47a5a" stroke-width="0.5"/>
<circle cx="532.02" cy="68.24" r="1.85" fill="none" stroke="#f47a5a" stroke-width="0.5"/>
<circle cx="533" cy="77.85" r="1.85" fill="none" stroke="#f47a5a" stroke-width="0.5"/>
<circle cx="533.98" cy="74.55" r="1.85" fill="none" stroke="#f47a5a" stroke-width="0.5"/>
<circle cx="534.96" cy="74.83" r="1.85" fill="none" stroke="#f47a5a" stroke-width="0.5"/>
<circle cx="535.94" cy="83.47" r="1.85" fill="none" stroke="#f47a5a" stroke-width="0.5"/>
<circle cx="536.92" cy="85.34" r="1.85" fill="none" stroke="#f47a5a" stroke-width="0.5"/>
<circle cx="537.9" cy="81.42" r="1.85" fill="none" stroke="#f47a5a" stroke-width="0.5"/>
<circle cx="538.88" cy="69.33" r="1.85" fill="none" stroke="#f47a5a" stroke-width="0.5"/>
<circle cx="539.86" cy="85.85" r="1.85" fill="none" stroke="#f47a5a" stroke-width="0.5"/>
<circle cx="540.84" cy="78.61" r="1.85" fill="none" stroke="#f47a5a" stroke-width="0.5"/>
<circle cx="541.82" cy="79.35" r="1.85" fill="none" stroke="#f47a5a" stroke-width="0.5"/>
<circle cx="542.8" cy="84.01" r="1.85" fill="none" stroke="#f47a5a" stroke-width="0.5"/>
<circle cx="543.78" cy="75.48" r="1.85" fill="none" stroke="#f47a5a" stroke-width="0.5"/>
<circle cx="544.76" cy="81.39" r="1.85" fill="none" stroke="#f47a5a" stroke-width="0.5"/>
<circle cx="545.74" cy="79.14" r="1.85" fill="none" stroke="#f47a5a" stroke-width="0.5"/>
<circle cx="546.72" cy="84.13" r="1.85" fill="none" stroke="#f47a5a" stroke-width="0.5"/>
<circle cx="547.7" cy="79.44" r="1.85" fill="none" stroke="#f47a5a" stroke-width="0.5"/>
<circle cx="548.68" cy="77.35" r="1.85" fill="none" stroke="#f47a5a" stroke-width="0.5"/>
<circle cx="549.66" cy="80.98" r="1.85" fill="none" stroke="#f47a5a" stroke-width="0.5"/>
<circle cx="550.64" cy="84.92" r="1.85" fill="none" stroke="#f47a5a" stroke-width="0.5"/>
<circle cx="551.62" cy="83.53" r="1.85" fill="none" stroke="#f47a5a" stroke-width="0.5"/>
<circle cx="552.6" cy="65.22" r="1.85" fill="none" stroke="#f47a5a" stroke-width="0.5"/>
<circle cx="553.58" cy="78.62" r="1.85" fill="none" stroke="#f47a5a" stroke-width="0.5"/>
<circle cx="554.56" cy="79.94" r="1.85" fill="none" stroke="#f47a5a" stroke-width="0.5"/>
<circle cx="555.54" cy="81.92" r="1.85" fill="none" stroke="#f47a5a" stroke-width="0.5"/>
<circle cx="556.52" cy="83.97" r="1.85" fill="none" stroke="#f47a5a" stroke-width="0.5"/>
<circle cx="557.5" cy="84.2" r="1.85" fill="none" stroke="#f47a5a" stroke-width="0.5"/>
<circle cx="558.48" cy="77.59" r="1.85" fill="none" stroke="#f47a5a" stroke-width="0.5"/>
<circle cx="559.46" cy="76.46" r="1.85" fill="none" stroke="#f47a5a" stroke-width="0.5"/>
<circle cx="560.44" cy="75.38" r="1.85" fill="none" stroke="#f47a5a" stroke-width="0.5"/>
<circle cx="561.42" cy="80.72" r="1.85" fill="none" stroke="#f47a5a" stroke-width="0.5"/>
<circle cx="562.4" cy="85.08" r="1.85" fill="none" stroke="#f47a5a" stroke-width="0.5"/>
<circle cx="563.38" cy="80.37" r="1.85" fill="none" stroke="#f47a5a" stroke-width="0.5"/>
<circle cx="564.36" cy="81.96" r="1.85" fill="none" stroke="#f47a5a" stroke-width="0.5"/>
<circle cx="565.34" cy="79.83" r="1.85" fill="none" stroke="#f47a5a" stroke-width="0.5"/>
<circle cx="566.32" cy="77" r="1.85" fill="none" stroke="#f47a5a" stroke-width="0.5"/>
<circle cx="567.3" cy="81.65" r="1.85" fill="none" stroke="#f47a5a" stroke-width="0.5"/>
<circle cx="568.28" cy="78.86" r="1.85" fill="none" stroke="#f47a5a" stroke-width="0.5"/>
<circle cx="569.26" cy="79.54" r="1.85" fill="none" stroke="#f47a5a" stroke-width="0.5"/>
<circle cx="570.24" cy="83.77" r="1.85" fill="none" stroke="#f47a5a" stroke-width="0.5"/>
<circle cx="571.22" cy="77.04" r="1.85" fill="none" stroke="#f47a5a" stroke-width="0.5"/>
<circle cx="572.2" cy="83.06" r="1.85" fill="none" stroke="#f47a5a" stroke-width="0.5"/>
<circle cx="573.18" cy="84.63" r="1.85" fill="none" stroke="#f47a5a" stroke-width="0.5"/>
<circle cx="574.16" cy="81.3" r="1.85" fill="none" stroke="#f47a5a" stroke-width="0.5"/>
<circle cx="575.14" cy="77.62" r="1.85" fill="none" stroke="#f47a5a" stroke-width="0.5"/>
<circle cx="576.12" cy="82.48" r="1.85" fill="none" stroke="#f47a5a" stroke-width="0.5"/>
<circle cx="577.1" cy="74.38" r="1.85" fill="none" stroke="#f47a5a" stroke-width="0.5"/>
<circle cx="578.08" cy="77.28" r="1.85" fill="none" stroke="#f47a5a" stroke-width="0.5"/>
<circle cx="579.06" cy="80.45" r="1.85" fill="none" stroke="#f47a5a" stroke-width="0.5"/>
<circle cx="580.04" cy="85.57" r="1.85" fill="none" stroke="#f47a5a" stroke-width="0.5"/>
<circle cx="581.02" cy="79.54" r="1.85" fill="none" stroke="#f47a5a" stroke-width="0.5"/>
<circle cx="582" cy="82.95" r="1.85" fill="none" stroke="#f47a5a" stroke-width="0.5"/>
<circle cx="582.98" cy="77.5" r="1.85" fill="none" stroke="#f47a5a" stroke-width="0.5"/>
<circle cx="583.96" cy="83.77" r="1.85" fill="none" stroke="#f47a5a" stroke-width="0.5"/>
<circle cx="584.94" cy="76.46" r="1.85" fill="none" stroke="#f47a5a" stroke-width="0.5"/>
<circle cx="585.92" cy="73.96" r="1.85" fill="none" stroke="#f47a5a" stroke-width="0.5"/>
<circle cx="586.9" cy="81.71" r="1.85" fill="none" stroke="#f47a5a" stroke-width="0.5"/>
<circle cx="587.88" cy="78.09" r="1.85" fill="none" stroke="#f47a5a" stroke-width="0.5"/>
<circle cx="588.86" cy="76.22" r="1.85" fill="none" stroke="#f47a5a" stroke-width="0.5"/>
<circle cx="589.84" cy="82.26" r="1.85" fill="none" stroke="#f47a5a" stroke-width="0.5"/>
<circle cx="590.82" cy="84.74" r="1.85" fill="none" stroke="#f47a5a" stroke-width="0.5"/>
<circle cx="591.8" cy="80.02" r="1.85" fill="none" stroke="#f47a5a" stroke-width="0.5"/>
<circle cx="592.78" cy="84.22" r="1.85" fill="none" stroke="#f47a5a" stroke-width="0.5"/>
<circle cx="593.76" cy="84.04" r="1.85" fill="none" stroke="#f47a5a" stroke-width="0.5"/>
<circle cx="594.74" cy="83.99" r="1.85" fill="none" stroke="#f47a5a" stroke-width="0.5"/>
<circle cx="595.72" cy="79.11" r="1.85" fill="none" stroke="#f47a5a" stroke-width="0.5"/>
<circle cx="596.7" cy="80.42" r="1.85" fill="none" stroke="#f47a5a" stroke-width="0.5"/>
<circle cx="597.68" cy="79.9" r="1.85" fill="none" stroke="#f47a5a" stroke-width="0.5"/>
<circle cx="598.66" cy="66.84" r="1.85" fill="none" stroke="#f47a5a" stroke-width="0.5"/>
<circle cx="599.64" cy="82.61" r="1.85" fill="none" stroke="#f47a5a" stroke-width="0.5"/>
<circle cx="600.62" cy="80.35" r="1.85" fill="none" stroke="#f47a5a" stroke-width="0.5"/>
<circle cx="601.6" cy="81.4" r="1.85" fill="none" stroke="#f47a5a" stroke-width="0.5"/>
<circle cx="602.58" cy="69.33" r="1.85" fill="none" stroke="#f47a5a" stroke-width="0.5"/>
<circle cx="603.56" cy="83.29" r="1.85" fill="none" stroke="#f47a5a" stroke-width="0.5"/>
<circle cx="604.54" cy="80.12" r="1.85" fill="none" stroke="#f47a5a" stroke-width="0.5"/>
<circle cx="605.52" cy="70.46" r="1.85" fill="none" stroke="#f47a5a" stroke-width="0.5"/>
<circle cx="606.5" cy="74.84" r="1.85" fill="none" stroke="#f47a5a" stroke-width="0.5"/>
<circle cx="607.48" cy="81.19" r="1.85" fill="none" stroke="#f47a5a" stroke-width="0.5"/>
<circle cx="608.46" cy="77.95" r="1.85" fill="none" stroke="#f47a5a" stroke-width="0.5"/>
<circle cx="609.44" cy="81.21" r="1.85" fill="none" stroke="#f47a5a" stroke-width="0.5"/>
<circle cx="610.42" cy="80.17" r="1.85" fill="none" stroke="#f47a5a" stroke-width="0.5"/>
<circle cx="611.4" cy="83.07" r="1.85" fill="none" stroke="#f47a5a" stroke-width="0.5"/>
<circle cx="612.38" cy="81.39" r="1.85" fill="none" stroke="#f47a5a" stroke-width="0.5"/>
<circle cx="613.36" cy="79.51" r="1.85" fill="none" stroke="#f47a5a" stroke-width="0.5"/>
<circle cx="614.34" cy="83.27" r="1.85" fill="none" stroke="#f47a5a" stroke-width="0.5"/>
<circle cx="615.32" cy="81.72" r="1.85" fill="none" stroke="#f47a5a" stroke-width="0.5"/>
<circle cx="616.3" cy="79.59" r="1.85" fill="none" stroke="#f47a5a" stroke-width="0.5"/>
<circle cx="617.28" cy="73.82" r="1.85" fill="none" stroke="#f47a5a" stroke-width="0.5"/>
<circle cx="618.26" cy="82.59" r="1.85" fill="none" stroke="#f47a5a" stroke-width="0.5"/>
<circle cx="619.24" cy="80.6" r="1.85" fill="none" stroke="#f47a5a" stroke-width="0.5"/>
<circle cx="620.22" cy="80.77" r="1.85" fill="none" stroke="#f47a5a" stroke-width="0.5"/>
<circle cx="621.2" cy="81.82" r="1.85" fill="none" stroke="#f47a5a" stroke-width="0.5"/>
<circle cx="622.18" cy="81.69" r="1.85" fill="none" stroke="#f47a5a" stroke-width="0.5"/>
<circle cx="623.16" cy="82.75" r="1.85" fill="none" stroke="#f47a5a" stroke-width="0.5"/>
<circle cx="624.14" cy="78.66" r="1.85" fill="none" stroke="#f47a5a" stroke-width="0.5"/>
<circle cx="625.12" cy="78.08" r="1.85" fill="none" stroke="#f47a5a" stroke-width="0.5"/>
<circle cx="626.1" cy="81.15" r="1.85" fill="none" stroke="#f47a5a" stroke-width="0.5"/>
<circle cx="627.08" cy="82.44" r="1.85" fill="none" stroke="#f47a5a" stroke-width="0.5"/>
<circle cx="628.06" cy="81.89" r="1.85" fill="none" stroke="#f47a5a" stroke-width="0.5"/>
<circle cx="629.04" cy="82.75" r="1.85" fill="none" stroke="#f47a5a" stroke-width="0.5"/>
<circle cx="630.02" cy="79.49" r="1.85" fill="none" stroke="#f47a5a" stroke-width="0.5"/>
<circle cx="631" cy="81.4" r="1.85" fill="none" stroke="#f47a5a" stroke-width="0.5"/>
<circle cx="631.98" cy="77.68" r="1.85" fill="none" stroke="#f47a5a" stroke-width="0.5"/>
<circle cx="632.96" cy="82.82" r="1.85" fill="none" stroke="#f47a5a" stroke-width="0.5"/>
<circle cx="633.94" cy="79.91" r="1.85" fill="none" stroke="#f47a5a" stroke-width="0.5"/>
<circle cx="634.92" cy="77.35" r="1.85" fill="none" stroke="#f47a5a" stroke-width="0.5"/>
<circle cx="635.9" cy="80.42" r="1.85" fill="none" stroke="#f47a5a" stroke-width="0.5"/>
<circle cx="636.88" cy="80.29" r="1.85" fill="none" stroke="#f47a5a" stroke-width="0.5"/>
<circle cx="637.86" cy="82.7" r="1.85" fill="none" stroke="#f47a5a" stroke-width="0.5"/>
<circle cx="638.84" cy="78.44" r="1.85" fill="none" stroke="#f47a5a" stroke-width="0.5"/>
<circle cx="639.82" cy="80.85" r="1.85" fill="none" stroke="#f47a5a" stroke-width="0.5"/>
<circle cx="640.8" cy="82.97" r="1.85" fill="none" stroke="#f47a5a" stroke-width="0.5"/>
<circle cx="641.78" cy="83.62" r="1.85" fill="none" stroke="#f47a5a" stroke-width="0.5"/>
<circle cx="642.76" cy="80.55" r="1.85" fill="none" stroke="#f47a5a" stroke-width="0.5"/>
<circle cx="643.74" cy="82.99" r="1.85" fill="none" stroke="#f47a5a" stroke-width="0.5"/>
<circle cx="644.72" cy="81.67" r="1.85" fill="none" stroke="#f47a5a" stroke-width="0.5"/>
<circle cx="645.7" cy="77.5" r="1.85" fill="none" stroke="#f47a5a" stroke-width="0.5"/>
<circle cx="646.68" cy="71.02" r="1.85" fill="none" stroke="#f47a5a" stroke-width="0.5"/>
<circle cx="647.66" cy="84.33" r="1.85" fill="none" stroke="#f47a5a" stroke-width="0.5"/>
<path d="M489.14 70.6l2.4 4.18h-4.8z" fill="none" stroke="#62aade" stroke-width="0.55"/>
<path d="M489.88 65.32l2.4 4.18h-4.8z" fill="none" stroke="#62aade" stroke-width="0.55"/>
<path d="M490.61 75.29l2.4 4.18h-4.8z" fill="none" stroke="#62aade" stroke-width="0.55"/>
<path d="M491.35 66.5l2.4 4.18h-4.8z" fill="none" stroke="#62aade" stroke-width="0.55"/>
<path d="M492.08 72.22l2.4 4.18h-4.8z" fill="none" stroke="#62aade" stroke-width="0.55"/>
<path d="M492.82 72.23l2.4 4.18h-4.8z" fill="none" stroke="#62aade" stroke-width="0.55"/>
<path d="M493.55 62.35l2.4 4.18h-4.8z" fill="none" stroke="#62aade" stroke-width="0.55"/>
<path d="M494.29 70.31l2.4 4.18h-4.8z" fill="none" stroke="#62aade" stroke-width="0.55"/>
<path d="M495.02 71.23l2.4 4.18h-4.8z" fill="none" stroke="#62aade" stroke-width="0.55"/>
<path d="M495.76 67.7l2.4 4.18h-4.8z" fill="none" stroke="#62aade" stroke-width="0.55"/>
<path d="M496.5 65.89l2.4 4.18h-4.8z" fill="none" stroke="#62aade" stroke-width="0.55"/>
<path d="M497.23 71.18l2.4 4.18h-4.8z" fill="none" stroke="#62aade" stroke-width="0.55"/>
<path d="M497.96 68.35l2.4 4.18h-4.8z" fill="none" stroke="#62aade" stroke-width="0.55"/>
<path d="M498.7 75.48l2.4 4.18h-4.8z" fill="none" stroke="#62aade" stroke-width="0.55"/>
<path d="M499.44 72.71l2.4 4.18h-4.8z" fill="none" stroke="#62aade" stroke-width="0.55"/>
<path d="M500.17 73.04l2.4 4.18h-4.8z" fill="none" stroke="#62aade" stroke-width="0.55"/>
<path d="M500.9 77.12l2.4 4.18h-4.8z" fill="none" stroke="#62aade" stroke-width="0.55"/>
<path d="M501.64 77.93l2.4 4.18h-4.8z" fill="none" stroke="#62aade" stroke-width="0.55"/>
<path d="M502.38 78.47l2.4 4.18h-4.8z" fill="none" stroke="#62aade" stroke-width="0.55"/>
<path d="M503.11 72.13l2.4 4.18h-4.8z" fill="none" stroke="#62aade" stroke-width="0.55"/>
<path d="M503.84 71.82l2.4 4.18h-4.8z" fill="none" stroke="#62aade" stroke-width="0.55"/>
<path d="M504.58 72.5l2.4 4.18h-4.8z" fill="none" stroke="#62aade" stroke-width="0.55"/>
<path d="M505.31 70.72l2.4 4.18h-4.8z" fill="none" stroke="#62aade" stroke-width="0.55"/>
<path d="M506.05 77.14l2.4 4.18h-4.8z" fill="none" stroke="#62aade" stroke-width="0.55"/>
<path d="M506.78 71.4l2.4 4.18h-4.8z" fill="none" stroke="#62aade" stroke-width="0.55"/>
<path d="M507.52 69.95l2.4 4.18h-4.8z" fill="none" stroke="#62aade" stroke-width="0.55"/>
<path d="M508.25 67.6l2.4 4.18h-4.8z" fill="none" stroke="#62aade" stroke-width="0.55"/>
<path d="M508.99 74.9l2.4 4.18h-4.8z" fill="none" stroke="#62aade" stroke-width="0.55"/>
<path d="M509.72 72.86l2.4 4.18h-4.8z" fill="none" stroke="#62aade" stroke-width="0.55"/>
<path d="M510.46 80.24l2.4 4.18h-4.8z" fill="none" stroke="#62aade" stroke-width="0.55"/>
<path d="M511.19 73.34l2.4 4.18h-4.8z" fill="none" stroke="#62aade" stroke-width="0.55"/>
<path d="M511.93 81.07l2.4 4.18h-4.8z" fill="none" stroke="#62aade" stroke-width="0.55"/>
<path d="M512.66 77.52l2.4 4.18h-4.8z" fill="none" stroke="#62aade" stroke-width="0.55"/>
<path d="M513.4 66l2.4 4.18h-4.8z" fill="none" stroke="#62aade" stroke-width="0.55"/>
<path d="M514.13 81.1l2.4 4.18h-4.8z" fill="none" stroke="#62aade" stroke-width="0.55"/>
<path d="M514.87 67.39l2.4 4.18h-4.8z" fill="none" stroke="#62aade" stroke-width="0.55"/>
<path d="M515.61 69.54l2.4 4.18h-4.8z" fill="none" stroke="#62aade" stroke-width="0.55"/>
<path d="M516.34 72.46l2.4 4.18h-4.8z" fill="none" stroke="#62aade" stroke-width="0.55"/>
<path d="M517.07 68.94l2.4 4.18h-4.8z" fill="none" stroke="#62aade" stroke-width="0.55"/>
<path d="M517.81 68.62l2.4 4.18h-4.8z" fill="none" stroke="#62aade" stroke-width="0.55"/>
<path d="M518.54 66.26l2.4 4.18h-4.8z" fill="none" stroke="#62aade" stroke-width="0.55"/>
<path d="M519.28 72.09l2.4 4.18h-4.8z" fill="none" stroke="#62aade" stroke-width="0.55"/>
<path d="M520.01 73.74l2.4 4.18h-4.8z" fill="none" stroke="#62aade" stroke-width="0.55"/>
<path d="M520.75 73.8l2.4 4.18h-4.8z" fill="none" stroke="#62aade" stroke-width="0.55"/>
<path d="M521.49 75.54l2.4 4.18h-4.8z" fill="none" stroke="#62aade" stroke-width="0.55"/>
<path d="M522.22 71.24l2.4 4.18h-4.8z" fill="none" stroke="#62aade" stroke-width="0.55"/>
<path d="M522.95 74.63l2.4 4.18h-4.8z" fill="none" stroke="#62aade" stroke-width="0.55"/>
<path d="M523.69 66.15l2.4 4.18h-4.8z" fill="none" stroke="#62aade" stroke-width="0.55"/>
<path d="M524.42 79.58l2.4 4.18h-4.8z" fill="none" stroke="#62aade" stroke-width="0.55"/>
<path d="M525.16 76.03l2.4 4.18h-4.8z" fill="none" stroke="#62aade" stroke-width="0.55"/>
<path d="M525.89 75.39l2.4 4.18h-4.8z" fill="none" stroke="#62aade" stroke-width="0.55"/>
<path d="M526.63 80.6l2.4 4.18h-4.8z" fill="none" stroke="#62aade" stroke-width="0.55"/>
<path d="M527.37 62.34l2.4 4.18h-4.8z" fill="none" stroke="#62aade" stroke-width="0.55"/>
<path d="M528.1 82.04l2.4 4.18h-4.8z" fill="none" stroke="#62aade" stroke-width="0.55"/>
<path d="M528.84 72.33l2.4 4.18h-4.8z" fill="none" stroke="#62aade" stroke-width="0.55"/>
<path d="M529.57 73.43l2.4 4.18h-4.8z" fill="none" stroke="#62aade" stroke-width="0.55"/>
<path d="M530.3 63.47l2.4 4.18h-4.8z" fill="none" stroke="#62aade" stroke-width="0.55"/>
<path d="M531.04 80.11l2.4 4.18h-4.8z" fill="none" stroke="#62aade" stroke-width="0.55"/>
<path d="M531.77 66.14l2.4 4.18h-4.8z" fill="none" stroke="#62aade" stroke-width="0.55"/>
<path d="M532.51 74.38l2.4 4.18h-4.8z" fill="none" stroke="#62aade" stroke-width="0.55"/>
<path d="M533.25 71.74l2.4 4.18h-4.8z" fill="none" stroke="#62aade" stroke-width="0.55"/>
<path d="M533.98 74.1l2.4 4.18h-4.8z" fill="none" stroke="#62aade" stroke-width="0.55"/>
<path d="M534.71 68.11l2.4 4.18h-4.8z" fill="none" stroke="#62aade" stroke-width="0.55"/>
<path d="M535.45 76.23l2.4 4.18h-4.8z" fill="none" stroke="#62aade" stroke-width="0.55"/>
<path d="M536.18 71.4l2.4 4.18h-4.8z" fill="none" stroke="#62aade" stroke-width="0.55"/>
<path d="M536.92 69.42l2.4 4.18h-4.8z" fill="none" stroke="#62aade" stroke-width="0.55"/>
<path d="M537.65 62.63l2.4 4.18h-4.8z" fill="none" stroke="#62aade" stroke-width="0.55"/>
<path d="M538.39 82.03l2.4 4.18h-4.8z" fill="none" stroke="#62aade" stroke-width="0.55"/>
<path d="M539.12 64.07l2.4 4.18h-4.8z" fill="none" stroke="#62aade" stroke-width="0.55"/>
<path d="M539.86 66.7l2.4 4.18h-4.8z" fill="none" stroke="#62aade" stroke-width="0.55"/>
<path d="M540.6 73.24l2.4 4.18h-4.8z" fill="none" stroke="#62aade" stroke-width="0.55"/>
<path d="M541.33 69.64l2.4 4.18h-4.8z" fill="none" stroke="#62aade" stroke-width="0.55"/>
<path d="M542.06 73.16l2.4 4.18h-4.8z" fill="none" stroke="#62aade" stroke-width="0.55"/>
<path d="M542.8 63.51l2.4 4.18h-4.8z" fill="none" stroke="#62aade" stroke-width="0.55"/>
<path d="M543.53 70.08l2.4 4.18h-4.8z" fill="none" stroke="#62aade" stroke-width="0.55"/>
<path d="M544.27 72.02l2.4 4.18h-4.8z" fill="none" stroke="#62aade" stroke-width="0.55"/>
<path d="M545 72.08l2.4 4.18h-4.8z" fill="none" stroke="#62aade" stroke-width="0.55"/>
<path d="M545.74 71.95l2.4 4.18h-4.8z" fill="none" stroke="#62aade" stroke-width="0.55"/>
<path d="M546.48 71.84l2.4 4.18h-4.8z" fill="none" stroke="#62aade" stroke-width="0.55"/>
<path d="M547.21 75.05l2.4 4.18h-4.8z" fill="none" stroke="#62aade" stroke-width="0.55"/>
<path d="M547.94 61.63l2.4 4.18h-4.8z" fill="none" stroke="#62aade" stroke-width="0.55"/>
<path d="M548.68 79.77l2.4 4.18h-4.8z" fill="none" stroke="#62aade" stroke-width="0.55"/>
<path d="M549.41 85.18l2.4 4.18h-4.8z" fill="none" stroke="#62aade" stroke-width="0.55"/>
<path d="M550.15 71.6l2.4 4.18h-4.8z" fill="none" stroke="#62aade" stroke-width="0.55"/>
<path d="M550.88 71.7l2.4 4.18h-4.8z" fill="none" stroke="#62aade" stroke-width="0.55"/>
<path d="M551.62 69.33l2.4 4.18h-4.8z" fill="none" stroke="#62aade" stroke-width="0.55"/>
<path d="M552.36 71.97l2.4 4.18h-4.8z" fill="none" stroke="#62aade" stroke-width="0.55"/>
<path d="M553.09 71.71l2.4 4.18h-4.8z" fill="none" stroke="#62aade" stroke-width="0.55"/>
<path d="M553.82 69.52l2.4 4.18h-4.8z" fill="none" stroke="#62aade" stroke-width="0.55"/>
<path d="M554.56 66.61l2.4 4.18h-4.8z" fill="none" stroke="#62aade" stroke-width="0.55"/>
<path d="M555.29 73.08l2.4 4.18h-4.8z" fill="none" stroke="#62aade" stroke-width="0.55"/>
<path d="M556.03 72.74l2.4 4.18h-4.8z" fill="none" stroke="#62aade" stroke-width="0.55"/>
<path d="M556.76 62.17l2.4 4.18h-4.8z" fill="none" stroke="#62aade" stroke-width="0.55"/>
<path d="M557.5 68.61l2.4 4.18h-4.8z" fill="none" stroke="#62aade" stroke-width="0.55"/>
<path d="M558.24 75.54l2.4 4.18h-4.8z" fill="none" stroke="#62aade" stroke-width="0.55"/>
<path d="M558.97 60.42l2.4 4.18h-4.8z" fill="none" stroke="#62aade" stroke-width="0.55"/>
<path d="M559.7 67.49l2.4 4.18h-4.8z" fill="none" stroke="#62aade" stroke-width="0.55"/>
<path d="M560.44 73.73l2.4 4.18h-4.8z" fill="none" stroke="#62aade" stroke-width="0.55"/>
<path d="M561.17 76.4l2.4 4.18h-4.8z" fill="none" stroke="#62aade" stroke-width="0.55"/>
<path d="M561.91 69.67l2.4 4.18h-4.8z" fill="none" stroke="#62aade" stroke-width="0.55"/>
<path d="M562.64 74.84l2.4 4.18h-4.8z" fill="none" stroke="#62aade" stroke-width="0.55"/>
<path d="M563.38 75.87l2.4 4.18h-4.8z" fill="none" stroke="#62aade" stroke-width="0.55"/>
<path d="M564.12 76.96l2.4 4.18h-4.8z" fill="none" stroke="#62aade" stroke-width="0.55"/>
<path d="M564.85 73.35l2.4 4.18h-4.8z" fill="none" stroke="#62aade" stroke-width="0.55"/>
<path d="M565.59 65.97l2.4 4.18h-4.8z" fill="none" stroke="#62aade" stroke-width="0.55"/>
<path d="M566.32 73.02l2.4 4.18h-4.8z" fill="none" stroke="#62aade" stroke-width="0.55"/>
<path d="M567.05 77.66l2.4 4.18h-4.8z" fill="none" stroke="#62aade" stroke-width="0.55"/>
<path d="M567.79 67.98l2.4 4.18h-4.8z" fill="none" stroke="#62aade" stroke-width="0.55"/>
<path d="M568.52 70.73l2.4 4.18h-4.8z" fill="none" stroke="#62aade" stroke-width="0.55"/>
<path d="M569.26 67.18l2.4 4.18h-4.8z" fill="none" stroke="#62aade" stroke-width="0.55"/>
<path d="M570 65.54l2.4 4.18h-4.8z" fill="none" stroke="#62aade" stroke-width="0.55"/>
<path d="M570.73 71.81l2.4 4.18h-4.8z" fill="none" stroke="#62aade" stroke-width="0.55"/>
<path d="M571.46 71.7l2.4 4.18h-4.8z" fill="none" stroke="#62aade" stroke-width="0.55"/>
<path d="M572.2 71.24l2.4 4.18h-4.8z" fill="none" stroke="#62aade" stroke-width="0.55"/>
<path d="M572.93 76.22l2.4 4.18h-4.8z" fill="none" stroke="#62aade" stroke-width="0.55"/>
<path d="M573.67 67.98l2.4 4.18h-4.8z" fill="none" stroke="#62aade" stroke-width="0.55"/>
<path d="M574.4 64.76l2.4 4.18h-4.8z" fill="none" stroke="#62aade" stroke-width="0.55"/>
<path d="M575.14 70.24l2.4 4.18h-4.8z" fill="none" stroke="#62aade" stroke-width="0.55"/>
<path d="M575.88 72.12l2.4 4.18h-4.8z" fill="none" stroke="#62aade" stroke-width="0.55"/>
<path d="M576.61 72.22l2.4 4.18h-4.8z" fill="none" stroke="#62aade" stroke-width="0.55"/>
<path d="M577.35 74.6l2.4 4.18h-4.8z" fill="none" stroke="#62aade" stroke-width="0.55"/>
<path d="M578.08 74.71l2.4 4.18h-4.8z" fill="none" stroke="#62aade" stroke-width="0.55"/>
<path d="M578.81 72.87l2.4 4.18h-4.8z" fill="none" stroke="#62aade" stroke-width="0.55"/>
<path d="M579.55 74.88l2.4 4.18h-4.8z" fill="none" stroke="#62aade" stroke-width="0.55"/>
<path d="M580.28 73.03l2.4 4.18h-4.8z" fill="none" stroke="#62aade" stroke-width="0.55"/>
<path d="M581.02 78.24l2.4 4.18h-4.8z" fill="none" stroke="#62aade" stroke-width="0.55"/>
<path d="M581.75 69.44l2.4 4.18h-4.8z" fill="none" stroke="#62aade" stroke-width="0.55"/>
<path d="M582.49 70.81l2.4 4.18h-4.8z" fill="none" stroke="#62aade" stroke-width="0.55"/>
<path d="M583.23 76.3l2.4 4.18h-4.8z" fill="none" stroke="#62aade" stroke-width="0.55"/>
<path d="M583.96 81.54l2.4 4.18h-4.8z" fill="none" stroke="#62aade" stroke-width="0.55"/>
<path d="M584.69 71.07l2.4 4.18h-4.8z" fill="none" stroke="#62aade" stroke-width="0.55"/>
<path d="M585.43 65.99l2.4 4.18h-4.8z" fill="none" stroke="#62aade" stroke-width="0.55"/>
<path d="M586.16 74.39l2.4 4.18h-4.8z" fill="none" stroke="#62aade" stroke-width="0.55"/>
<path d="M586.9 73.24l2.4 4.18h-4.8z" fill="none" stroke="#62aade" stroke-width="0.55"/>
<path d="M587.63 73.63l2.4 4.18h-4.8z" fill="none" stroke="#62aade" stroke-width="0.55"/>
<path d="M588.37 68.05l2.4 4.18h-4.8z" fill="none" stroke="#62aade" stroke-width="0.55"/>
<path d="M589.11 75.22l2.4 4.18h-4.8z" fill="none" stroke="#62aade" stroke-width="0.55"/>
<path d="M589.84 66.53l2.4 4.18h-4.8z" fill="none" stroke="#62aade" stroke-width="0.55"/>
<path d="M590.57 72.42l2.4 4.18h-4.8z" fill="none" stroke="#62aade" stroke-width="0.55"/>
<path d="M591.31 66.81l2.4 4.18h-4.8z" fill="none" stroke="#62aade" stroke-width="0.55"/>
<path d="M592.04 70.89l2.4 4.18h-4.8z" fill="none" stroke="#62aade" stroke-width="0.55"/>
<path d="M592.78 72.09l2.4 4.18h-4.8z" fill="none" stroke="#62aade" stroke-width="0.55"/>
<path d="M593.51 77.79l2.4 4.18h-4.8z" fill="none" stroke="#62aade" stroke-width="0.55"/>
<path d="M594.25 74.18l2.4 4.18h-4.8z" fill="none" stroke="#62aade" stroke-width="0.55"/>
<path d="M594.99 72.23l2.4 4.18h-4.8z" fill="none" stroke="#62aade" stroke-width="0.55"/>
<path d="M595.72 68.02l2.4 4.18h-4.8z" fill="none" stroke="#62aade" stroke-width="0.55"/>
<path d="M596.45 69.92l2.4 4.18h-4.8z" fill="none" stroke="#62aade" stroke-width="0.55"/>
<path d="M597.19 74.22l2.4 4.18h-4.8z" fill="none" stroke="#62aade" stroke-width="0.55"/>
<path d="M597.92 69.16l2.4 4.18h-4.8z" fill="none" stroke="#62aade" stroke-width="0.55"/>
<path d="M598.66 66.52l2.4 4.18h-4.8z" fill="none" stroke="#62aade" stroke-width="0.55"/>
<path d="M599.39 71.71l2.4 4.18h-4.8z" fill="none" stroke="#62aade" stroke-width="0.55"/>
<path d="M600.13 73.04l2.4 4.18h-4.8z" fill="none" stroke="#62aade" stroke-width="0.55"/>
<path d="M600.87 72.83l2.4 4.18h-4.8z" fill="none" stroke="#62aade" stroke-width="0.55"/>
<path d="M601.6 67.33l2.4 4.18h-4.8z" fill="none" stroke="#62aade" stroke-width="0.55"/>
<path d="M602.34 68.57l2.4 4.18h-4.8z" fill="none" stroke="#62aade" stroke-width="0.55"/>
<path d="M603.07 75.28l2.4 4.18h-4.8z" fill="none" stroke="#62aade" stroke-width="0.55"/>
<path d="M603.8 69.32l2.4 4.18h-4.8z" fill="none" stroke="#62aade" stroke-width="0.55"/>
<path d="M604.54 73.23l2.4 4.18h-4.8z" fill="none" stroke="#62aade" stroke-width="0.55"/>
<path d="M605.27 74.47l2.4 4.18h-4.8z" fill="none" stroke="#62aade" stroke-width="0.55"/>
<path d="M606.01 65.37l2.4 4.18h-4.8z" fill="none" stroke="#62aade" stroke-width="0.55"/>
<path d="M606.75 67.28l2.4 4.18h-4.8z" fill="none" stroke="#62aade" stroke-width="0.55"/>
<path d="M607.48 74.35l2.4 4.18h-4.8z" fill="none" stroke="#62aade" stroke-width="0.55"/>
<path d="M608.21 70.67l2.4 4.18h-4.8z" fill="none" stroke="#62aade" stroke-width="0.55"/>
<path d="M608.95 68.74l2.4 4.18h-4.8z" fill="none" stroke="#62aade" stroke-width="0.55"/>
<path d="M609.68 73.96l2.4 4.18h-4.8z" fill="none" stroke="#62aade" stroke-width="0.55"/>
<path d="M610.42 71.59l2.4 4.18h-4.8z" fill="none" stroke="#62aade" stroke-width="0.55"/>
<path d="M611.15 67.99l2.4 4.18h-4.8z" fill="none" stroke="#62aade" stroke-width="0.55"/>
<path d="M611.89 79.21l2.4 4.18h-4.8z" fill="none" stroke="#62aade" stroke-width="0.55"/>
<path d="M612.62 69.54l2.4 4.18h-4.8z" fill="none" stroke="#62aade" stroke-width="0.55"/>
<path d="M613.36 67.66l2.4 4.18h-4.8z" fill="none" stroke="#62aade" stroke-width="0.55"/>
<path d="M614.1 68.73l2.4 4.18h-4.8z" fill="none" stroke="#62aade" stroke-width="0.55"/>
<path d="M614.83 77.17l2.4 4.18h-4.8z" fill="none" stroke="#62aade" stroke-width="0.55"/>
<path d="M615.56 69.58l2.4 4.18h-4.8z" fill="none" stroke="#62aade" stroke-width="0.55"/>
<path d="M616.3 74.98l2.4 4.18h-4.8z" fill="none" stroke="#62aade" stroke-width="0.55"/>
<path d="M617.03 68.43l2.4 4.18h-4.8z" fill="none" stroke="#62aade" stroke-width="0.55"/>
<path d="M617.77 68.27l2.4 4.18h-4.8z" fill="none" stroke="#62aade" stroke-width="0.55"/>
<path d="M618.5 70.05l2.4 4.18h-4.8z" fill="none" stroke="#62aade" stroke-width="0.55"/>
<path d="M619.24 74.53l2.4 4.18h-4.8z" fill="none" stroke="#62aade" stroke-width="0.55"/>
<path d="M619.97 73.74l2.4 4.18h-4.8z" fill="none" stroke="#62aade" stroke-width="0.55"/>
<path d="M620.71 67.13l2.4 4.18h-4.8z" fill="none" stroke="#62aade" stroke-width="0.55"/>
<path d="M621.44 75.14l2.4 4.18h-4.8z" fill="none" stroke="#62aade" stroke-width="0.55"/>
<path d="M622.18 68.77l2.4 4.18h-4.8z" fill="none" stroke="#62aade" stroke-width="0.55"/>
<path d="M622.91 68.7l2.4 4.18h-4.8z" fill="none" stroke="#62aade" stroke-width="0.55"/>
<path d="M623.65 72.31l2.4 4.18h-4.8z" fill="none" stroke="#62aade" stroke-width="0.55"/>
<path d="M624.38 60.09l2.4 4.18h-4.8z" fill="none" stroke="#62aade" stroke-width="0.55"/>
<path d="M625.12 70.71l2.4 4.18h-4.8z" fill="none" stroke="#62aade" stroke-width="0.55"/>
<path d="M625.86 61.23l2.4 4.18h-4.8z" fill="none" stroke="#62aade" stroke-width="0.55"/>
<path d="M626.59 80.25l2.4 4.18h-4.8z" fill="none" stroke="#62aade" stroke-width="0.55"/>
<path d="M627.33 81.29l2.4 4.18h-4.8z" fill="none" stroke="#62aade" stroke-width="0.55"/>
<path d="M628.06 66.55l2.4 4.18h-4.8z" fill="none" stroke="#62aade" stroke-width="0.55"/>
<path d="M628.79 68.13l2.4 4.18h-4.8z" fill="none" stroke="#62aade" stroke-width="0.55"/>
<path d="M629.53 72.46l2.4 4.18h-4.8z" fill="none" stroke="#62aade" stroke-width="0.55"/>
<path d="M630.26 71.28l2.4 4.18h-4.8z" fill="none" stroke="#62aade" stroke-width="0.55"/>
<path d="M631 79.73l2.4 4.18h-4.8z" fill="none" stroke="#62aade" stroke-width="0.55"/>
<path d="M631.74 73.91l2.4 4.18h-4.8z" fill="none" stroke="#62aade" stroke-width="0.55"/>
<path d="M632.47 75.76l2.4 4.18h-4.8z" fill="none" stroke="#62aade" stroke-width="0.55"/>
<path d="M633.2 72.05l2.4 4.18h-4.8z" fill="none" stroke="#62aade" stroke-width="0.55"/>
<path d="M633.94 66.99l2.4 4.18h-4.8z" fill="none" stroke="#62aade" stroke-width="0.55"/>
<path d="M634.67 70.79l2.4 4.18h-4.8z" fill="none" stroke="#62aade" stroke-width="0.55"/>
<path d="M635.41 69.34l2.4 4.18h-4.8z" fill="none" stroke="#62aade" stroke-width="0.55"/>
<path d="M636.14 74.23l2.4 4.18h-4.8z" fill="none" stroke="#62aade" stroke-width="0.55"/>
<path d="M636.88 73.02l2.4 4.18h-4.8z" fill="none" stroke="#62aade" stroke-width="0.55"/>
<path d="M637.62 70.52l2.4 4.18h-4.8z" fill="none" stroke="#62aade" stroke-width="0.55"/>
<path d="M638.35 72.32l2.4 4.18h-4.8z" fill="none" stroke="#62aade" stroke-width="0.55"/>
<path d="M639.09 65.26l2.4 4.18h-4.8z" fill="none" stroke="#62aade" stroke-width="0.55"/>
<path d="M639.82 75.04l2.4 4.18h-4.8z" fill="none" stroke="#62aade" stroke-width="0.55"/>
<path d="M640.55 62.39l2.4 4.18h-4.8z" fill="none" stroke="#62aade" stroke-width="0.55"/>
<path d="M641.29 75.52l2.4 4.18h-4.8z" fill="none" stroke="#62aade" stroke-width="0.55"/>
<path d="M642.02 66.19l2.4 4.18h-4.8z" fill="none" stroke="#62aade" stroke-width="0.55"/>
<path d="M642.76 74.57l2.4 4.18h-4.8z" fill="none" stroke="#62aade" stroke-width="0.55"/>
<path d="M643.5 63.5l2.4 4.18h-4.8z" fill="none" stroke="#62aade" stroke-width="0.55"/>
<path d="M644.23 70.41l2.4 4.18h-4.8z" fill="none" stroke="#62aade" stroke-width="0.55"/>
<path d="M644.96 69.21l2.4 4.18h-4.8z" fill="none" stroke="#62aade" stroke-width="0.55"/>
<path d="M645.7 67.63l2.4 4.18h-4.8z" fill="none" stroke="#62aade" stroke-width="0.55"/>
<path d="M646.43 73.94l2.4 4.18h-4.8z" fill="none" stroke="#62aade" stroke-width="0.55"/>
<path d="M647.17 75.8l2.4 4.18h-4.8z" fill="none" stroke="#62aade" stroke-width="0.55"/>
<path d="M647.9 80.3l2.4 4.18h-4.8z" fill="none" stroke="#62aade" stroke-width="0.55"/>
<text x="647" y="61.4" font-size="6.9" text-anchor="end" fill="#72b2e2" class="c" >~100.2%</text>
<text x="647" y="94.4" font-size="6.9" text-anchor="end" fill="#f27552" class="c" >~99.8%</text>
<path d="M626.5 96.4V100.6H642" fill="none" stroke="#111" stroke-width="0.9"/>
<path d="M647 100.6L641 98.5V102.7Z" fill="#111"/>
<path d="M509.3 116.8V120.8H496" fill="none" stroke="#111" stroke-width="0.9"/>
<path d="M491.5 120.8L497.5 118.7V122.9Z" fill="#111"/>
<text x="644.8" y="137" font-size="8.8" text-anchor="end" >3 A g<tspan font-size="6" dy="-3.2">-1</tspan></text>
<circle cx="511.8" cy="166.9" r="2" fill="#f7593b"/>
<circle cx="528.5" cy="166.9" r="2.2" fill="none" stroke="#f7593b" stroke-width="0.6"/>
<path d="M511.8 174.84l2 3.48h-4z" fill="#5aa5d8"/>
<path d="M528.5 174.73l2.1 3.65h-4.2z" fill="none" stroke="#5aa5d8" stroke-width="0.6"/>
<text x="537.9" y="169.8" font-size="6.95" >Mg(NO<tspan font-size="4.7" dy="1.9">3</tspan><tspan dy="-1.9">)</tspan><tspan font-size="4.7" dy="1.9">2</tspan><tspan dy="-1.9"> + maltose </tspan>Zw gel</text>
<text x="537.9" y="179.3" font-size="6.95" >Mg(NO<tspan font-size="4.7" dy="1.9">3</tspan><tspan dy="-1.9">)</tspan><tspan font-size="4.7" dy="1.9">2</tspan><tspan dy="-1.9"> + maltose </tspan>liquid</text>
<text transform="translate(470.1,119.4) rotate(-90)" font-size="10.65" text-anchor="middle">Capacity (mAh g<tspan font-size="6.6" dy="-3.8">-1</tspan><tspan dy="3.8">)</tspan></text>
<text transform="translate(678.2,118.6) rotate(-90)" font-size="10.75" text-anchor="middle">Coulombic efficiency (%)</text>
<text x="568.5" y="211.2" font-size="10.4" text-anchor="middle" >Cycle number</text>
<text x="458.4" y="58.2" font-size="19" >c</text>
<rect x="235.3" y="40.3" width="448.7" height="176.6" rx="15" ry="15" fill="none" stroke="#ff1414" stroke-width="1.6" stroke-dasharray="5.5 3.5"/>
<rect x="285.5" y="238.7" width="160.5" height="130.8" fill="none" stroke="#2b2b2b" stroke-width="1.1"/>
<text x="285.6" y="380.4" font-size="8.1" text-anchor="middle" >0</text>
<text x="316.4" y="380.4" font-size="8.1" text-anchor="middle" >5</text>
<text x="347.2" y="380.4" font-size="8.1" text-anchor="middle" >10</text>
<text x="378" y="380.4" font-size="8.1" text-anchor="middle" >15</text>
<text x="408.8" y="380.4" font-size="8.1" text-anchor="middle" >20</text>
<text x="439.6" y="380.4" font-size="8.1" text-anchor="middle" >25</text>
<path d="M285.6 369.5v2.7M316.4 369.5v2.7M347.2 369.5v2.7M378 369.5v2.7M408.8 369.5v2.7M439.6 369.5v2.7M301 369.5v1.7M331.8 369.5v1.7M362.6 369.5v1.7M393.4 369.5v1.7M424.2 369.5v1.7" stroke="#2b2b2b" stroke-width="1"/>
<text x="281.7" y="371.95" font-size="8.1" text-anchor="end" >0</text>
<text x="281.7" y="350.15" font-size="8.1" text-anchor="end" >20</text>
<text x="281.7" y="328.35" font-size="8.1" text-anchor="end" >40</text>
<text x="281.7" y="306.55" font-size="8.1" text-anchor="end" >60</text>
<text x="281.7" y="284.75" font-size="8.1" text-anchor="end" >80</text>
<text x="281.7" y="262.95" font-size="8.1" text-anchor="end" >100</text>
<text x="281.7" y="241.15" font-size="8.1" text-anchor="end" >120</text>
<path d="M282.8 369.5h2.7M282.8 347.7h2.7M282.8 325.9h2.7M282.8 304.1h2.7M282.8 282.3h2.7M282.8 260.5h2.7M282.8 238.7h2.7M283.8 358.6h1.7M283.8 336.8h1.7M283.8 315h1.7M283.8 293.2h1.7M283.8 271.4h1.7M283.8 249.6h1.7" stroke="#2b2b2b" stroke-width="1"/>
<polyline points="291.76,273.14 297.92,274.02 304.08,275 310.24,275.98 316.4,276.96 322.56,287.53 328.72,287.53 334.88,287.53 341.04,287.53 347.2,287.53 353.36,306.82 359.52,306.28 365.68,305.63 371.84,306.28 378,305.3 384.16,316.2 390.32,315.65 396.48,314.35 402.64,314.02 408.8,313.26 414.96,276.41 421.12,279.57 427.28,280.56 433.44,281.32 439.6,282.08" fill="none" stroke="#2f79bf" stroke-width="0.9"/>
<circle cx="291.76" cy="273.14" r="2.15" fill="#2f79bf"/>
<circle cx="297.92" cy="274.02" r="2.15" fill="#2f79bf"/>
<circle cx="304.08" cy="275" r="2.15" fill="#2f79bf"/>
<circle cx="310.24" cy="275.98" r="2.15" fill="#2f79bf"/>
<circle cx="316.4" cy="276.96" r="2.15" fill="#2f79bf"/>
<circle cx="322.56" cy="287.53" r="2.15" fill="#2f79bf"/>
<circle cx="328.72" cy="287.53" r="2.15" fill="#2f79bf"/>
<circle cx="334.88" cy="287.53" r="2.15" fill="#2f79bf"/>
<circle cx="341.04" cy="287.53" r="2.15" fill="#2f79bf"/>
<circle cx="347.2" cy="287.53" r="2.15" fill="#2f79bf"/>
<circle cx="353.36" cy="306.82" r="2.15" fill="#2f79bf"/>
<circle cx="359.52" cy="306.28" r="2.15" fill="#2f79bf"/>
<circle cx="365.68" cy="305.63" r="2.15" fill="#2f79bf"/>
<circle cx="371.84" cy="306.28" r="2.15" fill="#2f79bf"/>
<circle cx="378" cy="305.3" r="2.15" fill="#2f79bf"/>
<circle cx="384.16" cy="316.2" r="2.15" fill="#2f79bf"/>
<circle cx="390.32" cy="315.65" r="2.15" fill="#2f79bf"/>
<circle cx="396.48" cy="314.35" r="2.15" fill="#2f79bf"/>
<circle cx="402.64" cy="314.02" r="2.15" fill="#2f79bf"/>
<circle cx="408.8" cy="313.26" r="2.15" fill="#2f79bf"/>
<circle cx="414.96" cy="276.41" r="2.15" fill="#2f79bf"/>
<circle cx="421.12" cy="279.57" r="2.15" fill="#2f79bf"/>
<circle cx="427.28" cy="280.56" r="2.15" fill="#2f79bf"/>
<circle cx="433.44" cy="281.32" r="2.15" fill="#2f79bf"/>
<circle cx="439.6" cy="282.08" r="2.15" fill="#2f79bf"/>
<polyline points="291.76,254.83 297.92,257.23 304.08,258.43 310.24,259.95 316.4,261.05 322.56,274.02 328.72,274.02 334.88,274.02 341.04,274.67 347.2,274.02 353.36,291.46 359.52,291.46 365.68,291.24 371.84,292 378,291.02 384.16,301.38 390.32,298.21 396.48,299.85 402.64,297.45 408.8,296.91 414.96,262.35 421.12,263.77 427.28,264.75 433.44,265.51 439.6,266.5" fill="none" stroke="#c8284e" stroke-width="0.9"/>
<rect x="289.81" y="252.88" width="3.9" height="3.9" fill="#c8284e"/>
<rect x="295.97" y="255.28" width="3.9" height="3.9" fill="#c8284e"/>
<rect x="302.13" y="256.48" width="3.9" height="3.9" fill="#c8284e"/>
<rect x="308.29" y="258" width="3.9" height="3.9" fill="#c8284e"/>
<rect x="314.45" y="259.1" width="3.9" height="3.9" fill="#c8284e"/>
<rect x="320.61" y="272.07" width="3.9" height="3.9" fill="#c8284e"/>
<rect x="326.77" y="272.07" width="3.9" height="3.9" fill="#c8284e"/>
<rect x="332.93" y="272.07" width="3.9" height="3.9" fill="#c8284e"/>
<rect x="339.09" y="272.72" width="3.9" height="3.9" fill="#c8284e"/>
<rect x="345.25" y="272.07" width="3.9" height="3.9" fill="#c8284e"/>
<rect x="351.41" y="289.51" width="3.9" height="3.9" fill="#c8284e"/>
<rect x="357.57" y="289.51" width="3.9" height="3.9" fill="#c8284e"/>
<rect x="363.73" y="289.29" width="3.9" height="3.9" fill="#c8284e"/>
<rect x="369.89" y="290.05" width="3.9" height="3.9" fill="#c8284e"/>
<rect x="376.05" y="289.07" width="3.9" height="3.9" fill="#c8284e"/>
<rect x="382.21" y="299.43" width="3.9" height="3.9" fill="#c8284e"/>
<rect x="388.37" y="296.26" width="3.9" height="3.9" fill="#c8284e"/>
<rect x="394.53" y="297.9" width="3.9" height="3.9" fill="#c8284e"/>
<rect x="400.69" y="295.5" width="3.9" height="3.9" fill="#c8284e"/>
<rect x="406.85" y="294.96" width="3.9" height="3.9" fill="#c8284e"/>
<rect x="413.01" y="260.4" width="3.9" height="3.9" fill="#c8284e"/>
<rect x="419.17" y="261.82" width="3.9" height="3.9" fill="#c8284e"/>
<rect x="425.33" y="262.8" width="3.9" height="3.9" fill="#c8284e"/>
<rect x="431.49" y="263.56" width="3.9" height="3.9" fill="#c8284e"/>
<rect x="437.65" y="264.55" width="3.9" height="3.9" fill="#c8284e"/>
<text x="304.5" y="251.6" font-size="8.6" text-anchor="middle" >0.5</text>
<text x="334" y="267" font-size="8.6" text-anchor="middle" >1</text>
<text x="366" y="282" font-size="8.6" text-anchor="middle" >2</text>
<text x="395" y="289" font-size="8.6" text-anchor="middle" >5</text>
<text x="429.6" y="254.4" font-size="8.6" text-anchor="middle" >0.5</text>
<line x1="314" y1="332.2" x2="332.3" y2="332.2" stroke="#c8284e" stroke-width="0.9" />
<rect x="321.25" y="330.25" width="3.9" height="3.9" fill="#c8284e"/>
<line x1="314" y1="342.3" x2="332.3" y2="342.3" stroke="#2f79bf" stroke-width="0.9" />
<circle cx="323.2" cy="342.3" r="2.15" fill="#2f79bf"/>
<text x="334.4" y="335.3" font-size="8.3" >NaCl + maltose Zw gel</text>
<text x="334.4" y="345.4" font-size="8.3" >NaCl + maltose liquid</text>
<text x="442.2" y="364.4" font-size="8.6" text-anchor="end" >Unit: A g<tspan font-size="6.2" dy="-3.4">-1</tspan></text>
<text transform="translate(265.6,303.5) rotate(-90)" font-size="10.95" text-anchor="middle">Capacity (mAh g<tspan font-size="6.8" dy="-3.9">-1</tspan><tspan dy="3.9">)</tspan></text>
<text x="365.8" y="396.3" font-size="10.4" text-anchor="middle" >Cycle number</text>
<text x="246.2" y="245.7" font-size="19" >d</text>
<rect x="491.1" y="238.1" width="159.8" height="131.3" fill="none" stroke="#2b2b2b" stroke-width="1.1"/>
<text x="492" y="379.9" font-size="8.1" text-anchor="middle" >0</text>
<text x="516.6" y="379.9" font-size="8.1" text-anchor="middle" >100</text>
<text x="541.2" y="379.9" font-size="8.1" text-anchor="middle" >200</text>
<text x="565.8" y="379.9" font-size="8.1" text-anchor="middle" >300</text>
<text x="590.4" y="379.9" font-size="8.1" text-anchor="middle" >400</text>
<text x="615" y="379.9" font-size="8.1" text-anchor="middle" >500</text>
<text x="639.6" y="379.9" font-size="8.1" text-anchor="middle" >600</text>
<path d="M492 369.4v2.7M516.6 369.4v2.7M541.2 369.4v2.7M565.8 369.4v2.7M590.4 369.4v2.7M615 369.4v2.7M639.6 369.4v2.7M504.3 369.4v1.7M528.9 369.4v1.7M553.5 369.4v1.7M578.1 369.4v1.7M602.7 369.4v1.7M627.3 369.4v1.7" stroke="#2b2b2b" stroke-width="1"/>
<text x="487.3" y="371.85" font-size="8.1" text-anchor="end" >0</text>
<text x="487.3" y="335.41" font-size="8.1" text-anchor="end" >50</text>
<text x="487.3" y="298.98" font-size="8.1" text-anchor="end" >100</text>
<text x="487.3" y="262.54" font-size="8.1" text-anchor="end" >150</text>
<path d="M488.4 369.4h2.7M488.4 332.96h2.7M488.4 296.53h2.7M488.4 260.09h2.7M489.4 351.18h1.7M489.4 314.75h1.7M489.4 278.31h1.7M489.4 241.88h1.7" stroke="#2b2b2b" stroke-width="1"/>
<text x="654.8" y="371.85" font-size="8.1" >90</text>
<text x="654.8" y="317.2" font-size="8.1" >95</text>
<text x="654.8" y="262.55" font-size="8.1" >100</text>
<path d="M650.9 369.4h2.7M650.9 314.75h2.7M650.9 260.1h2.7M650.9 342.07h1.7M650.9 287.42h1.7" stroke="#2b2b2b" stroke-width="1"/>
<path d="M492 324.92l1.95 3.39h-3.9z" fill="#2f79bf"/>
<path d="M492.25 325.38l1.95 3.39h-3.9z" fill="#2f79bf"/>
<path d="M492.49 325.25l1.95 3.39h-3.9z" fill="#2f79bf"/>
<path d="M492.74 324.78l1.95 3.39h-3.9z" fill="#2f79bf"/>
<path d="M492.98 326.12l1.95 3.39h-3.9z" fill="#2f79bf"/>
<path d="M493.23 323.75l1.95 3.39h-3.9z" fill="#2f79bf"/>
<path d="M493.48 324.96l1.95 3.39h-3.9z" fill="#2f79bf"/>
<path d="M493.72 324.67l1.95 3.39h-3.9z" fill="#2f79bf"/>
<path d="M493.97 325.04l1.95 3.39h-3.9z" fill="#2f79bf"/>
<path d="M494.21 324.67l1.95 3.39h-3.9z" fill="#2f79bf"/>
<path d="M494.46 325.32l1.95 3.39h-3.9z" fill="#2f79bf"/>
<path d="M494.71 324.83l1.95 3.39h-3.9z" fill="#2f79bf"/>
<path d="M494.95 324.9l1.95 3.39h-3.9z" fill="#2f79bf"/>
<path d="M495.2 325.03l1.95 3.39h-3.9z" fill="#2f79bf"/>
<path d="M495.44 325.62l1.95 3.39h-3.9z" fill="#2f79bf"/>
<path d="M495.69 324.82l1.95 3.39h-3.9z" fill="#2f79bf"/>
<path d="M495.94 325.43l1.95 3.39h-3.9z" fill="#2f79bf"/>
<path d="M496.18 325.37l1.95 3.39h-3.9z" fill="#2f79bf"/>
<path d="M496.43 325.43l1.95 3.39h-3.9z" fill="#2f79bf"/>
<path d="M496.67 325.07l1.95 3.39h-3.9z" fill="#2f79bf"/>
<path d="M496.92 326.37l1.95 3.39h-3.9z" fill="#2f79bf"/>
<path d="M497.17 325.26l1.95 3.39h-3.9z" fill="#2f79bf"/>
<path d="M497.41 325.68l1.95 3.39h-3.9z" fill="#2f79bf"/>
<path d="M497.66 326.42l1.95 3.39h-3.9z" fill="#2f79bf"/>
<path d="M497.9 325.31l1.95 3.39h-3.9z" fill="#2f79bf"/>
<path d="M498.15 325.56l1.95 3.39h-3.9z" fill="#2f79bf"/>
<path d="M498.4 326.08l1.95 3.39h-3.9z" fill="#2f79bf"/>
<path d="M498.64 326.67l1.95 3.39h-3.9z" fill="#2f79bf"/>
<path d="M498.89 326.46l1.95 3.39h-3.9z" fill="#2f79bf"/>
<path d="M499.13 326.64l1.95 3.39h-3.9z" fill="#2f79bf"/>
<path d="M499.38 325.51l1.95 3.39h-3.9z" fill="#2f79bf"/>
<path d="M499.63 326.9l1.95 3.39h-3.9z" fill="#2f79bf"/>
<path d="M499.87 326.13l1.95 3.39h-3.9z" fill="#2f79bf"/>
<path d="M500.12 327.74l1.95 3.39h-3.9z" fill="#2f79bf"/>
<path d="M500.36 326.51l1.95 3.39h-3.9z" fill="#2f79bf"/>
<path d="M500.61 326l1.95 3.39h-3.9z" fill="#2f79bf"/>
<path d="M500.86 326.81l1.95 3.39h-3.9z" fill="#2f79bf"/>
<path d="M501.1 327.67l1.95 3.39h-3.9z" fill="#2f79bf"/>
<path d="M501.35 327.03l1.95 3.39h-3.9z" fill="#2f79bf"/>
<path d="M501.59 326.7l1.95 3.39h-3.9z" fill="#2f79bf"/>
<path d="M501.84 327.1l1.95 3.39h-3.9z" fill="#2f79bf"/>
<path d="M502.09 327.17l1.95 3.39h-3.9z" fill="#2f79bf"/>
<path d="M502.33 327.07l1.95 3.39h-3.9z" fill="#2f79bf"/>
<path d="M502.58 327.17l1.95 3.39h-3.9z" fill="#2f79bf"/>
<path d="M502.82 327.73l1.95 3.39h-3.9z" fill="#2f79bf"/>
<path d="M503.07 327.07l1.95 3.39h-3.9z" fill="#2f79bf"/>
<path d="M503.32 326.87l1.95 3.39h-3.9z" fill="#2f79bf"/>
<path d="M503.56 326.95l1.95 3.39h-3.9z" fill="#2f79bf"/>
<path d="M503.81 327.9l1.95 3.39h-3.9z" fill="#2f79bf"/>
<path d="M504.05 327.47l1.95 3.39h-3.9z" fill="#2f79bf"/>
<path d="M504.3 326.72l1.95 3.39h-3.9z" fill="#2f79bf"/>
<path d="M504.55 328.21l1.95 3.39h-3.9z" fill="#2f79bf"/>
<path d="M504.79 327.35l1.95 3.39h-3.9z" fill="#2f79bf"/>
<path d="M505.04 327.95l1.95 3.39h-3.9z" fill="#2f79bf"/>
<path d="M505.28 327.28l1.95 3.39h-3.9z" fill="#2f79bf"/>
<path d="M505.53 327.75l1.95 3.39h-3.9z" fill="#2f79bf"/>
<path d="M505.78 327.28l1.95 3.39h-3.9z" fill="#2f79bf"/>
<path d="M506.02 327.42l1.95 3.39h-3.9z" fill="#2f79bf"/>
<path d="M506.27 328.03l1.95 3.39h-3.9z" fill="#2f79bf"/>
<path d="M506.51 327.8l1.95 3.39h-3.9z" fill="#2f79bf"/>
<path d="M506.76 328.23l1.95 3.39h-3.9z" fill="#2f79bf"/>
<path d="M507.01 327.68l1.95 3.39h-3.9z" fill="#2f79bf"/>
<path d="M507.25 328.29l1.95 3.39h-3.9z" fill="#2f79bf"/>
<path d="M507.5 328.87l1.95 3.39h-3.9z" fill="#2f79bf"/>
<path d="M507.74 328.6l1.95 3.39h-3.9z" fill="#2f79bf"/>
<path d="M507.99 327.69l1.95 3.39h-3.9z" fill="#2f79bf"/>
<path d="M508.24 328.14l1.95 3.39h-3.9z" fill="#2f79bf"/>
<path d="M508.48 328.44l1.95 3.39h-3.9z" fill="#2f79bf"/>
<path d="M508.73 328.92l1.95 3.39h-3.9z" fill="#2f79bf"/>
<path d="M508.97 329.44l1.95 3.39h-3.9z" fill="#2f79bf"/>
<path d="M509.22 328.56l1.95 3.39h-3.9z" fill="#2f79bf"/>
<path d="M509.47 328.66l1.95 3.39h-3.9z" fill="#2f79bf"/>
<path d="M509.71 329.58l1.95 3.39h-3.9z" fill="#2f79bf"/>
<path d="M509.96 328.92l1.95 3.39h-3.9z" fill="#2f79bf"/>
<path d="M510.2 328.41l1.95 3.39h-3.9z" fill="#2f79bf"/>
<path d="M510.45 328.97l1.95 3.39h-3.9z" fill="#2f79bf"/>
<path d="M510.7 329.12l1.95 3.39h-3.9z" fill="#2f79bf"/>
<path d="M510.94 328.94l1.95 3.39h-3.9z" fill="#2f79bf"/>
<path d="M511.19 329.01l1.95 3.39h-3.9z" fill="#2f79bf"/>
<path d="M511.43 328.91l1.95 3.39h-3.9z" fill="#2f79bf"/>
<path d="M511.68 329.58l1.95 3.39h-3.9z" fill="#2f79bf"/>
<path d="M511.93 329.35l1.95 3.39h-3.9z" fill="#2f79bf"/>
<path d="M512.17 330.23l1.95 3.39h-3.9z" fill="#2f79bf"/>
<path d="M512.42 330.25l1.95 3.39h-3.9z" fill="#2f79bf"/>
<path d="M512.66 329.67l1.95 3.39h-3.9z" fill="#2f79bf"/>
<path d="M512.91 329.84l1.95 3.39h-3.9z" fill="#2f79bf"/>
<path d="M513.16 330.15l1.95 3.39h-3.9z" fill="#2f79bf"/>
<path d="M513.4 330.37l1.95 3.39h-3.9z" fill="#2f79bf"/>
<path d="M513.65 329.35l1.95 3.39h-3.9z" fill="#2f79bf"/>
<path d="M513.89 329.89l1.95 3.39h-3.9z" fill="#2f79bf"/>
<path d="M514.14 330.7l1.95 3.39h-3.9z" fill="#2f79bf"/>
<path d="M514.39 331.07l1.95 3.39h-3.9z" fill="#2f79bf"/>
<path d="M514.63 329.51l1.95 3.39h-3.9z" fill="#2f79bf"/>
<path d="M514.88 330.46l1.95 3.39h-3.9z" fill="#2f79bf"/>
<path d="M515.12 331.33l1.95 3.39h-3.9z" fill="#2f79bf"/>
<path d="M515.37 330.98l1.95 3.39h-3.9z" fill="#2f79bf"/>
<path d="M515.62 330.21l1.95 3.39h-3.9z" fill="#2f79bf"/>
<path d="M515.86 329.84l1.95 3.39h-3.9z" fill="#2f79bf"/>
<path d="M516.11 329.68l1.95 3.39h-3.9z" fill="#2f79bf"/>
<path d="M516.35 330.22l1.95 3.39h-3.9z" fill="#2f79bf"/>
<path d="M516.6 330.82l1.95 3.39h-3.9z" fill="#2f79bf"/>
<path d="M516.85 330.97l1.95 3.39h-3.9z" fill="#2f79bf"/>
<path d="M517.09 330.54l1.95 3.39h-3.9z" fill="#2f79bf"/>
<path d="M517.34 330.22l1.95 3.39h-3.9z" fill="#2f79bf"/>
<path d="M517.58 330.87l1.95 3.39h-3.9z" fill="#2f79bf"/>
<path d="M517.83 331.21l1.95 3.39h-3.9z" fill="#2f79bf"/>
<path d="M518.08 331.27l1.95 3.39h-3.9z" fill="#2f79bf"/>
<path d="M518.32 330.52l1.95 3.39h-3.9z" fill="#2f79bf"/>
<path d="M518.57 331.2l1.95 3.39h-3.9z" fill="#2f79bf"/>
<path d="M518.81 330.14l1.95 3.39h-3.9z" fill="#2f79bf"/>
<path d="M519.06 331.46l1.95 3.39h-3.9z" fill="#2f79bf"/>
<path d="M519.31 332.58l1.95 3.39h-3.9z" fill="#2f79bf"/>
<path d="M519.55 331.87l1.95 3.39h-3.9z" fill="#2f79bf"/>
<path d="M519.8 332.05l1.95 3.39h-3.9z" fill="#2f79bf"/>
<path d="M520.04 331.65l1.95 3.39h-3.9z" fill="#2f79bf"/>
<path d="M520.29 330.99l1.95 3.39h-3.9z" fill="#2f79bf"/>
<path d="M520.54 332.17l1.95 3.39h-3.9z" fill="#2f79bf"/>
<path d="M520.78 331.45l1.95 3.39h-3.9z" fill="#2f79bf"/>
<path d="M521.03 330.85l1.95 3.39h-3.9z" fill="#2f79bf"/>
<path d="M521.27 331.45l1.95 3.39h-3.9z" fill="#2f79bf"/>
<path d="M521.52 331.58l1.95 3.39h-3.9z" fill="#2f79bf"/>
<path d="M521.77 331.49l1.95 3.39h-3.9z" fill="#2f79bf"/>
<path d="M522.01 331.47l1.95 3.39h-3.9z" fill="#2f79bf"/>
<path d="M522.26 332.35l1.95 3.39h-3.9z" fill="#2f79bf"/>
<path d="M522.5 331.88l1.95 3.39h-3.9z" fill="#2f79bf"/>
<path d="M522.75 332.51l1.95 3.39h-3.9z" fill="#2f79bf"/>
<path d="M523 332.77l1.95 3.39h-3.9z" fill="#2f79bf"/>
<path d="M523.24 332.24l1.95 3.39h-3.9z" fill="#2f79bf"/>
<path d="M523.49 332.63l1.95 3.39h-3.9z" fill="#2f79bf"/>
<path d="M523.73 332.03l1.95 3.39h-3.9z" fill="#2f79bf"/>
<path d="M523.98 333.46l1.95 3.39h-3.9z" fill="#2f79bf"/>
<path d="M524.23 332.27l1.95 3.39h-3.9z" fill="#2f79bf"/>
<path d="M524.47 332.44l1.95 3.39h-3.9z" fill="#2f79bf"/>
<path d="M524.72 332.77l1.95 3.39h-3.9z" fill="#2f79bf"/>
<path d="M524.96 333.1l1.95 3.39h-3.9z" fill="#2f79bf"/>
<path d="M525.21 333.4l1.95 3.39h-3.9z" fill="#2f79bf"/>
<path d="M525.46 333.04l1.95 3.39h-3.9z" fill="#2f79bf"/>
<path d="M525.7 332.91l1.95 3.39h-3.9z" fill="#2f79bf"/>
<path d="M525.95 333.33l1.95 3.39h-3.9z" fill="#2f79bf"/>
<path d="M526.19 332.77l1.95 3.39h-3.9z" fill="#2f79bf"/>
<path d="M526.44 333.63l1.95 3.39h-3.9z" fill="#2f79bf"/>
<path d="M526.69 332.73l1.95 3.39h-3.9z" fill="#2f79bf"/>
<path d="M526.93 333.59l1.95 3.39h-3.9z" fill="#2f79bf"/>
<path d="M527.18 333.05l1.95 3.39h-3.9z" fill="#2f79bf"/>
<path d="M527.42 333.64l1.95 3.39h-3.9z" fill="#2f79bf"/>
<path d="M527.67 332.11l1.95 3.39h-3.9z" fill="#2f79bf"/>
<path d="M527.92 334.62l1.95 3.39h-3.9z" fill="#2f79bf"/>
<path d="M528.16 332.76l1.95 3.39h-3.9z" fill="#2f79bf"/>
<path d="M528.41 333.3l1.95 3.39h-3.9z" fill="#2f79bf"/>
<path d="M528.65 333.1l1.95 3.39h-3.9z" fill="#2f79bf"/>
<path d="M528.9 334.57l1.95 3.39h-3.9z" fill="#2f79bf"/>
<path d="M529.15 334.15l1.95 3.39h-3.9z" fill="#2f79bf"/>
<path d="M529.39 334.97l1.95 3.39h-3.9z" fill="#2f79bf"/>
<path d="M529.64 334.1l1.95 3.39h-3.9z" fill="#2f79bf"/>
<path d="M529.88 334.2l1.95 3.39h-3.9z" fill="#2f79bf"/>
<path d="M530.13 334.2l1.95 3.39h-3.9z" fill="#2f79bf"/>
<path d="M530.38 334.45l1.95 3.39h-3.9z" fill="#2f79bf"/>
<path d="M530.62 334.85l1.95 3.39h-3.9z" fill="#2f79bf"/>
<path d="M530.87 334.23l1.95 3.39h-3.9z" fill="#2f79bf"/>
<path d="M531.11 333.47l1.95 3.39h-3.9z" fill="#2f79bf"/>
<path d="M531.36 334.13l1.95 3.39h-3.9z" fill="#2f79bf"/>
<path d="M531.61 334.74l1.95 3.39h-3.9z" fill="#2f79bf"/>
<path d="M531.85 334.19l1.95 3.39h-3.9z" fill="#2f79bf"/>
<path d="M532.1 334.15l1.95 3.39h-3.9z" fill="#2f79bf"/>
<path d="M532.34 335l1.95 3.39h-3.9z" fill="#2f79bf"/>
<path d="M532.59 334.87l1.95 3.39h-3.9z" fill="#2f79bf"/>
<path d="M532.84 334.12l1.95 3.39h-3.9z" fill="#2f79bf"/>
<path d="M533.08 334.42l1.95 3.39h-3.9z" fill="#2f79bf"/>
<path d="M533.33 335.36l1.95 3.39h-3.9z" fill="#2f79bf"/>
<path d="M533.57 334.96l1.95 3.39h-3.9z" fill="#2f79bf"/>
<path d="M533.82 335.35l1.95 3.39h-3.9z" fill="#2f79bf"/>
<path d="M534.07 334.14l1.95 3.39h-3.9z" fill="#2f79bf"/>
<path d="M534.31 335.07l1.95 3.39h-3.9z" fill="#2f79bf"/>
<path d="M534.56 335.3l1.95 3.39h-3.9z" fill="#2f79bf"/>
<path d="M534.8 335.65l1.95 3.39h-3.9z" fill="#2f79bf"/>
<path d="M535.05 334.08l1.95 3.39h-3.9z" fill="#2f79bf"/>
<path d="M535.3 334.98l1.95 3.39h-3.9z" fill="#2f79bf"/>
<path d="M535.54 334.58l1.95 3.39h-3.9z" fill="#2f79bf"/>
<path d="M535.79 335.4l1.95 3.39h-3.9z" fill="#2f79bf"/>
<path d="M536.03 334.59l1.95 3.39h-3.9z" fill="#2f79bf"/>
<path d="M536.28 335.2l1.95 3.39h-3.9z" fill="#2f79bf"/>
<path d="M536.53 335.57l1.95 3.39h-3.9z" fill="#2f79bf"/>
<path d="M536.77 335.29l1.95 3.39h-3.9z" fill="#2f79bf"/>
<path d="M537.02 335.24l1.95 3.39h-3.9z" fill="#2f79bf"/>
<path d="M537.26 335.02l1.95 3.39h-3.9z" fill="#2f79bf"/>
<path d="M537.51 335.06l1.95 3.39h-3.9z" fill="#2f79bf"/>
<path d="M537.76 336.77l1.95 3.39h-3.9z" fill="#2f79bf"/>
<path d="M538 335.51l1.95 3.39h-3.9z" fill="#2f79bf"/>
<path d="M538.25 336.23l1.95 3.39h-3.9z" fill="#2f79bf"/>
<path d="M538.49 335.5l1.95 3.39h-3.9z" fill="#2f79bf"/>
<path d="M538.74 335.37l1.95 3.39h-3.9z" fill="#2f79bf"/>
<path d="M538.99 335.72l1.95 3.39h-3.9z" fill="#2f79bf"/>
<path d="M539.23 335.96l1.95 3.39h-3.9z" fill="#2f79bf"/>
<path d="M539.48 335.51l1.95 3.39h-3.9z" fill="#2f79bf"/>
<path d="M539.72 335.79l1.95 3.39h-3.9z" fill="#2f79bf"/>
<path d="M539.97 336.48l1.95 3.39h-3.9z" fill="#2f79bf"/>
<path d="M540.22 335.6l1.95 3.39h-3.9z" fill="#2f79bf"/>
<path d="M540.46 335.58l1.95 3.39h-3.9z" fill="#2f79bf"/>
<path d="M540.71 335.92l1.95 3.39h-3.9z" fill="#2f79bf"/>
<path d="M540.95 335.87l1.95 3.39h-3.9z" fill="#2f79bf"/>
<path d="M541.2 336.36l1.95 3.39h-3.9z" fill="#2f79bf"/>
<path d="M541.45 336.38l1.95 3.39h-3.9z" fill="#2f79bf"/>
<path d="M541.69 336.26l1.95 3.39h-3.9z" fill="#2f79bf"/>
<path d="M541.94 336.88l1.95 3.39h-3.9z" fill="#2f79bf"/>
<path d="M542.18 335.68l1.95 3.39h-3.9z" fill="#2f79bf"/>
<path d="M542.43 336.12l1.95 3.39h-3.9z" fill="#2f79bf"/>
<path d="M542.68 335.66l1.95 3.39h-3.9z" fill="#2f79bf"/>
<path d="M542.92 336.72l1.95 3.39h-3.9z" fill="#2f79bf"/>
<path d="M543.17 335.91l1.95 3.39h-3.9z" fill="#2f79bf"/>
<path d="M543.41 337.62l1.95 3.39h-3.9z" fill="#2f79bf"/>
<path d="M543.66 336.73l1.95 3.39h-3.9z" fill="#2f79bf"/>
<path d="M543.91 336.12l1.95 3.39h-3.9z" fill="#2f79bf"/>
<path d="M544.15 336.78l1.95 3.39h-3.9z" fill="#2f79bf"/>
<path d="M544.4 337.31l1.95 3.39h-3.9z" fill="#2f79bf"/>
<path d="M544.64 336.32l1.95 3.39h-3.9z" fill="#2f79bf"/>
<path d="M544.89 337l1.95 3.39h-3.9z" fill="#2f79bf"/>
<path d="M545.14 336.71l1.95 3.39h-3.9z" fill="#2f79bf"/>
<path d="M545.38 336.95l1.95 3.39h-3.9z" fill="#2f79bf"/>
<path d="M545.63 337.11l1.95 3.39h-3.9z" fill="#2f79bf"/>
<path d="M545.87 337.03l1.95 3.39h-3.9z" fill="#2f79bf"/>
<path d="M546.12 338.39l1.95 3.39h-3.9z" fill="#2f79bf"/>
<path d="M546.37 338.21l1.95 3.39h-3.9z" fill="#2f79bf"/>
<path d="M546.61 335.84l1.95 3.39h-3.9z" fill="#2f79bf"/>
<path d="M546.86 337.87l1.95 3.39h-3.9z" fill="#2f79bf"/>
<path d="M547.1 337.3l1.95 3.39h-3.9z" fill="#2f79bf"/>
<path d="M547.35 337.03l1.95 3.39h-3.9z" fill="#2f79bf"/>
<path d="M547.6 336.33l1.95 3.39h-3.9z" fill="#2f79bf"/>
<path d="M547.84 336.94l1.95 3.39h-3.9z" fill="#2f79bf"/>
<path d="M548.09 337.29l1.95 3.39h-3.9z" fill="#2f79bf"/>
<path d="M548.33 337.5l1.95 3.39h-3.9z" fill="#2f79bf"/>
<path d="M548.58 338.2l1.95 3.39h-3.9z" fill="#2f79bf"/>
<path d="M548.83 338.7l1.95 3.39h-3.9z" fill="#2f79bf"/>
<path d="M549.07 337.85l1.95 3.39h-3.9z" fill="#2f79bf"/>
<path d="M549.32 337.76l1.95 3.39h-3.9z" fill="#2f79bf"/>
<path d="M549.56 336.84l1.95 3.39h-3.9z" fill="#2f79bf"/>
<path d="M549.81 337.6l1.95 3.39h-3.9z" fill="#2f79bf"/>
<path d="M550.06 338.02l1.95 3.39h-3.9z" fill="#2f79bf"/>
<path d="M550.3 338.29l1.95 3.39h-3.9z" fill="#2f79bf"/>
<path d="M550.55 337.5l1.95 3.39h-3.9z" fill="#2f79bf"/>
<path d="M550.79 337.98l1.95 3.39h-3.9z" fill="#2f79bf"/>
<path d="M551.04 337.17l1.95 3.39h-3.9z" fill="#2f79bf"/>
<path d="M551.29 336.92l1.95 3.39h-3.9z" fill="#2f79bf"/>
<path d="M551.53 337.56l1.95 3.39h-3.9z" fill="#2f79bf"/>
<path d="M551.78 337.87l1.95 3.39h-3.9z" fill="#2f79bf"/>
<path d="M552.02 337.75l1.95 3.39h-3.9z" fill="#2f79bf"/>
<path d="M552.27 337.43l1.95 3.39h-3.9z" fill="#2f79bf"/>
<path d="M552.52 338.5l1.95 3.39h-3.9z" fill="#2f79bf"/>
<path d="M552.76 338.12l1.95 3.39h-3.9z" fill="#2f79bf"/>
<path d="M553.01 338.34l1.95 3.39h-3.9z" fill="#2f79bf"/>
<path d="M553.25 338.37l1.95 3.39h-3.9z" fill="#2f79bf"/>
<path d="M553.5 337.33l1.95 3.39h-3.9z" fill="#2f79bf"/>
<path d="M553.75 338.34l1.95 3.39h-3.9z" fill="#2f79bf"/>
<path d="M553.99 338.1l1.95 3.39h-3.9z" fill="#2f79bf"/>
<path d="M554.24 337.63l1.95 3.39h-3.9z" fill="#2f79bf"/>
<path d="M554.48 338.41l1.95 3.39h-3.9z" fill="#2f79bf"/>
<path d="M554.73 337.69l1.95 3.39h-3.9z" fill="#2f79bf"/>
<path d="M554.98 338.52l1.95 3.39h-3.9z" fill="#2f79bf"/>
<path d="M555.22 338.08l1.95 3.39h-3.9z" fill="#2f79bf"/>
<path d="M555.47 338.62l1.95 3.39h-3.9z" fill="#2f79bf"/>
<path d="M555.71 338.44l1.95 3.39h-3.9z" fill="#2f79bf"/>
<path d="M555.96 337.58l1.95 3.39h-3.9z" fill="#2f79bf"/>
<path d="M556.21 338.55l1.95 3.39h-3.9z" fill="#2f79bf"/>
<path d="M556.45 338.43l1.95 3.39h-3.9z" fill="#2f79bf"/>
<path d="M556.7 337.88l1.95 3.39h-3.9z" fill="#2f79bf"/>
<path d="M556.94 338.45l1.95 3.39h-3.9z" fill="#2f79bf"/>
<path d="M557.19 338.33l1.95 3.39h-3.9z" fill="#2f79bf"/>
<path d="M557.44 339.24l1.95 3.39h-3.9z" fill="#2f79bf"/>
<path d="M557.68 338.12l1.95 3.39h-3.9z" fill="#2f79bf"/>
<path d="M557.93 337.6l1.95 3.39h-3.9z" fill="#2f79bf"/>
<path d="M558.17 338.21l1.95 3.39h-3.9z" fill="#2f79bf"/>
<path d="M558.42 338.74l1.95 3.39h-3.9z" fill="#2f79bf"/>
<path d="M558.67 338.46l1.95 3.39h-3.9z" fill="#2f79bf"/>
<path d="M558.91 339.89l1.95 3.39h-3.9z" fill="#2f79bf"/>
<path d="M559.16 338.73l1.95 3.39h-3.9z" fill="#2f79bf"/>
<path d="M559.4 339.39l1.95 3.39h-3.9z" fill="#2f79bf"/>
<path d="M559.65 338.55l1.95 3.39h-3.9z" fill="#2f79bf"/>
<path d="M559.9 338.27l1.95 3.39h-3.9z" fill="#2f79bf"/>
<path d="M560.14 338.97l1.95 3.39h-3.9z" fill="#2f79bf"/>
<path d="M560.39 339.14l1.95 3.39h-3.9z" fill="#2f79bf"/>
<path d="M560.63 338.7l1.95 3.39h-3.9z" fill="#2f79bf"/>
<path d="M560.88 339.71l1.95 3.39h-3.9z" fill="#2f79bf"/>
<path d="M561.13 339.12l1.95 3.39h-3.9z" fill="#2f79bf"/>
<path d="M561.37 339.33l1.95 3.39h-3.9z" fill="#2f79bf"/>
<path d="M561.62 339.26l1.95 3.39h-3.9z" fill="#2f79bf"/>
<path d="M561.86 337.78l1.95 3.39h-3.9z" fill="#2f79bf"/>
<path d="M562.11 339.03l1.95 3.39h-3.9z" fill="#2f79bf"/>
<path d="M562.36 339.52l1.95 3.39h-3.9z" fill="#2f79bf"/>
<path d="M562.6 340.09l1.95 3.39h-3.9z" fill="#2f79bf"/>
<path d="M562.85 338.91l1.95 3.39h-3.9z" fill="#2f79bf"/>
<path d="M563.09 339.68l1.95 3.39h-3.9z" fill="#2f79bf"/>
<path d="M563.34 338.75l1.95 3.39h-3.9z" fill="#2f79bf"/>
<path d="M563.59 338.07l1.95 3.39h-3.9z" fill="#2f79bf"/>
<path d="M563.83 339.16l1.95 3.39h-3.9z" fill="#2f79bf"/>
<path d="M564.08 339.45l1.95 3.39h-3.9z" fill="#2f79bf"/>
<path d="M564.32 339.77l1.95 3.39h-3.9z" fill="#2f79bf"/>
<path d="M564.57 339.83l1.95 3.39h-3.9z" fill="#2f79bf"/>
<path d="M564.82 338.76l1.95 3.39h-3.9z" fill="#2f79bf"/>
<path d="M565.06 339.34l1.95 3.39h-3.9z" fill="#2f79bf"/>
<path d="M565.31 339.79l1.95 3.39h-3.9z" fill="#2f79bf"/>
<path d="M565.55 339.94l1.95 3.39h-3.9z" fill="#2f79bf"/>
<path d="M565.8 339.55l1.95 3.39h-3.9z" fill="#2f79bf"/>
<path d="M566.05 338.48l1.95 3.39h-3.9z" fill="#2f79bf"/>
<path d="M566.29 339.76l1.95 3.39h-3.9z" fill="#2f79bf"/>
<path d="M566.54 339.96l1.95 3.39h-3.9z" fill="#2f79bf"/>
<path d="M566.78 339.43l1.95 3.39h-3.9z" fill="#2f79bf"/>
<path d="M567.03 340.75l1.95 3.39h-3.9z" fill="#2f79bf"/>
<path d="M567.28 340.18l1.95 3.39h-3.9z" fill="#2f79bf"/>
<path d="M567.52 339.27l1.95 3.39h-3.9z" fill="#2f79bf"/>
<path d="M567.77 339.5l1.95 3.39h-3.9z" fill="#2f79bf"/>
<path d="M568.01 339.6l1.95 3.39h-3.9z" fill="#2f79bf"/>
<path d="M568.26 339.02l1.95 3.39h-3.9z" fill="#2f79bf"/>
<path d="M568.51 340.81l1.95 3.39h-3.9z" fill="#2f79bf"/>
<path d="M568.75 339.54l1.95 3.39h-3.9z" fill="#2f79bf"/>
<path d="M569 339.95l1.95 3.39h-3.9z" fill="#2f79bf"/>
<path d="M569.24 340l1.95 3.39h-3.9z" fill="#2f79bf"/>
<path d="M569.49 340.35l1.95 3.39h-3.9z" fill="#2f79bf"/>
<path d="M569.74 339.65l1.95 3.39h-3.9z" fill="#2f79bf"/>
<path d="M569.98 338.85l1.95 3.39h-3.9z" fill="#2f79bf"/>
<path d="M570.23 339.74l1.95 3.39h-3.9z" fill="#2f79bf"/>
<path d="M570.47 339.82l1.95 3.39h-3.9z" fill="#2f79bf"/>
<path d="M570.72 340.12l1.95 3.39h-3.9z" fill="#2f79bf"/>
<path d="M570.97 339.74l1.95 3.39h-3.9z" fill="#2f79bf"/>
<path d="M571.21 340.57l1.95 3.39h-3.9z" fill="#2f79bf"/>
<path d="M571.46 339.58l1.95 3.39h-3.9z" fill="#2f79bf"/>
<path d="M571.7 341.17l1.95 3.39h-3.9z" fill="#2f79bf"/>
<path d="M571.95 340.16l1.95 3.39h-3.9z" fill="#2f79bf"/>
<path d="M572.2 340.35l1.95 3.39h-3.9z" fill="#2f79bf"/>
<path d="M572.44 340.05l1.95 3.39h-3.9z" fill="#2f79bf"/>
<path d="M572.69 340.21l1.95 3.39h-3.9z" fill="#2f79bf"/>
<path d="M572.93 340.15l1.95 3.39h-3.9z" fill="#2f79bf"/>
<path d="M573.18 340.3l1.95 3.39h-3.9z" fill="#2f79bf"/>
<path d="M573.43 340.41l1.95 3.39h-3.9z" fill="#2f79bf"/>
<path d="M573.67 340.72l1.95 3.39h-3.9z" fill="#2f79bf"/>
<path d="M573.92 340.15l1.95 3.39h-3.9z" fill="#2f79bf"/>
<path d="M574.16 339.97l1.95 3.39h-3.9z" fill="#2f79bf"/>
<path d="M574.41 340.35l1.95 3.39h-3.9z" fill="#2f79bf"/>
<path d="M574.66 340.34l1.95 3.39h-3.9z" fill="#2f79bf"/>
<path d="M574.9 339.82l1.95 3.39h-3.9z" fill="#2f79bf"/>
<path d="M575.15 340.79l1.95 3.39h-3.9z" fill="#2f79bf"/>
<path d="M575.39 340.37l1.95 3.39h-3.9z" fill="#2f79bf"/>
<path d="M575.64 339.17l1.95 3.39h-3.9z" fill="#2f79bf"/>
<path d="M575.89 340.48l1.95 3.39h-3.9z" fill="#2f79bf"/>
<path d="M576.13 339.65l1.95 3.39h-3.9z" fill="#2f79bf"/>
<path d="M576.38 340.64l1.95 3.39h-3.9z" fill="#2f79bf"/>
<path d="M576.62 340.22l1.95 3.39h-3.9z" fill="#2f79bf"/>
<path d="M576.87 341.04l1.95 3.39h-3.9z" fill="#2f79bf"/>
<path d="M577.12 340.34l1.95 3.39h-3.9z" fill="#2f79bf"/>
<path d="M577.36 340.16l1.95 3.39h-3.9z" fill="#2f79bf"/>
<path d="M577.61 340.15l1.95 3.39h-3.9z" fill="#2f79bf"/>
<path d="M577.85 339.68l1.95 3.39h-3.9z" fill="#2f79bf"/>
<path d="M578.1 340.58l1.95 3.39h-3.9z" fill="#2f79bf"/>
<path d="M578.35 340.65l1.95 3.39h-3.9z" fill="#2f79bf"/>
<path d="M578.59 340.6l1.95 3.39h-3.9z" fill="#2f79bf"/>
<path d="M578.84 340.37l1.95 3.39h-3.9z" fill="#2f79bf"/>
<path d="M579.08 341.04l1.95 3.39h-3.9z" fill="#2f79bf"/>
<path d="M579.33 340.67l1.95 3.39h-3.9z" fill="#2f79bf"/>
<path d="M579.58 341.11l1.95 3.39h-3.9z" fill="#2f79bf"/>
<path d="M579.82 340.59l1.95 3.39h-3.9z" fill="#2f79bf"/>
<path d="M580.07 341.12l1.95 3.39h-3.9z" fill="#2f79bf"/>
<path d="M580.31 340.36l1.95 3.39h-3.9z" fill="#2f79bf"/>
<path d="M580.56 340.65l1.95 3.39h-3.9z" fill="#2f79bf"/>
<path d="M580.81 340.9l1.95 3.39h-3.9z" fill="#2f79bf"/>
<path d="M581.05 340.7l1.95 3.39h-3.9z" fill="#2f79bf"/>
<path d="M581.3 341.43l1.95 3.39h-3.9z" fill="#2f79bf"/>
<path d="M581.54 340.69l1.95 3.39h-3.9z" fill="#2f79bf"/>
<path d="M581.79 341.07l1.95 3.39h-3.9z" fill="#2f79bf"/>
<path d="M582.04 341.07l1.95 3.39h-3.9z" fill="#2f79bf"/>
<path d="M582.28 339.74l1.95 3.39h-3.9z" fill="#2f79bf"/>
<path d="M582.53 340.45l1.95 3.39h-3.9z" fill="#2f79bf"/>
<path d="M582.77 340.97l1.95 3.39h-3.9z" fill="#2f79bf"/>
<path d="M583.02 341.21l1.95 3.39h-3.9z" fill="#2f79bf"/>
<path d="M583.27 340.57l1.95 3.39h-3.9z" fill="#2f79bf"/>
<path d="M583.51 341.5l1.95 3.39h-3.9z" fill="#2f79bf"/>
<path d="M583.76 339.84l1.95 3.39h-3.9z" fill="#2f79bf"/>
<path d="M584 341.49l1.95 3.39h-3.9z" fill="#2f79bf"/>
<path d="M584.25 340.98l1.95 3.39h-3.9z" fill="#2f79bf"/>
<path d="M584.5 340.4l1.95 3.39h-3.9z" fill="#2f79bf"/>
<path d="M584.74 341.42l1.95 3.39h-3.9z" fill="#2f79bf"/>
<path d="M584.99 340.34l1.95 3.39h-3.9z" fill="#2f79bf"/>
<path d="M585.23 341.33l1.95 3.39h-3.9z" fill="#2f79bf"/>
<path d="M585.48 341.26l1.95 3.39h-3.9z" fill="#2f79bf"/>
<path d="M585.73 341.01l1.95 3.39h-3.9z" fill="#2f79bf"/>
<path d="M585.97 341.72l1.95 3.39h-3.9z" fill="#2f79bf"/>
<path d="M586.22 341.11l1.95 3.39h-3.9z" fill="#2f79bf"/>
<path d="M586.46 341.87l1.95 3.39h-3.9z" fill="#2f79bf"/>
<path d="M586.71 341.82l1.95 3.39h-3.9z" fill="#2f79bf"/>
<path d="M586.96 341.6l1.95 3.39h-3.9z" fill="#2f79bf"/>
<path d="M587.2 340.71l1.95 3.39h-3.9z" fill="#2f79bf"/>
<path d="M587.45 340.65l1.95 3.39h-3.9z" fill="#2f79bf"/>
<path d="M587.69 342.34l1.95 3.39h-3.9z" fill="#2f79bf"/>
<path d="M587.94 341.07l1.95 3.39h-3.9z" fill="#2f79bf"/>
<path d="M588.19 341.63l1.95 3.39h-3.9z" fill="#2f79bf"/>
<path d="M588.43 340.94l1.95 3.39h-3.9z" fill="#2f79bf"/>
<path d="M588.68 341.99l1.95 3.39h-3.9z" fill="#2f79bf"/>
<path d="M588.92 341.58l1.95 3.39h-3.9z" fill="#2f79bf"/>
<path d="M589.17 340.75l1.95 3.39h-3.9z" fill="#2f79bf"/>
<path d="M589.42 341.11l1.95 3.39h-3.9z" fill="#2f79bf"/>
<path d="M589.66 342.27l1.95 3.39h-3.9z" fill="#2f79bf"/>
<path d="M589.91 341.38l1.95 3.39h-3.9z" fill="#2f79bf"/>
<path d="M590.15 340.83l1.95 3.39h-3.9z" fill="#2f79bf"/>
<path d="M590.4 341.6l1.95 3.39h-3.9z" fill="#2f79bf"/>
<path d="M590.65 341.72l1.95 3.39h-3.9z" fill="#2f79bf"/>
<path d="M590.89 341.39l1.95 3.39h-3.9z" fill="#2f79bf"/>
<path d="M591.14 342.39l1.95 3.39h-3.9z" fill="#2f79bf"/>
<path d="M591.38 342.62l1.95 3.39h-3.9z" fill="#2f79bf"/>
<path d="M591.63 342.15l1.95 3.39h-3.9z" fill="#2f79bf"/>
<path d="M591.88 341.71l1.95 3.39h-3.9z" fill="#2f79bf"/>
<path d="M592.12 341.19l1.95 3.39h-3.9z" fill="#2f79bf"/>
<path d="M592.37 340.89l1.95 3.39h-3.9z" fill="#2f79bf"/>
<path d="M592.61 341.73l1.95 3.39h-3.9z" fill="#2f79bf"/>
<path d="M592.86 341.08l1.95 3.39h-3.9z" fill="#2f79bf"/>
<path d="M593.11 341.62l1.95 3.39h-3.9z" fill="#2f79bf"/>
<path d="M593.35 342.05l1.95 3.39h-3.9z" fill="#2f79bf"/>
<path d="M593.6 340.8l1.95 3.39h-3.9z" fill="#2f79bf"/>
<path d="M593.84 341.42l1.95 3.39h-3.9z" fill="#2f79bf"/>
<path d="M594.09 341.76l1.95 3.39h-3.9z" fill="#2f79bf"/>
<path d="M594.34 342.17l1.95 3.39h-3.9z" fill="#2f79bf"/>
<path d="M594.58 342.65l1.95 3.39h-3.9z" fill="#2f79bf"/>
<path d="M594.83 341.35l1.95 3.39h-3.9z" fill="#2f79bf"/>
<path d="M595.07 341.42l1.95 3.39h-3.9z" fill="#2f79bf"/>
<path d="M595.32 341.34l1.95 3.39h-3.9z" fill="#2f79bf"/>
<path d="M595.57 341.72l1.95 3.39h-3.9z" fill="#2f79bf"/>
<path d="M595.81 342.54l1.95 3.39h-3.9z" fill="#2f79bf"/>
<path d="M596.06 342.26l1.95 3.39h-3.9z" fill="#2f79bf"/>
<path d="M596.3 341.99l1.95 3.39h-3.9z" fill="#2f79bf"/>
<path d="M596.55 341.16l1.95 3.39h-3.9z" fill="#2f79bf"/>
<path d="M596.8 342.37l1.95 3.39h-3.9z" fill="#2f79bf"/>
<path d="M597.04 342.1l1.95 3.39h-3.9z" fill="#2f79bf"/>
<path d="M597.29 342.87l1.95 3.39h-3.9z" fill="#2f79bf"/>
<path d="M597.53 342l1.95 3.39h-3.9z" fill="#2f79bf"/>
<path d="M597.78 341.86l1.95 3.39h-3.9z" fill="#2f79bf"/>
<path d="M598.03 342.52l1.95 3.39h-3.9z" fill="#2f79bf"/>
<path d="M598.27 341.88l1.95 3.39h-3.9z" fill="#2f79bf"/>
<path d="M598.52 342.57l1.95 3.39h-3.9z" fill="#2f79bf"/>
<path d="M598.76 342.42l1.95 3.39h-3.9z" fill="#2f79bf"/>
<path d="M599.01 342.02l1.95 3.39h-3.9z" fill="#2f79bf"/>
<path d="M599.26 342.28l1.95 3.39h-3.9z" fill="#2f79bf"/>
<path d="M599.5 342.12l1.95 3.39h-3.9z" fill="#2f79bf"/>
<path d="M599.75 341.86l1.95 3.39h-3.9z" fill="#2f79bf"/>
<path d="M599.99 342.56l1.95 3.39h-3.9z" fill="#2f79bf"/>
<path d="M600.24 342.81l1.95 3.39h-3.9z" fill="#2f79bf"/>
<path d="M600.49 341.42l1.95 3.39h-3.9z" fill="#2f79bf"/>
<path d="M600.73 342.43l1.95 3.39h-3.9z" fill="#2f79bf"/>
<path d="M600.98 342.75l1.95 3.39h-3.9z" fill="#2f79bf"/>
<path d="M601.22 341.8l1.95 3.39h-3.9z" fill="#2f79bf"/>
<path d="M601.47 342.79l1.95 3.39h-3.9z" fill="#2f79bf"/>
<path d="M601.72 342.03l1.95 3.39h-3.9z" fill="#2f79bf"/>
<path d="M601.96 342.61l1.95 3.39h-3.9z" fill="#2f79bf"/>
<path d="M602.21 342.05l1.95 3.39h-3.9z" fill="#2f79bf"/>
<path d="M602.45 343.55l1.95 3.39h-3.9z" fill="#2f79bf"/>
<path d="M602.7 343.05l1.95 3.39h-3.9z" fill="#2f79bf"/>
<path d="M602.95 341.87l1.95 3.39h-3.9z" fill="#2f79bf"/>
<path d="M603.19 341.72l1.95 3.39h-3.9z" fill="#2f79bf"/>
<path d="M603.44 342.52l1.95 3.39h-3.9z" fill="#2f79bf"/>
<path d="M603.68 342.42l1.95 3.39h-3.9z" fill="#2f79bf"/>
<path d="M603.93 342.69l1.95 3.39h-3.9z" fill="#2f79bf"/>
<path d="M604.18 341.75l1.95 3.39h-3.9z" fill="#2f79bf"/>
<path d="M604.42 341.86l1.95 3.39h-3.9z" fill="#2f79bf"/>
<path d="M604.67 342.46l1.95 3.39h-3.9z" fill="#2f79bf"/>
<path d="M604.91 342.81l1.95 3.39h-3.9z" fill="#2f79bf"/>
<path d="M605.16 342.46l1.95 3.39h-3.9z" fill="#2f79bf"/>
<path d="M605.41 342.83l1.95 3.39h-3.9z" fill="#2f79bf"/>
<path d="M605.65 341.87l1.95 3.39h-3.9z" fill="#2f79bf"/>
<path d="M605.9 343.54l1.95 3.39h-3.9z" fill="#2f79bf"/>
<path d="M606.14 343.03l1.95 3.39h-3.9z" fill="#2f79bf"/>
<path d="M606.39 342.71l1.95 3.39h-3.9z" fill="#2f79bf"/>
<path d="M606.64 342.57l1.95 3.39h-3.9z" fill="#2f79bf"/>
<path d="M606.88 343.68l1.95 3.39h-3.9z" fill="#2f79bf"/>
<path d="M607.13 342.36l1.95 3.39h-3.9z" fill="#2f79bf"/>
<path d="M607.37 342.22l1.95 3.39h-3.9z" fill="#2f79bf"/>
<path d="M607.62 343.23l1.95 3.39h-3.9z" fill="#2f79bf"/>
<path d="M607.87 343.43l1.95 3.39h-3.9z" fill="#2f79bf"/>
<path d="M608.11 341.84l1.95 3.39h-3.9z" fill="#2f79bf"/>
<path d="M608.36 342.68l1.95 3.39h-3.9z" fill="#2f79bf"/>
<path d="M608.6 343.46l1.95 3.39h-3.9z" fill="#2f79bf"/>
<path d="M608.85 343.48l1.95 3.39h-3.9z" fill="#2f79bf"/>
<path d="M609.1 342.46l1.95 3.39h-3.9z" fill="#2f79bf"/>
<path d="M609.34 342.46l1.95 3.39h-3.9z" fill="#2f79bf"/>
<path d="M609.59 343.63l1.95 3.39h-3.9z" fill="#2f79bf"/>
<path d="M609.83 343.65l1.95 3.39h-3.9z" fill="#2f79bf"/>
<path d="M610.08 343.93l1.95 3.39h-3.9z" fill="#2f79bf"/>
<path d="M610.33 342.29l1.95 3.39h-3.9z" fill="#2f79bf"/>
<path d="M610.57 344.05l1.95 3.39h-3.9z" fill="#2f79bf"/>
<path d="M610.82 343.16l1.95 3.39h-3.9z" fill="#2f79bf"/>
<path d="M611.06 342.76l1.95 3.39h-3.9z" fill="#2f79bf"/>
<path d="M611.31 343.02l1.95 3.39h-3.9z" fill="#2f79bf"/>
<path d="M611.56 342.88l1.95 3.39h-3.9z" fill="#2f79bf"/>
<path d="M611.8 342.6l1.95 3.39h-3.9z" fill="#2f79bf"/>
<path d="M612.05 343.83l1.95 3.39h-3.9z" fill="#2f79bf"/>
<path d="M612.29 343.23l1.95 3.39h-3.9z" fill="#2f79bf"/>
<path d="M612.54 343.47l1.95 3.39h-3.9z" fill="#2f79bf"/>
<path d="M612.79 343.35l1.95 3.39h-3.9z" fill="#2f79bf"/>
<path d="M613.03 342.87l1.95 3.39h-3.9z" fill="#2f79bf"/>
<path d="M613.28 342.64l1.95 3.39h-3.9z" fill="#2f79bf"/>
<path d="M613.52 342.81l1.95 3.39h-3.9z" fill="#2f79bf"/>
<path d="M613.77 343.18l1.95 3.39h-3.9z" fill="#2f79bf"/>
<path d="M614.02 342.91l1.95 3.39h-3.9z" fill="#2f79bf"/>
<path d="M614.26 342.63l1.95 3.39h-3.9z" fill="#2f79bf"/>
<path d="M614.51 342.83l1.95 3.39h-3.9z" fill="#2f79bf"/>
<path d="M614.75 342.42l1.95 3.39h-3.9z" fill="#2f79bf"/>
<path d="M615 343.46l1.95 3.39h-3.9z" fill="#2f79bf"/>
<path d="M615.25 343.25l1.95 3.39h-3.9z" fill="#2f79bf"/>
<path d="M615.49 344.07l1.95 3.39h-3.9z" fill="#2f79bf"/>
<path d="M615.74 343.18l1.95 3.39h-3.9z" fill="#2f79bf"/>
<path d="M615.98 343.65l1.95 3.39h-3.9z" fill="#2f79bf"/>
<path d="M616.23 343.53l1.95 3.39h-3.9z" fill="#2f79bf"/>
<path d="M616.48 343.14l1.95 3.39h-3.9z" fill="#2f79bf"/>
<path d="M616.72 343.47l1.95 3.39h-3.9z" fill="#2f79bf"/>
<path d="M616.97 343.02l1.95 3.39h-3.9z" fill="#2f79bf"/>
<path d="M617.21 343.36l1.95 3.39h-3.9z" fill="#2f79bf"/>
<path d="M617.46 342.97l1.95 3.39h-3.9z" fill="#2f79bf"/>
<path d="M617.71 343.87l1.95 3.39h-3.9z" fill="#2f79bf"/>
<path d="M617.95 343.74l1.95 3.39h-3.9z" fill="#2f79bf"/>
<path d="M618.2 343.9l1.95 3.39h-3.9z" fill="#2f79bf"/>
<path d="M618.44 343.85l1.95 3.39h-3.9z" fill="#2f79bf"/>
<path d="M618.69 343.1l1.95 3.39h-3.9z" fill="#2f79bf"/>
<path d="M618.94 343.28l1.95 3.39h-3.9z" fill="#2f79bf"/>
<path d="M619.18 342.93l1.95 3.39h-3.9z" fill="#2f79bf"/>
<path d="M619.43 344.06l1.95 3.39h-3.9z" fill="#2f79bf"/>
<path d="M619.67 342.44l1.95 3.39h-3.9z" fill="#2f79bf"/>
<path d="M619.92 343.56l1.95 3.39h-3.9z" fill="#2f79bf"/>
<path d="M620.17 343.96l1.95 3.39h-3.9z" fill="#2f79bf"/>
<path d="M620.41 343.41l1.95 3.39h-3.9z" fill="#2f79bf"/>
<path d="M620.66 343.78l1.95 3.39h-3.9z" fill="#2f79bf"/>
<path d="M620.9 343.19l1.95 3.39h-3.9z" fill="#2f79bf"/>
<path d="M621.15 343.96l1.95 3.39h-3.9z" fill="#2f79bf"/>
<path d="M621.4 343.42l1.95 3.39h-3.9z" fill="#2f79bf"/>
<path d="M621.64 344.29l1.95 3.39h-3.9z" fill="#2f79bf"/>
<path d="M621.89 344.19l1.95 3.39h-3.9z" fill="#2f79bf"/>
<path d="M622.13 343.56l1.95 3.39h-3.9z" fill="#2f79bf"/>
<path d="M622.38 344.37l1.95 3.39h-3.9z" fill="#2f79bf"/>
<path d="M622.63 344.06l1.95 3.39h-3.9z" fill="#2f79bf"/>
<path d="M622.87 343.41l1.95 3.39h-3.9z" fill="#2f79bf"/>
<path d="M623.12 343.45l1.95 3.39h-3.9z" fill="#2f79bf"/>
<path d="M623.36 344.84l1.95 3.39h-3.9z" fill="#2f79bf"/>
<path d="M623.61 343.77l1.95 3.39h-3.9z" fill="#2f79bf"/>
<path d="M623.86 343.74l1.95 3.39h-3.9z" fill="#2f79bf"/>
<path d="M624.1 343.64l1.95 3.39h-3.9z" fill="#2f79bf"/>
<path d="M624.35 343.51l1.95 3.39h-3.9z" fill="#2f79bf"/>
<path d="M624.59 343.7l1.95 3.39h-3.9z" fill="#2f79bf"/>
<path d="M624.84 344.4l1.95 3.39h-3.9z" fill="#2f79bf"/>
<path d="M625.09 343.76l1.95 3.39h-3.9z" fill="#2f79bf"/>
<path d="M625.33 343.02l1.95 3.39h-3.9z" fill="#2f79bf"/>
<path d="M625.58 343.43l1.95 3.39h-3.9z" fill="#2f79bf"/>
<path d="M625.82 343.32l1.95 3.39h-3.9z" fill="#2f79bf"/>
<path d="M626.07 343.81l1.95 3.39h-3.9z" fill="#2f79bf"/>
<path d="M626.32 343.97l1.95 3.39h-3.9z" fill="#2f79bf"/>
<path d="M626.56 343.52l1.95 3.39h-3.9z" fill="#2f79bf"/>
<path d="M626.81 344.6l1.95 3.39h-3.9z" fill="#2f79bf"/>
<path d="M627.05 343.77l1.95 3.39h-3.9z" fill="#2f79bf"/>
<path d="M627.3 343.86l1.95 3.39h-3.9z" fill="#2f79bf"/>
<path d="M627.55 343.95l1.95 3.39h-3.9z" fill="#2f79bf"/>
<path d="M627.79 343.52l1.95 3.39h-3.9z" fill="#2f79bf"/>
<path d="M628.04 343.76l1.95 3.39h-3.9z" fill="#2f79bf"/>
<path d="M628.28 343.46l1.95 3.39h-3.9z" fill="#2f79bf"/>
<path d="M628.53 344.12l1.95 3.39h-3.9z" fill="#2f79bf"/>
<path d="M628.78 344.28l1.95 3.39h-3.9z" fill="#2f79bf"/>
<path d="M629.02 344.03l1.95 3.39h-3.9z" fill="#2f79bf"/>
<path d="M629.27 343.86l1.95 3.39h-3.9z" fill="#2f79bf"/>
<path d="M629.51 345.03l1.95 3.39h-3.9z" fill="#2f79bf"/>
<path d="M629.76 344.07l1.95 3.39h-3.9z" fill="#2f79bf"/>
<path d="M630.01 344.04l1.95 3.39h-3.9z" fill="#2f79bf"/>
<path d="M630.25 344.36l1.95 3.39h-3.9z" fill="#2f79bf"/>
<path d="M630.5 344.81l1.95 3.39h-3.9z" fill="#2f79bf"/>
<path d="M630.74 344.41l1.95 3.39h-3.9z" fill="#2f79bf"/>
<path d="M630.99 345.06l1.95 3.39h-3.9z" fill="#2f79bf"/>
<path d="M631.24 344.83l1.95 3.39h-3.9z" fill="#2f79bf"/>
<path d="M631.48 344.58l1.95 3.39h-3.9z" fill="#2f79bf"/>
<path d="M631.73 345.48l1.95 3.39h-3.9z" fill="#2f79bf"/>
<path d="M631.97 344.67l1.95 3.39h-3.9z" fill="#2f79bf"/>
<path d="M632.22 344l1.95 3.39h-3.9z" fill="#2f79bf"/>
<path d="M632.47 344.2l1.95 3.39h-3.9z" fill="#2f79bf"/>
<path d="M632.71 344.61l1.95 3.39h-3.9z" fill="#2f79bf"/>
<path d="M632.96 344.54l1.95 3.39h-3.9z" fill="#2f79bf"/>
<path d="M633.2 344.63l1.95 3.39h-3.9z" fill="#2f79bf"/>
<path d="M633.45 344.25l1.95 3.39h-3.9z" fill="#2f79bf"/>
<path d="M633.7 344.97l1.95 3.39h-3.9z" fill="#2f79bf"/>
<path d="M633.94 345.29l1.95 3.39h-3.9z" fill="#2f79bf"/>
<path d="M634.19 344.99l1.95 3.39h-3.9z" fill="#2f79bf"/>
<path d="M634.43 345.03l1.95 3.39h-3.9z" fill="#2f79bf"/>
<path d="M634.68 344.37l1.95 3.39h-3.9z" fill="#2f79bf"/>
<path d="M634.93 345.59l1.95 3.39h-3.9z" fill="#2f79bf"/>
<path d="M635.17 344.76l1.95 3.39h-3.9z" fill="#2f79bf"/>
<path d="M635.42 344.88l1.95 3.39h-3.9z" fill="#2f79bf"/>
<path d="M635.66 344.38l1.95 3.39h-3.9z" fill="#2f79bf"/>
<path d="M635.91 343.87l1.95 3.39h-3.9z" fill="#2f79bf"/>
<path d="M636.16 344.58l1.95 3.39h-3.9z" fill="#2f79bf"/>
<path d="M636.4 344.12l1.95 3.39h-3.9z" fill="#2f79bf"/>
<path d="M636.65 344.42l1.95 3.39h-3.9z" fill="#2f79bf"/>
<path d="M636.89 345.03l1.95 3.39h-3.9z" fill="#2f79bf"/>
<path d="M637.14 345.3l1.95 3.39h-3.9z" fill="#2f79bf"/>
<path d="M637.39 344.69l1.95 3.39h-3.9z" fill="#2f79bf"/>
<path d="M637.63 345.32l1.95 3.39h-3.9z" fill="#2f79bf"/>
<path d="M637.88 345.03l1.95 3.39h-3.9z" fill="#2f79bf"/>
<path d="M638.12 344.59l1.95 3.39h-3.9z" fill="#2f79bf"/>
<path d="M638.37 343.71l1.95 3.39h-3.9z" fill="#2f79bf"/>
<path d="M638.62 345.82l1.95 3.39h-3.9z" fill="#2f79bf"/>
<path d="M638.86 344.11l1.95 3.39h-3.9z" fill="#2f79bf"/>
<path d="M639.11 345.23l1.95 3.39h-3.9z" fill="#2f79bf"/>
<path d="M639.35 344.87l1.95 3.39h-3.9z" fill="#2f79bf"/>
<path d="M639.6 344.88l1.95 3.39h-3.9z" fill="#2f79bf"/>
<path d="M639.85 344.52l1.95 3.39h-3.9z" fill="#2f79bf"/>
<path d="M640.09 344.5l1.95 3.39h-3.9z" fill="#2f79bf"/>
<path d="M640.34 345.1l1.95 3.39h-3.9z" fill="#2f79bf"/>
<path d="M640.58 344.71l1.95 3.39h-3.9z" fill="#2f79bf"/>
<path d="M640.83 344.78l1.95 3.39h-3.9z" fill="#2f79bf"/>
<path d="M641.08 345.68l1.95 3.39h-3.9z" fill="#2f79bf"/>
<path d="M641.32 344.78l1.95 3.39h-3.9z" fill="#2f79bf"/>
<path d="M641.57 344.88l1.95 3.39h-3.9z" fill="#2f79bf"/>
<path d="M641.81 344.83l1.95 3.39h-3.9z" fill="#2f79bf"/>
<path d="M642.06 344.85l1.95 3.39h-3.9z" fill="#2f79bf"/>
<path d="M642.31 344.89l1.95 3.39h-3.9z" fill="#2f79bf"/>
<path d="M642.55 346.12l1.95 3.39h-3.9z" fill="#2f79bf"/>
<path d="M642.8 345.24l1.95 3.39h-3.9z" fill="#2f79bf"/>
<path d="M643.04 345.07l1.95 3.39h-3.9z" fill="#2f79bf"/>
<path d="M643.29 345.07l1.95 3.39h-3.9z" fill="#2f79bf"/>
<path d="M643.54 344.94l1.95 3.39h-3.9z" fill="#2f79bf"/>
<path d="M643.78 344.93l1.95 3.39h-3.9z" fill="#2f79bf"/>
<path d="M644.03 344.08l1.95 3.39h-3.9z" fill="#2f79bf"/>
<path d="M644.27 346.2l1.95 3.39h-3.9z" fill="#2f79bf"/>
<path d="M644.52 346.45l1.95 3.39h-3.9z" fill="#2f79bf"/>
<path d="M644.77 345.18l1.95 3.39h-3.9z" fill="#2f79bf"/>
<path d="M645.01 345.57l1.95 3.39h-3.9z" fill="#2f79bf"/>
<path d="M645.26 344.95l1.95 3.39h-3.9z" fill="#2f79bf"/>
<path d="M645.5 345.36l1.95 3.39h-3.9z" fill="#2f79bf"/>
<path d="M645.75 344.83l1.95 3.39h-3.9z" fill="#2f79bf"/>
<path d="M646 345.28l1.95 3.39h-3.9z" fill="#2f79bf"/>
<path d="M646.24 344.49l1.95 3.39h-3.9z" fill="#2f79bf"/>
<path d="M646.49 345.34l1.95 3.39h-3.9z" fill="#2f79bf"/>
<path d="M646.73 346.29l1.95 3.39h-3.9z" fill="#2f79bf"/>
<path d="M646.98 345.8l1.95 3.39h-3.9z" fill="#2f79bf"/>
<path d="M647.23 345.91l1.95 3.39h-3.9z" fill="#2f79bf"/>
<path d="M647.47 345.89l1.95 3.39h-3.9z" fill="#2f79bf"/>
<path d="M647.72 344.92l1.95 3.39h-3.9z" fill="#2f79bf"/>
<path d="M647.96 346.05l1.95 3.39h-3.9z" fill="#2f79bf"/>
<path d="M648.21 345.11l1.95 3.39h-3.9z" fill="#2f79bf"/>
<path d="M648.46 345.39l1.95 3.39h-3.9z" fill="#2f79bf"/>
<path d="M648.7 345.01l1.95 3.39h-3.9z" fill="#2f79bf"/>
<path d="M648.95 345.21l1.95 3.39h-3.9z" fill="#2f79bf"/>
<path d="M649.19 346.26l1.95 3.39h-3.9z" fill="#2f79bf"/>
<path d="M649.44 345.82l1.95 3.39h-3.9z" fill="#2f79bf"/>
<path d="M649.69 345.3l1.95 3.39h-3.9z" fill="#2f79bf"/>
<path d="M649.93 345.93l1.95 3.39h-3.9z" fill="#2f79bf"/>
<path d="M650.18 345.33l1.95 3.39h-3.9z" fill="#2f79bf"/>
<path d="M650.42 345.67l1.95 3.39h-3.9z" fill="#2f79bf"/>
<path d="M650.67 345.99l1.95 3.39h-3.9z" fill="#2f79bf"/>
<circle cx="492" cy="319.42" r="2.1" fill="#c8284e"/>
<circle cx="492.25" cy="320.25" r="2.1" fill="#c8284e"/>
<circle cx="492.49" cy="319.37" r="2.1" fill="#c8284e"/>
<circle cx="492.74" cy="319.21" r="2.1" fill="#c8284e"/>
<circle cx="492.98" cy="319.08" r="2.1" fill="#c8284e"/>
<circle cx="493.23" cy="318.6" r="2.1" fill="#c8284e"/>
<circle cx="493.48" cy="318.22" r="2.1" fill="#c8284e"/>
<circle cx="493.72" cy="317.7" r="2.1" fill="#c8284e"/>
<circle cx="493.97" cy="317.16" r="2.1" fill="#c8284e"/>
<circle cx="494.21" cy="316.69" r="2.1" fill="#c8284e"/>
<circle cx="494.46" cy="316.74" r="2.1" fill="#c8284e"/>
<circle cx="494.71" cy="316.18" r="2.1" fill="#c8284e"/>
<circle cx="494.95" cy="316.18" r="2.1" fill="#c8284e"/>
<circle cx="495.2" cy="316.07" r="2.1" fill="#c8284e"/>
<circle cx="495.44" cy="315.95" r="2.1" fill="#c8284e"/>
<circle cx="495.69" cy="315.98" r="2.1" fill="#c8284e"/>
<circle cx="495.94" cy="315.97" r="2.1" fill="#c8284e"/>
<circle cx="496.18" cy="315.18" r="2.1" fill="#c8284e"/>
<circle cx="496.43" cy="314.97" r="2.1" fill="#c8284e"/>
<circle cx="496.67" cy="314.69" r="2.1" fill="#c8284e"/>
<circle cx="496.92" cy="314.58" r="2.1" fill="#c8284e"/>
<circle cx="497.17" cy="315.06" r="2.1" fill="#c8284e"/>
<circle cx="497.41" cy="314.75" r="2.1" fill="#c8284e"/>
<circle cx="497.66" cy="314.8" r="2.1" fill="#c8284e"/>
<circle cx="497.9" cy="313.93" r="2.1" fill="#c8284e"/>
<circle cx="498.15" cy="314.23" r="2.1" fill="#c8284e"/>
<circle cx="498.4" cy="314.04" r="2.1" fill="#c8284e"/>
<circle cx="498.64" cy="314.31" r="2.1" fill="#c8284e"/>
<circle cx="498.89" cy="314.33" r="2.1" fill="#c8284e"/>
<circle cx="499.13" cy="313.98" r="2.1" fill="#c8284e"/>
<circle cx="499.38" cy="313.7" r="2.1" fill="#c8284e"/>
<circle cx="499.63" cy="313.4" r="2.1" fill="#c8284e"/>
<circle cx="499.87" cy="314.01" r="2.1" fill="#c8284e"/>
<circle cx="500.12" cy="313.32" r="2.1" fill="#c8284e"/>
<circle cx="500.36" cy="313.73" r="2.1" fill="#c8284e"/>
<circle cx="500.61" cy="313.58" r="2.1" fill="#c8284e"/>
<circle cx="500.86" cy="313.49" r="2.1" fill="#c8284e"/>
<circle cx="501.1" cy="313.5" r="2.1" fill="#c8284e"/>
<circle cx="501.35" cy="313.16" r="2.1" fill="#c8284e"/>
<circle cx="501.59" cy="312.99" r="2.1" fill="#c8284e"/>
<circle cx="501.84" cy="313.16" r="2.1" fill="#c8284e"/>
<circle cx="502.09" cy="313.45" r="2.1" fill="#c8284e"/>
<circle cx="502.33" cy="313.09" r="2.1" fill="#c8284e"/>
<circle cx="502.58" cy="313.08" r="2.1" fill="#c8284e"/>
<circle cx="502.82" cy="312.88" r="2.1" fill="#c8284e"/>
<circle cx="503.07" cy="313.07" r="2.1" fill="#c8284e"/>
<circle cx="503.32" cy="313.78" r="2.1" fill="#c8284e"/>
<circle cx="503.56" cy="313.51" r="2.1" fill="#c8284e"/>
<circle cx="503.81" cy="313.42" r="2.1" fill="#c8284e"/>
<circle cx="504.05" cy="312.97" r="2.1" fill="#c8284e"/>
<circle cx="504.3" cy="313.39" r="2.1" fill="#c8284e"/>
<circle cx="504.55" cy="313.04" r="2.1" fill="#c8284e"/>
<circle cx="504.79" cy="313.3" r="2.1" fill="#c8284e"/>
<circle cx="505.04" cy="313.87" r="2.1" fill="#c8284e"/>
<circle cx="505.28" cy="313.46" r="2.1" fill="#c8284e"/>
<circle cx="505.53" cy="313.31" r="2.1" fill="#c8284e"/>
<circle cx="505.78" cy="313.39" r="2.1" fill="#c8284e"/>
<circle cx="506.02" cy="314.11" r="2.1" fill="#c8284e"/>
<circle cx="506.27" cy="313.45" r="2.1" fill="#c8284e"/>
<circle cx="506.51" cy="313.92" r="2.1" fill="#c8284e"/>
<circle cx="506.76" cy="314.57" r="2.1" fill="#c8284e"/>
<circle cx="507.01" cy="314.12" r="2.1" fill="#c8284e"/>
<circle cx="507.25" cy="314.73" r="2.1" fill="#c8284e"/>
<circle cx="507.5" cy="314.59" r="2.1" fill="#c8284e"/>
<circle cx="507.74" cy="313.71" r="2.1" fill="#c8284e"/>
<circle cx="507.99" cy="313.45" r="2.1" fill="#c8284e"/>
<circle cx="508.24" cy="314.06" r="2.1" fill="#c8284e"/>
<circle cx="508.48" cy="314.39" r="2.1" fill="#c8284e"/>
<circle cx="508.73" cy="313.97" r="2.1" fill="#c8284e"/>
<circle cx="508.97" cy="314.63" r="2.1" fill="#c8284e"/>
<circle cx="509.22" cy="315.21" r="2.1" fill="#c8284e"/>
<circle cx="509.47" cy="315.84" r="2.1" fill="#c8284e"/>
<circle cx="509.71" cy="314.74" r="2.1" fill="#c8284e"/>
<circle cx="509.96" cy="315.98" r="2.1" fill="#c8284e"/>
<circle cx="510.2" cy="316.3" r="2.1" fill="#c8284e"/>
<circle cx="510.45" cy="315.61" r="2.1" fill="#c8284e"/>
<circle cx="510.7" cy="315.46" r="2.1" fill="#c8284e"/>
<circle cx="510.94" cy="315.9" r="2.1" fill="#c8284e"/>
<circle cx="511.19" cy="315.31" r="2.1" fill="#c8284e"/>
<circle cx="511.43" cy="315.82" r="2.1" fill="#c8284e"/>
<circle cx="511.68" cy="315.82" r="2.1" fill="#c8284e"/>
<circle cx="511.93" cy="315.84" r="2.1" fill="#c8284e"/>
<circle cx="512.17" cy="316.32" r="2.1" fill="#c8284e"/>
<circle cx="512.42" cy="316.13" r="2.1" fill="#c8284e"/>
<circle cx="512.66" cy="315.47" r="2.1" fill="#c8284e"/>
<circle cx="512.91" cy="316.75" r="2.1" fill="#c8284e"/>
<circle cx="513.16" cy="316.46" r="2.1" fill="#c8284e"/>
<circle cx="513.4" cy="316.43" r="2.1" fill="#c8284e"/>
<circle cx="513.65" cy="316.92" r="2.1" fill="#c8284e"/>
<circle cx="513.89" cy="316.85" r="2.1" fill="#c8284e"/>
<circle cx="514.14" cy="317.55" r="2.1" fill="#c8284e"/>
<circle cx="514.39" cy="317.2" r="2.1" fill="#c8284e"/>
<circle cx="514.63" cy="317.13" r="2.1" fill="#c8284e"/>
<circle cx="514.88" cy="316.84" r="2.1" fill="#c8284e"/>
<circle cx="515.12" cy="317" r="2.1" fill="#c8284e"/>
<circle cx="515.37" cy="317.65" r="2.1" fill="#c8284e"/>
<circle cx="515.62" cy="317.94" r="2.1" fill="#c8284e"/>
<circle cx="515.86" cy="316.97" r="2.1" fill="#c8284e"/>
<circle cx="516.11" cy="317.4" r="2.1" fill="#c8284e"/>
<circle cx="516.35" cy="318.52" r="2.1" fill="#c8284e"/>
<circle cx="516.6" cy="318.04" r="2.1" fill="#c8284e"/>
<circle cx="516.85" cy="318.34" r="2.1" fill="#c8284e"/>
<circle cx="517.09" cy="318.33" r="2.1" fill="#c8284e"/>
<circle cx="517.34" cy="318.83" r="2.1" fill="#c8284e"/>
<circle cx="517.58" cy="318.46" r="2.1" fill="#c8284e"/>
<circle cx="517.83" cy="318.59" r="2.1" fill="#c8284e"/>
<circle cx="518.08" cy="318.58" r="2.1" fill="#c8284e"/>
<circle cx="518.32" cy="318.21" r="2.1" fill="#c8284e"/>
<circle cx="518.57" cy="318.61" r="2.1" fill="#c8284e"/>
<circle cx="518.81" cy="319.23" r="2.1" fill="#c8284e"/>
<circle cx="519.06" cy="319.51" r="2.1" fill="#c8284e"/>
<circle cx="519.31" cy="319.17" r="2.1" fill="#c8284e"/>
<circle cx="519.55" cy="318.65" r="2.1" fill="#c8284e"/>
<circle cx="519.8" cy="318.83" r="2.1" fill="#c8284e"/>
<circle cx="520.04" cy="319.48" r="2.1" fill="#c8284e"/>
<circle cx="520.29" cy="318.94" r="2.1" fill="#c8284e"/>
<circle cx="520.54" cy="319.3" r="2.1" fill="#c8284e"/>
<circle cx="520.78" cy="319.77" r="2.1" fill="#c8284e"/>
<circle cx="521.03" cy="319.49" r="2.1" fill="#c8284e"/>
<circle cx="521.27" cy="319.77" r="2.1" fill="#c8284e"/>
<circle cx="521.52" cy="320.24" r="2.1" fill="#c8284e"/>
<circle cx="521.77" cy="320.09" r="2.1" fill="#c8284e"/>
<circle cx="522.01" cy="319.97" r="2.1" fill="#c8284e"/>
<circle cx="522.26" cy="319.65" r="2.1" fill="#c8284e"/>
<circle cx="522.5" cy="320.6" r="2.1" fill="#c8284e"/>
<circle cx="522.75" cy="320.23" r="2.1" fill="#c8284e"/>
<circle cx="523" cy="320.41" r="2.1" fill="#c8284e"/>
<circle cx="523.24" cy="320.53" r="2.1" fill="#c8284e"/>
<circle cx="523.49" cy="321.05" r="2.1" fill="#c8284e"/>
<circle cx="523.73" cy="320.24" r="2.1" fill="#c8284e"/>
<circle cx="523.98" cy="320.33" r="2.1" fill="#c8284e"/>
<circle cx="524.23" cy="320.31" r="2.1" fill="#c8284e"/>
<circle cx="524.47" cy="320.82" r="2.1" fill="#c8284e"/>
<circle cx="524.72" cy="320.55" r="2.1" fill="#c8284e"/>
<circle cx="524.96" cy="320.99" r="2.1" fill="#c8284e"/>
<circle cx="525.21" cy="320.91" r="2.1" fill="#c8284e"/>
<circle cx="525.46" cy="321.5" r="2.1" fill="#c8284e"/>
<circle cx="525.7" cy="321.39" r="2.1" fill="#c8284e"/>
<circle cx="525.95" cy="321.69" r="2.1" fill="#c8284e"/>
<circle cx="526.19" cy="322.05" r="2.1" fill="#c8284e"/>
<circle cx="526.44" cy="321.92" r="2.1" fill="#c8284e"/>
<circle cx="526.69" cy="322.27" r="2.1" fill="#c8284e"/>
<circle cx="526.93" cy="322.36" r="2.1" fill="#c8284e"/>
<circle cx="527.18" cy="322.19" r="2.1" fill="#c8284e"/>
<circle cx="527.42" cy="322.36" r="2.1" fill="#c8284e"/>
<circle cx="527.67" cy="321.48" r="2.1" fill="#c8284e"/>
<circle cx="527.92" cy="321.69" r="2.1" fill="#c8284e"/>
<circle cx="528.16" cy="322.01" r="2.1" fill="#c8284e"/>
<circle cx="528.41" cy="322.18" r="2.1" fill="#c8284e"/>
<circle cx="528.65" cy="322.84" r="2.1" fill="#c8284e"/>
<circle cx="528.9" cy="322.49" r="2.1" fill="#c8284e"/>
<circle cx="529.15" cy="323.19" r="2.1" fill="#c8284e"/>
<circle cx="529.39" cy="322.95" r="2.1" fill="#c8284e"/>
<circle cx="529.64" cy="322.96" r="2.1" fill="#c8284e"/>
<circle cx="529.88" cy="322.99" r="2.1" fill="#c8284e"/>
<circle cx="530.13" cy="322.6" r="2.1" fill="#c8284e"/>
<circle cx="530.38" cy="323.27" r="2.1" fill="#c8284e"/>
<circle cx="530.62" cy="322.16" r="2.1" fill="#c8284e"/>
<circle cx="530.87" cy="323.3" r="2.1" fill="#c8284e"/>
<circle cx="531.11" cy="322.86" r="2.1" fill="#c8284e"/>
<circle cx="531.36" cy="323.82" r="2.1" fill="#c8284e"/>
<circle cx="531.61" cy="322.97" r="2.1" fill="#c8284e"/>
<circle cx="531.85" cy="323.82" r="2.1" fill="#c8284e"/>
<circle cx="532.1" cy="323.36" r="2.1" fill="#c8284e"/>
<circle cx="532.34" cy="323.5" r="2.1" fill="#c8284e"/>
<circle cx="532.59" cy="323.26" r="2.1" fill="#c8284e"/>
<circle cx="532.84" cy="323.41" r="2.1" fill="#c8284e"/>
<circle cx="533.08" cy="323.55" r="2.1" fill="#c8284e"/>
<circle cx="533.33" cy="323.81" r="2.1" fill="#c8284e"/>
<circle cx="533.57" cy="323.11" r="2.1" fill="#c8284e"/>
<circle cx="533.82" cy="324.06" r="2.1" fill="#c8284e"/>
<circle cx="534.07" cy="323.95" r="2.1" fill="#c8284e"/>
<circle cx="534.31" cy="324.19" r="2.1" fill="#c8284e"/>
<circle cx="534.56" cy="324.03" r="2.1" fill="#c8284e"/>
<circle cx="534.8" cy="324.5" r="2.1" fill="#c8284e"/>
<circle cx="535.05" cy="324.36" r="2.1" fill="#c8284e"/>
<circle cx="535.3" cy="324.09" r="2.1" fill="#c8284e"/>
<circle cx="535.54" cy="324.55" r="2.1" fill="#c8284e"/>
<circle cx="535.79" cy="324.24" r="2.1" fill="#c8284e"/>
<circle cx="536.03" cy="324.68" r="2.1" fill="#c8284e"/>
<circle cx="536.28" cy="324.01" r="2.1" fill="#c8284e"/>
<circle cx="536.53" cy="324.65" r="2.1" fill="#c8284e"/>
<circle cx="536.77" cy="324.02" r="2.1" fill="#c8284e"/>
<circle cx="537.02" cy="324.55" r="2.1" fill="#c8284e"/>
<circle cx="537.26" cy="324.84" r="2.1" fill="#c8284e"/>
<circle cx="537.51" cy="324.51" r="2.1" fill="#c8284e"/>
<circle cx="537.76" cy="324.5" r="2.1" fill="#c8284e"/>
<circle cx="538" cy="324.43" r="2.1" fill="#c8284e"/>
<circle cx="538.25" cy="324.54" r="2.1" fill="#c8284e"/>
<circle cx="538.49" cy="324.79" r="2.1" fill="#c8284e"/>
<circle cx="538.74" cy="325.61" r="2.1" fill="#c8284e"/>
<circle cx="538.99" cy="324.91" r="2.1" fill="#c8284e"/>
<circle cx="539.23" cy="325.34" r="2.1" fill="#c8284e"/>
<circle cx="539.48" cy="325.23" r="2.1" fill="#c8284e"/>
<circle cx="539.72" cy="324.98" r="2.1" fill="#c8284e"/>
<circle cx="539.97" cy="325.77" r="2.1" fill="#c8284e"/>
<circle cx="540.22" cy="325.08" r="2.1" fill="#c8284e"/>
<circle cx="540.46" cy="324.76" r="2.1" fill="#c8284e"/>
<circle cx="540.71" cy="325.5" r="2.1" fill="#c8284e"/>
<circle cx="540.95" cy="325.88" r="2.1" fill="#c8284e"/>
<circle cx="541.2" cy="325.33" r="2.1" fill="#c8284e"/>
<circle cx="541.45" cy="325.81" r="2.1" fill="#c8284e"/>
<circle cx="541.69" cy="325.54" r="2.1" fill="#c8284e"/>
<circle cx="541.94" cy="325.52" r="2.1" fill="#c8284e"/>
<circle cx="542.18" cy="326.58" r="2.1" fill="#c8284e"/>
<circle cx="542.43" cy="325.96" r="2.1" fill="#c8284e"/>
<circle cx="542.68" cy="326.68" r="2.1" fill="#c8284e"/>
<circle cx="542.92" cy="326.43" r="2.1" fill="#c8284e"/>
<circle cx="543.17" cy="326" r="2.1" fill="#c8284e"/>
<circle cx="543.41" cy="326.71" r="2.1" fill="#c8284e"/>
<circle cx="543.66" cy="326.58" r="2.1" fill="#c8284e"/>
<circle cx="543.91" cy="326.53" r="2.1" fill="#c8284e"/>
<circle cx="544.15" cy="326.3" r="2.1" fill="#c8284e"/>
<circle cx="544.4" cy="326.34" r="2.1" fill="#c8284e"/>
<circle cx="544.64" cy="326.35" r="2.1" fill="#c8284e"/>
<circle cx="544.89" cy="326.75" r="2.1" fill="#c8284e"/>
<circle cx="545.14" cy="326.89" r="2.1" fill="#c8284e"/>
<circle cx="545.38" cy="326.51" r="2.1" fill="#c8284e"/>
<circle cx="545.63" cy="327.03" r="2.1" fill="#c8284e"/>
<circle cx="545.87" cy="327.05" r="2.1" fill="#c8284e"/>
<circle cx="546.12" cy="326.55" r="2.1" fill="#c8284e"/>
<circle cx="546.37" cy="327.15" r="2.1" fill="#c8284e"/>
<circle cx="546.61" cy="327.23" r="2.1" fill="#c8284e"/>
<circle cx="546.86" cy="326.54" r="2.1" fill="#c8284e"/>
<circle cx="547.1" cy="327.02" r="2.1" fill="#c8284e"/>
<circle cx="547.35" cy="327.87" r="2.1" fill="#c8284e"/>
<circle cx="547.6" cy="327.37" r="2.1" fill="#c8284e"/>
<circle cx="547.84" cy="326.43" r="2.1" fill="#c8284e"/>
<circle cx="548.09" cy="326.16" r="2.1" fill="#c8284e"/>
<circle cx="548.33" cy="327.35" r="2.1" fill="#c8284e"/>
<circle cx="548.58" cy="327.04" r="2.1" fill="#c8284e"/>
<circle cx="548.83" cy="327.07" r="2.1" fill="#c8284e"/>
<circle cx="549.07" cy="327.28" r="2.1" fill="#c8284e"/>
<circle cx="549.32" cy="328.11" r="2.1" fill="#c8284e"/>
<circle cx="549.56" cy="327.12" r="2.1" fill="#c8284e"/>
<circle cx="549.81" cy="327.43" r="2.1" fill="#c8284e"/>
<circle cx="550.06" cy="327.67" r="2.1" fill="#c8284e"/>
<circle cx="550.3" cy="328.23" r="2.1" fill="#c8284e"/>
<circle cx="550.55" cy="327.91" r="2.1" fill="#c8284e"/>
<circle cx="550.79" cy="327.77" r="2.1" fill="#c8284e"/>
<circle cx="551.04" cy="327.87" r="2.1" fill="#c8284e"/>
<circle cx="551.29" cy="327.75" r="2.1" fill="#c8284e"/>
<circle cx="551.53" cy="328.02" r="2.1" fill="#c8284e"/>
<circle cx="551.78" cy="327.56" r="2.1" fill="#c8284e"/>
<circle cx="552.02" cy="327.75" r="2.1" fill="#c8284e"/>
<circle cx="552.27" cy="328.45" r="2.1" fill="#c8284e"/>
<circle cx="552.52" cy="328.29" r="2.1" fill="#c8284e"/>
<circle cx="552.76" cy="327.97" r="2.1" fill="#c8284e"/>
<circle cx="553.01" cy="328.37" r="2.1" fill="#c8284e"/>
<circle cx="553.25" cy="327.71" r="2.1" fill="#c8284e"/>
<circle cx="553.5" cy="328.46" r="2.1" fill="#c8284e"/>
<circle cx="553.75" cy="328.23" r="2.1" fill="#c8284e"/>
<circle cx="553.99" cy="328.14" r="2.1" fill="#c8284e"/>
<circle cx="554.24" cy="328.83" r="2.1" fill="#c8284e"/>
<circle cx="554.48" cy="328" r="2.1" fill="#c8284e"/>
<circle cx="554.73" cy="328.59" r="2.1" fill="#c8284e"/>
<circle cx="554.98" cy="328.82" r="2.1" fill="#c8284e"/>
<circle cx="555.22" cy="328.86" r="2.1" fill="#c8284e"/>
<circle cx="555.47" cy="329.28" r="2.1" fill="#c8284e"/>
<circle cx="555.71" cy="329.2" r="2.1" fill="#c8284e"/>
<circle cx="555.96" cy="328.21" r="2.1" fill="#c8284e"/>
<circle cx="556.21" cy="328.84" r="2.1" fill="#c8284e"/>
<circle cx="556.45" cy="328.93" r="2.1" fill="#c8284e"/>
<circle cx="556.7" cy="328.78" r="2.1" fill="#c8284e"/>
<circle cx="556.94" cy="328.68" r="2.1" fill="#c8284e"/>
<circle cx="557.19" cy="329.21" r="2.1" fill="#c8284e"/>
<circle cx="557.44" cy="329.03" r="2.1" fill="#c8284e"/>
<circle cx="557.68" cy="328.89" r="2.1" fill="#c8284e"/>
<circle cx="557.93" cy="328.66" r="2.1" fill="#c8284e"/>
<circle cx="558.17" cy="328.97" r="2.1" fill="#c8284e"/>
<circle cx="558.42" cy="328.49" r="2.1" fill="#c8284e"/>
<circle cx="558.67" cy="329.21" r="2.1" fill="#c8284e"/>
<circle cx="558.91" cy="329.29" r="2.1" fill="#c8284e"/>
<circle cx="559.16" cy="329.7" r="2.1" fill="#c8284e"/>
<circle cx="559.4" cy="329.25" r="2.1" fill="#c8284e"/>
<circle cx="559.65" cy="329.03" r="2.1" fill="#c8284e"/>
<circle cx="559.9" cy="329.39" r="2.1" fill="#c8284e"/>
<circle cx="560.14" cy="329.4" r="2.1" fill="#c8284e"/>
<circle cx="560.39" cy="329.72" r="2.1" fill="#c8284e"/>
<circle cx="560.63" cy="329.61" r="2.1" fill="#c8284e"/>
<circle cx="560.88" cy="329.6" r="2.1" fill="#c8284e"/>
<circle cx="561.13" cy="329.5" r="2.1" fill="#c8284e"/>
<circle cx="561.37" cy="329.11" r="2.1" fill="#c8284e"/>
<circle cx="561.62" cy="329.35" r="2.1" fill="#c8284e"/>
<circle cx="561.86" cy="329.24" r="2.1" fill="#c8284e"/>
<circle cx="562.11" cy="329.18" r="2.1" fill="#c8284e"/>
<circle cx="562.36" cy="329.81" r="2.1" fill="#c8284e"/>
<circle cx="562.6" cy="329.18" r="2.1" fill="#c8284e"/>
<circle cx="562.85" cy="329.69" r="2.1" fill="#c8284e"/>
<circle cx="563.09" cy="330.22" r="2.1" fill="#c8284e"/>
<circle cx="563.34" cy="330" r="2.1" fill="#c8284e"/>
<circle cx="563.59" cy="329.84" r="2.1" fill="#c8284e"/>
<circle cx="563.83" cy="330.4" r="2.1" fill="#c8284e"/>
<circle cx="564.08" cy="329.04" r="2.1" fill="#c8284e"/>
<circle cx="564.32" cy="329.93" r="2.1" fill="#c8284e"/>
<circle cx="564.57" cy="329.63" r="2.1" fill="#c8284e"/>
<circle cx="564.82" cy="330.42" r="2.1" fill="#c8284e"/>
<circle cx="565.06" cy="329.98" r="2.1" fill="#c8284e"/>
<circle cx="565.31" cy="329.95" r="2.1" fill="#c8284e"/>
<circle cx="565.55" cy="330.36" r="2.1" fill="#c8284e"/>
<circle cx="565.8" cy="330.02" r="2.1" fill="#c8284e"/>
<circle cx="566.05" cy="330.15" r="2.1" fill="#c8284e"/>
<circle cx="566.29" cy="330.05" r="2.1" fill="#c8284e"/>
<circle cx="566.54" cy="330.66" r="2.1" fill="#c8284e"/>
<circle cx="566.78" cy="330.06" r="2.1" fill="#c8284e"/>
<circle cx="567.03" cy="330.39" r="2.1" fill="#c8284e"/>
<circle cx="567.28" cy="330.63" r="2.1" fill="#c8284e"/>
<circle cx="567.52" cy="331.16" r="2.1" fill="#c8284e"/>
<circle cx="567.77" cy="330.46" r="2.1" fill="#c8284e"/>
<circle cx="568.01" cy="330.56" r="2.1" fill="#c8284e"/>
<circle cx="568.26" cy="329.59" r="2.1" fill="#c8284e"/>
<circle cx="568.51" cy="330.93" r="2.1" fill="#c8284e"/>
<circle cx="568.75" cy="329.98" r="2.1" fill="#c8284e"/>
<circle cx="569" cy="330.1" r="2.1" fill="#c8284e"/>
<circle cx="569.24" cy="330.44" r="2.1" fill="#c8284e"/>
<circle cx="569.49" cy="330.54" r="2.1" fill="#c8284e"/>
<circle cx="569.74" cy="330.48" r="2.1" fill="#c8284e"/>
<circle cx="569.98" cy="331.23" r="2.1" fill="#c8284e"/>
<circle cx="570.23" cy="330.21" r="2.1" fill="#c8284e"/>
<circle cx="570.47" cy="330.88" r="2.1" fill="#c8284e"/>
<circle cx="570.72" cy="331.07" r="2.1" fill="#c8284e"/>
<circle cx="570.97" cy="330.82" r="2.1" fill="#c8284e"/>
<circle cx="571.21" cy="331.84" r="2.1" fill="#c8284e"/>
<circle cx="571.46" cy="331.35" r="2.1" fill="#c8284e"/>
<circle cx="571.7" cy="331.32" r="2.1" fill="#c8284e"/>
<circle cx="571.95" cy="331.48" r="2.1" fill="#c8284e"/>
<circle cx="572.2" cy="330.72" r="2.1" fill="#c8284e"/>
<circle cx="572.44" cy="330.37" r="2.1" fill="#c8284e"/>
<circle cx="572.69" cy="330.97" r="2.1" fill="#c8284e"/>
<circle cx="572.93" cy="331.12" r="2.1" fill="#c8284e"/>
<circle cx="573.18" cy="330.9" r="2.1" fill="#c8284e"/>
<circle cx="573.43" cy="331.23" r="2.1" fill="#c8284e"/>
<circle cx="573.67" cy="331.02" r="2.1" fill="#c8284e"/>
<circle cx="573.92" cy="330.94" r="2.1" fill="#c8284e"/>
<circle cx="574.16" cy="331.19" r="2.1" fill="#c8284e"/>
<circle cx="574.41" cy="331.28" r="2.1" fill="#c8284e"/>
<circle cx="574.66" cy="331.13" r="2.1" fill="#c8284e"/>
<circle cx="574.9" cy="331.15" r="2.1" fill="#c8284e"/>
<circle cx="575.15" cy="330.95" r="2.1" fill="#c8284e"/>
<circle cx="575.39" cy="331.77" r="2.1" fill="#c8284e"/>
<circle cx="575.64" cy="331.65" r="2.1" fill="#c8284e"/>
<circle cx="575.89" cy="331.44" r="2.1" fill="#c8284e"/>
<circle cx="576.13" cy="331.11" r="2.1" fill="#c8284e"/>
<circle cx="576.38" cy="331.78" r="2.1" fill="#c8284e"/>
<circle cx="576.62" cy="330.89" r="2.1" fill="#c8284e"/>
<circle cx="576.87" cy="330.83" r="2.1" fill="#c8284e"/>
<circle cx="577.12" cy="331.65" r="2.1" fill="#c8284e"/>
<circle cx="577.36" cy="330.99" r="2.1" fill="#c8284e"/>
<circle cx="577.61" cy="332.18" r="2.1" fill="#c8284e"/>
<circle cx="577.85" cy="331.48" r="2.1" fill="#c8284e"/>
<circle cx="578.1" cy="332.05" r="2.1" fill="#c8284e"/>
<circle cx="578.35" cy="331.1" r="2.1" fill="#c8284e"/>
<circle cx="578.59" cy="331.2" r="2.1" fill="#c8284e"/>
<circle cx="578.84" cy="331.35" r="2.1" fill="#c8284e"/>
<circle cx="579.08" cy="331.77" r="2.1" fill="#c8284e"/>
<circle cx="579.33" cy="331.99" r="2.1" fill="#c8284e"/>
<circle cx="579.58" cy="331.45" r="2.1" fill="#c8284e"/>
<circle cx="579.82" cy="331.81" r="2.1" fill="#c8284e"/>
<circle cx="580.07" cy="331.4" r="2.1" fill="#c8284e"/>
<circle cx="580.31" cy="332.25" r="2.1" fill="#c8284e"/>
<circle cx="580.56" cy="331.54" r="2.1" fill="#c8284e"/>
<circle cx="580.81" cy="331.53" r="2.1" fill="#c8284e"/>
<circle cx="581.05" cy="332.56" r="2.1" fill="#c8284e"/>
<circle cx="581.3" cy="332.22" r="2.1" fill="#c8284e"/>
<circle cx="581.54" cy="332.04" r="2.1" fill="#c8284e"/>
<circle cx="581.79" cy="332.02" r="2.1" fill="#c8284e"/>
<circle cx="582.04" cy="332.46" r="2.1" fill="#c8284e"/>
<circle cx="582.28" cy="331.84" r="2.1" fill="#c8284e"/>
<circle cx="582.53" cy="332.28" r="2.1" fill="#c8284e"/>
<circle cx="582.77" cy="331.92" r="2.1" fill="#c8284e"/>
<circle cx="583.02" cy="332.59" r="2.1" fill="#c8284e"/>
<circle cx="583.27" cy="332.37" r="2.1" fill="#c8284e"/>
<circle cx="583.51" cy="331.71" r="2.1" fill="#c8284e"/>
<circle cx="583.76" cy="332.61" r="2.1" fill="#c8284e"/>
<circle cx="584" cy="332.02" r="2.1" fill="#c8284e"/>
<circle cx="584.25" cy="331.5" r="2.1" fill="#c8284e"/>
<circle cx="584.5" cy="331.76" r="2.1" fill="#c8284e"/>
<circle cx="584.74" cy="332.56" r="2.1" fill="#c8284e"/>
<circle cx="584.99" cy="331.28" r="2.1" fill="#c8284e"/>
<circle cx="585.23" cy="332.32" r="2.1" fill="#c8284e"/>
<circle cx="585.48" cy="331.8" r="2.1" fill="#c8284e"/>
<circle cx="585.73" cy="331.81" r="2.1" fill="#c8284e"/>
<circle cx="585.97" cy="332.3" r="2.1" fill="#c8284e"/>
<circle cx="586.22" cy="331.98" r="2.1" fill="#c8284e"/>
<circle cx="586.46" cy="333.23" r="2.1" fill="#c8284e"/>
<circle cx="586.71" cy="332.22" r="2.1" fill="#c8284e"/>
<circle cx="586.96" cy="332.21" r="2.1" fill="#c8284e"/>
<circle cx="587.2" cy="332.42" r="2.1" fill="#c8284e"/>
<circle cx="587.45" cy="332.27" r="2.1" fill="#c8284e"/>
<circle cx="587.69" cy="331.95" r="2.1" fill="#c8284e"/>
<circle cx="587.94" cy="332.02" r="2.1" fill="#c8284e"/>
<circle cx="588.19" cy="332.61" r="2.1" fill="#c8284e"/>
<circle cx="588.43" cy="332.12" r="2.1" fill="#c8284e"/>
<circle cx="588.68" cy="332" r="2.1" fill="#c8284e"/>
<circle cx="588.92" cy="332.41" r="2.1" fill="#c8284e"/>
<circle cx="589.17" cy="332.33" r="2.1" fill="#c8284e"/>
<circle cx="589.42" cy="333.39" r="2.1" fill="#c8284e"/>
<circle cx="589.66" cy="333.09" r="2.1" fill="#c8284e"/>
<circle cx="589.91" cy="332.4" r="2.1" fill="#c8284e"/>
<circle cx="590.15" cy="333.11" r="2.1" fill="#c8284e"/>
<circle cx="590.4" cy="332.27" r="2.1" fill="#c8284e"/>
<circle cx="590.65" cy="332.18" r="2.1" fill="#c8284e"/>
<circle cx="590.89" cy="332.99" r="2.1" fill="#c8284e"/>
<circle cx="591.14" cy="333.07" r="2.1" fill="#c8284e"/>
<circle cx="591.38" cy="332.74" r="2.1" fill="#c8284e"/>
<circle cx="591.63" cy="332.61" r="2.1" fill="#c8284e"/>
<circle cx="591.88" cy="332.42" r="2.1" fill="#c8284e"/>
<circle cx="592.12" cy="332.82" r="2.1" fill="#c8284e"/>
<circle cx="592.37" cy="332.75" r="2.1" fill="#c8284e"/>
<circle cx="592.61" cy="333.15" r="2.1" fill="#c8284e"/>
<circle cx="592.86" cy="332.7" r="2.1" fill="#c8284e"/>
<circle cx="593.11" cy="333.11" r="2.1" fill="#c8284e"/>
<circle cx="593.35" cy="332.49" r="2.1" fill="#c8284e"/>
<circle cx="593.6" cy="332.62" r="2.1" fill="#c8284e"/>
<circle cx="593.84" cy="333.49" r="2.1" fill="#c8284e"/>
<circle cx="594.09" cy="332.79" r="2.1" fill="#c8284e"/>
<circle cx="594.34" cy="333.34" r="2.1" fill="#c8284e"/>
<circle cx="594.58" cy="332.61" r="2.1" fill="#c8284e"/>
<circle cx="594.83" cy="333.36" r="2.1" fill="#c8284e"/>
<circle cx="595.07" cy="332.55" r="2.1" fill="#c8284e"/>
<circle cx="595.32" cy="332.64" r="2.1" fill="#c8284e"/>
<circle cx="595.57" cy="332.34" r="2.1" fill="#c8284e"/>
<circle cx="595.81" cy="332.95" r="2.1" fill="#c8284e"/>
<circle cx="596.06" cy="333.08" r="2.1" fill="#c8284e"/>
<circle cx="596.3" cy="332.67" r="2.1" fill="#c8284e"/>
<circle cx="596.55" cy="333.58" r="2.1" fill="#c8284e"/>
<circle cx="596.8" cy="333.18" r="2.1" fill="#c8284e"/>
<circle cx="597.04" cy="333.3" r="2.1" fill="#c8284e"/>
<circle cx="597.29" cy="333.23" r="2.1" fill="#c8284e"/>
<circle cx="597.53" cy="333.8" r="2.1" fill="#c8284e"/>
<circle cx="597.78" cy="333.86" r="2.1" fill="#c8284e"/>
<circle cx="598.03" cy="333.89" r="2.1" fill="#c8284e"/>
<circle cx="598.27" cy="332.76" r="2.1" fill="#c8284e"/>
<circle cx="598.52" cy="333.44" r="2.1" fill="#c8284e"/>
<circle cx="598.76" cy="333.11" r="2.1" fill="#c8284e"/>
<circle cx="599.01" cy="333.41" r="2.1" fill="#c8284e"/>
<circle cx="599.26" cy="333.47" r="2.1" fill="#c8284e"/>
<circle cx="599.5" cy="332.93" r="2.1" fill="#c8284e"/>
<circle cx="599.75" cy="334.27" r="2.1" fill="#c8284e"/>
<circle cx="599.99" cy="333.53" r="2.1" fill="#c8284e"/>
<circle cx="600.24" cy="333.76" r="2.1" fill="#c8284e"/>
<circle cx="600.49" cy="333.83" r="2.1" fill="#c8284e"/>
<circle cx="600.73" cy="334.11" r="2.1" fill="#c8284e"/>
<circle cx="600.98" cy="334.11" r="2.1" fill="#c8284e"/>
<circle cx="601.22" cy="334.01" r="2.1" fill="#c8284e"/>
<circle cx="601.47" cy="333.2" r="2.1" fill="#c8284e"/>
<circle cx="601.72" cy="333.87" r="2.1" fill="#c8284e"/>
<circle cx="601.96" cy="333.82" r="2.1" fill="#c8284e"/>
<circle cx="602.21" cy="333.73" r="2.1" fill="#c8284e"/>
<circle cx="602.45" cy="333.47" r="2.1" fill="#c8284e"/>
<circle cx="602.7" cy="333.34" r="2.1" fill="#c8284e"/>
<circle cx="602.95" cy="333.67" r="2.1" fill="#c8284e"/>
<circle cx="603.19" cy="333.77" r="2.1" fill="#c8284e"/>
<circle cx="603.44" cy="333.6" r="2.1" fill="#c8284e"/>
<circle cx="603.68" cy="334.11" r="2.1" fill="#c8284e"/>
<circle cx="603.93" cy="333.76" r="2.1" fill="#c8284e"/>
<circle cx="604.18" cy="333.25" r="2.1" fill="#c8284e"/>
<circle cx="604.42" cy="334.13" r="2.1" fill="#c8284e"/>
<circle cx="604.67" cy="334.23" r="2.1" fill="#c8284e"/>
<circle cx="604.91" cy="334.5" r="2.1" fill="#c8284e"/>
<circle cx="605.16" cy="333.95" r="2.1" fill="#c8284e"/>
<circle cx="605.41" cy="333.76" r="2.1" fill="#c8284e"/>
<circle cx="605.65" cy="334.17" r="2.1" fill="#c8284e"/>
<circle cx="605.9" cy="334.16" r="2.1" fill="#c8284e"/>
<circle cx="606.14" cy="333.63" r="2.1" fill="#c8284e"/>
<circle cx="606.39" cy="334.08" r="2.1" fill="#c8284e"/>
<circle cx="606.64" cy="333.86" r="2.1" fill="#c8284e"/>
<circle cx="606.88" cy="334.27" r="2.1" fill="#c8284e"/>
<circle cx="607.13" cy="333.69" r="2.1" fill="#c8284e"/>
<circle cx="607.37" cy="333.85" r="2.1" fill="#c8284e"/>
<circle cx="607.62" cy="334.26" r="2.1" fill="#c8284e"/>
<circle cx="607.87" cy="334.45" r="2.1" fill="#c8284e"/>
<circle cx="608.11" cy="333.33" r="2.1" fill="#c8284e"/>
<circle cx="608.36" cy="334.67" r="2.1" fill="#c8284e"/>
<circle cx="608.6" cy="334.66" r="2.1" fill="#c8284e"/>
<circle cx="608.85" cy="335.23" r="2.1" fill="#c8284e"/>
<circle cx="609.1" cy="334.1" r="2.1" fill="#c8284e"/>
<circle cx="609.34" cy="334.36" r="2.1" fill="#c8284e"/>
<circle cx="609.59" cy="334.43" r="2.1" fill="#c8284e"/>
<circle cx="609.83" cy="334.98" r="2.1" fill="#c8284e"/>
<circle cx="610.08" cy="334.45" r="2.1" fill="#c8284e"/>
<circle cx="610.33" cy="334.76" r="2.1" fill="#c8284e"/>
<circle cx="610.57" cy="334.92" r="2.1" fill="#c8284e"/>
<circle cx="610.82" cy="334.61" r="2.1" fill="#c8284e"/>
<circle cx="611.06" cy="334.44" r="2.1" fill="#c8284e"/>
<circle cx="611.31" cy="334.63" r="2.1" fill="#c8284e"/>
<circle cx="611.56" cy="334.78" r="2.1" fill="#c8284e"/>
<circle cx="611.8" cy="334.36" r="2.1" fill="#c8284e"/>
<circle cx="612.05" cy="334.56" r="2.1" fill="#c8284e"/>
<circle cx="612.29" cy="334.8" r="2.1" fill="#c8284e"/>
<circle cx="612.54" cy="334.49" r="2.1" fill="#c8284e"/>
<circle cx="612.79" cy="334.61" r="2.1" fill="#c8284e"/>
<circle cx="613.03" cy="334.41" r="2.1" fill="#c8284e"/>
<circle cx="613.28" cy="334.47" r="2.1" fill="#c8284e"/>
<circle cx="613.52" cy="334.52" r="2.1" fill="#c8284e"/>
<circle cx="613.77" cy="335.03" r="2.1" fill="#c8284e"/>
<circle cx="614.02" cy="334.36" r="2.1" fill="#c8284e"/>
<circle cx="614.26" cy="334.5" r="2.1" fill="#c8284e"/>
<circle cx="614.51" cy="335.08" r="2.1" fill="#c8284e"/>
<circle cx="614.75" cy="334.46" r="2.1" fill="#c8284e"/>
<circle cx="615" cy="334.9" r="2.1" fill="#c8284e"/>
<circle cx="615.25" cy="335.33" r="2.1" fill="#c8284e"/>
<circle cx="615.49" cy="335" r="2.1" fill="#c8284e"/>
<circle cx="615.74" cy="335.48" r="2.1" fill="#c8284e"/>
<circle cx="615.98" cy="334.63" r="2.1" fill="#c8284e"/>
<circle cx="616.23" cy="335.52" r="2.1" fill="#c8284e"/>
<circle cx="616.48" cy="334.55" r="2.1" fill="#c8284e"/>
<circle cx="616.72" cy="335.42" r="2.1" fill="#c8284e"/>
<circle cx="616.97" cy="335.18" r="2.1" fill="#c8284e"/>
<circle cx="617.21" cy="334.7" r="2.1" fill="#c8284e"/>
<circle cx="617.46" cy="335.05" r="2.1" fill="#c8284e"/>
<circle cx="617.71" cy="335.8" r="2.1" fill="#c8284e"/>
<circle cx="617.95" cy="335.28" r="2.1" fill="#c8284e"/>
<circle cx="618.2" cy="335.91" r="2.1" fill="#c8284e"/>
<circle cx="618.44" cy="335.04" r="2.1" fill="#c8284e"/>
<circle cx="618.69" cy="335.67" r="2.1" fill="#c8284e"/>
<circle cx="618.94" cy="335.36" r="2.1" fill="#c8284e"/>
<circle cx="619.18" cy="335.4" r="2.1" fill="#c8284e"/>
<circle cx="619.43" cy="335.92" r="2.1" fill="#c8284e"/>
<circle cx="619.67" cy="335.28" r="2.1" fill="#c8284e"/>
<circle cx="619.92" cy="334.78" r="2.1" fill="#c8284e"/>
<circle cx="620.17" cy="335.78" r="2.1" fill="#c8284e"/>
<circle cx="620.41" cy="335.68" r="2.1" fill="#c8284e"/>
<circle cx="620.66" cy="335.36" r="2.1" fill="#c8284e"/>
<circle cx="620.9" cy="335.09" r="2.1" fill="#c8284e"/>
<circle cx="621.15" cy="335.86" r="2.1" fill="#c8284e"/>
<circle cx="621.4" cy="335.5" r="2.1" fill="#c8284e"/>
<circle cx="621.64" cy="335.47" r="2.1" fill="#c8284e"/>
<circle cx="621.89" cy="335.24" r="2.1" fill="#c8284e"/>
<circle cx="622.13" cy="335.94" r="2.1" fill="#c8284e"/>
<circle cx="622.38" cy="334.78" r="2.1" fill="#c8284e"/>
<circle cx="622.63" cy="334.96" r="2.1" fill="#c8284e"/>
<circle cx="622.87" cy="336.21" r="2.1" fill="#c8284e"/>
<circle cx="623.12" cy="336.03" r="2.1" fill="#c8284e"/>
<circle cx="623.36" cy="335.64" r="2.1" fill="#c8284e"/>
<circle cx="623.61" cy="336.02" r="2.1" fill="#c8284e"/>
<circle cx="623.86" cy="336" r="2.1" fill="#c8284e"/>
<circle cx="624.1" cy="335.84" r="2.1" fill="#c8284e"/>
<circle cx="624.35" cy="336.13" r="2.1" fill="#c8284e"/>
<circle cx="624.59" cy="336.11" r="2.1" fill="#c8284e"/>
<circle cx="624.84" cy="335.83" r="2.1" fill="#c8284e"/>
<circle cx="625.09" cy="336.08" r="2.1" fill="#c8284e"/>
<circle cx="625.33" cy="335.83" r="2.1" fill="#c8284e"/>
<circle cx="625.58" cy="335.6" r="2.1" fill="#c8284e"/>
<circle cx="625.82" cy="335.6" r="2.1" fill="#c8284e"/>
<circle cx="626.07" cy="335.99" r="2.1" fill="#c8284e"/>
<circle cx="626.32" cy="335.31" r="2.1" fill="#c8284e"/>
<circle cx="626.56" cy="336.21" r="2.1" fill="#c8284e"/>
<circle cx="626.81" cy="335.77" r="2.1" fill="#c8284e"/>
<circle cx="627.05" cy="335.47" r="2.1" fill="#c8284e"/>
<circle cx="627.3" cy="336.07" r="2.1" fill="#c8284e"/>
<circle cx="627.55" cy="335.87" r="2.1" fill="#c8284e"/>
<circle cx="627.79" cy="336.36" r="2.1" fill="#c8284e"/>
<circle cx="628.04" cy="336.41" r="2.1" fill="#c8284e"/>
<circle cx="628.28" cy="336.16" r="2.1" fill="#c8284e"/>
<circle cx="628.53" cy="336.08" r="2.1" fill="#c8284e"/>
<circle cx="628.78" cy="336.15" r="2.1" fill="#c8284e"/>
<circle cx="629.02" cy="336.06" r="2.1" fill="#c8284e"/>
<circle cx="629.27" cy="336.21" r="2.1" fill="#c8284e"/>
<circle cx="629.51" cy="336.38" r="2.1" fill="#c8284e"/>
<circle cx="629.76" cy="336.59" r="2.1" fill="#c8284e"/>
<circle cx="630.01" cy="336.43" r="2.1" fill="#c8284e"/>
<circle cx="630.25" cy="336.4" r="2.1" fill="#c8284e"/>
<circle cx="630.5" cy="336.45" r="2.1" fill="#c8284e"/>
<circle cx="630.74" cy="336.85" r="2.1" fill="#c8284e"/>
<circle cx="630.99" cy="336.03" r="2.1" fill="#c8284e"/>
<circle cx="631.24" cy="336.12" r="2.1" fill="#c8284e"/>
<circle cx="631.48" cy="336.45" r="2.1" fill="#c8284e"/>
<circle cx="631.73" cy="336.73" r="2.1" fill="#c8284e"/>
<circle cx="631.97" cy="336.19" r="2.1" fill="#c8284e"/>
<circle cx="632.22" cy="336.68" r="2.1" fill="#c8284e"/>
<circle cx="632.47" cy="336.71" r="2.1" fill="#c8284e"/>
<circle cx="632.71" cy="336.44" r="2.1" fill="#c8284e"/>
<circle cx="632.96" cy="336.87" r="2.1" fill="#c8284e"/>
<circle cx="633.2" cy="336.65" r="2.1" fill="#c8284e"/>
<circle cx="633.45" cy="336.89" r="2.1" fill="#c8284e"/>
<circle cx="633.7" cy="336.52" r="2.1" fill="#c8284e"/>
<circle cx="633.94" cy="336.61" r="2.1" fill="#c8284e"/>
<circle cx="634.19" cy="336.53" r="2.1" fill="#c8284e"/>
<circle cx="634.43" cy="336.65" r="2.1" fill="#c8284e"/>
<circle cx="634.68" cy="336.72" r="2.1" fill="#c8284e"/>
<circle cx="634.93" cy="336.72" r="2.1" fill="#c8284e"/>
<circle cx="635.17" cy="336.59" r="2.1" fill="#c8284e"/>
<circle cx="635.42" cy="337.24" r="2.1" fill="#c8284e"/>
<circle cx="635.66" cy="337.34" r="2.1" fill="#c8284e"/>
<circle cx="635.91" cy="336.92" r="2.1" fill="#c8284e"/>
<circle cx="636.16" cy="336.91" r="2.1" fill="#c8284e"/>
<circle cx="636.4" cy="337.08" r="2.1" fill="#c8284e"/>
<circle cx="636.65" cy="336.48" r="2.1" fill="#c8284e"/>
<circle cx="636.89" cy="336.87" r="2.1" fill="#c8284e"/>
<circle cx="637.14" cy="336.62" r="2.1" fill="#c8284e"/>
<circle cx="637.39" cy="337.05" r="2.1" fill="#c8284e"/>
<circle cx="637.63" cy="337.6" r="2.1" fill="#c8284e"/>
<circle cx="637.88" cy="337.62" r="2.1" fill="#c8284e"/>
<circle cx="638.12" cy="336.77" r="2.1" fill="#c8284e"/>
<circle cx="638.37" cy="337.16" r="2.1" fill="#c8284e"/>
<circle cx="638.62" cy="337.37" r="2.1" fill="#c8284e"/>
<circle cx="638.86" cy="336.77" r="2.1" fill="#c8284e"/>
<circle cx="639.11" cy="336.64" r="2.1" fill="#c8284e"/>
<circle cx="639.35" cy="337.13" r="2.1" fill="#c8284e"/>
<circle cx="639.6" cy="336.84" r="2.1" fill="#c8284e"/>
<circle cx="639.85" cy="337.43" r="2.1" fill="#c8284e"/>
<circle cx="640.09" cy="337.68" r="2.1" fill="#c8284e"/>
<circle cx="640.34" cy="337.95" r="2.1" fill="#c8284e"/>
<circle cx="640.58" cy="337" r="2.1" fill="#c8284e"/>
<circle cx="640.83" cy="337.96" r="2.1" fill="#c8284e"/>
<circle cx="641.08" cy="337.58" r="2.1" fill="#c8284e"/>
<circle cx="641.32" cy="337.43" r="2.1" fill="#c8284e"/>
<circle cx="641.57" cy="337.28" r="2.1" fill="#c8284e"/>
<circle cx="641.81" cy="338.17" r="2.1" fill="#c8284e"/>
<circle cx="642.06" cy="337.61" r="2.1" fill="#c8284e"/>
<circle cx="642.31" cy="337.84" r="2.1" fill="#c8284e"/>
<circle cx="642.55" cy="337.06" r="2.1" fill="#c8284e"/>
<circle cx="642.8" cy="337.67" r="2.1" fill="#c8284e"/>
<circle cx="643.04" cy="337.85" r="2.1" fill="#c8284e"/>
<circle cx="643.29" cy="337.04" r="2.1" fill="#c8284e"/>
<circle cx="643.54" cy="337.61" r="2.1" fill="#c8284e"/>
<circle cx="643.78" cy="337.41" r="2.1" fill="#c8284e"/>
<circle cx="644.03" cy="337.6" r="2.1" fill="#c8284e"/>
<circle cx="644.27" cy="337.8" r="2.1" fill="#c8284e"/>
<circle cx="644.52" cy="337.5" r="2.1" fill="#c8284e"/>
<circle cx="644.77" cy="338.04" r="2.1" fill="#c8284e"/>
<circle cx="645.01" cy="338.3" r="2.1" fill="#c8284e"/>
<circle cx="645.26" cy="338.06" r="2.1" fill="#c8284e"/>
<circle cx="645.5" cy="337.63" r="2.1" fill="#c8284e"/>
<circle cx="645.75" cy="338.01" r="2.1" fill="#c8284e"/>
<circle cx="646" cy="337.53" r="2.1" fill="#c8284e"/>
<circle cx="646.24" cy="337.67" r="2.1" fill="#c8284e"/>
<circle cx="646.49" cy="337.87" r="2.1" fill="#c8284e"/>
<circle cx="646.73" cy="337.58" r="2.1" fill="#c8284e"/>
<circle cx="646.98" cy="337.86" r="2.1" fill="#c8284e"/>
<circle cx="647.23" cy="337.91" r="2.1" fill="#c8284e"/>
<circle cx="647.47" cy="338.14" r="2.1" fill="#c8284e"/>
<circle cx="647.72" cy="338.1" r="2.1" fill="#c8284e"/>
<circle cx="647.96" cy="338.11" r="2.1" fill="#c8284e"/>
<circle cx="648.21" cy="337.74" r="2.1" fill="#c8284e"/>
<circle cx="648.46" cy="337.58" r="2.1" fill="#c8284e"/>
<circle cx="648.7" cy="337.78" r="2.1" fill="#c8284e"/>
<circle cx="648.95" cy="338.09" r="2.1" fill="#c8284e"/>
<circle cx="649.19" cy="338.25" r="2.1" fill="#c8284e"/>
<circle cx="649.44" cy="338.14" r="2.1" fill="#c8284e"/>
<circle cx="649.69" cy="338.45" r="2.1" fill="#c8284e"/>
<circle cx="649.93" cy="338.28" r="2.1" fill="#c8284e"/>
<circle cx="650.18" cy="338.42" r="2.1" fill="#c8284e"/>
<circle cx="650.42" cy="338.33" r="2.1" fill="#c8284e"/>
<circle cx="650.67" cy="339.18" r="2.1" fill="#c8284e"/>
<circle cx="492" cy="353" r="1.9" fill="none" stroke="#e35f7a" stroke-width="0.55"/>
<circle cx="492.25" cy="339.89" r="1.9" fill="none" stroke="#e35f7a" stroke-width="0.55"/>
<circle cx="492.74" cy="328.96" r="1.9" fill="none" stroke="#e35f7a" stroke-width="0.55"/>
<circle cx="493.23" cy="324.4" r="2.05" fill="none" stroke="#e35f7a" stroke-width="0.55"/>
<circle cx="493.97" cy="318.63" r="2.05" fill="none" stroke="#e35f7a" stroke-width="0.55"/>
<circle cx="494.71" cy="314.05" r="2.05" fill="none" stroke="#e35f7a" stroke-width="0.55"/>
<circle cx="495.44" cy="314.42" r="2.05" fill="none" stroke="#e35f7a" stroke-width="0.55"/>
<circle cx="496.18" cy="311.5" r="2.05" fill="none" stroke="#e35f7a" stroke-width="0.55"/>
<circle cx="496.92" cy="313.57" r="2.05" fill="none" stroke="#e35f7a" stroke-width="0.55"/>
<circle cx="497.66" cy="308.4" r="2.05" fill="none" stroke="#e35f7a" stroke-width="0.55"/>
<circle cx="498.4" cy="307.14" r="2.05" fill="none" stroke="#e35f7a" stroke-width="0.55"/>
<circle cx="499.13" cy="302.4" r="2.05" fill="none" stroke="#e35f7a" stroke-width="0.55"/>
<circle cx="499.87" cy="302.91" r="2.05" fill="none" stroke="#e35f7a" stroke-width="0.55"/>
<circle cx="500.61" cy="301.93" r="2.05" fill="none" stroke="#e35f7a" stroke-width="0.55"/>
<circle cx="501.35" cy="302.3" r="2.05" fill="none" stroke="#e35f7a" stroke-width="0.55"/>
<circle cx="502.09" cy="301.15" r="2.05" fill="none" stroke="#e35f7a" stroke-width="0.55"/>
<circle cx="502.82" cy="297.65" r="2.05" fill="none" stroke="#e35f7a" stroke-width="0.55"/>
<circle cx="503.56" cy="292.91" r="2.05" fill="none" stroke="#e35f7a" stroke-width="0.55"/>
<circle cx="504.3" cy="299.55" r="2.05" fill="none" stroke="#e35f7a" stroke-width="0.55"/>
<circle cx="505.04" cy="300.41" r="2.05" fill="none" stroke="#e35f7a" stroke-width="0.55"/>
<circle cx="505.78" cy="287.22" r="2.05" fill="none" stroke="#e35f7a" stroke-width="0.55"/>
<circle cx="506.51" cy="287.18" r="2.05" fill="none" stroke="#e35f7a" stroke-width="0.55"/>
<circle cx="507.25" cy="288.59" r="2.05" fill="none" stroke="#e35f7a" stroke-width="0.55"/>
<circle cx="507.99" cy="288.31" r="2.05" fill="none" stroke="#e35f7a" stroke-width="0.55"/>
<circle cx="508.73" cy="289.27" r="2.05" fill="none" stroke="#e35f7a" stroke-width="0.55"/>
<circle cx="509.47" cy="288.16" r="2.05" fill="none" stroke="#e35f7a" stroke-width="0.55"/>
<circle cx="510.2" cy="289.29" r="2.05" fill="none" stroke="#e35f7a" stroke-width="0.55"/>
<circle cx="510.94" cy="283.76" r="2.05" fill="none" stroke="#e35f7a" stroke-width="0.55"/>
<circle cx="511.68" cy="284.82" r="2.05" fill="none" stroke="#e35f7a" stroke-width="0.55"/>
<circle cx="512.42" cy="288.2" r="2.05" fill="none" stroke="#e35f7a" stroke-width="0.55"/>
<circle cx="513.16" cy="283.56" r="2.05" fill="none" stroke="#e35f7a" stroke-width="0.55"/>
<circle cx="513.89" cy="282.56" r="2.05" fill="none" stroke="#e35f7a" stroke-width="0.55"/>
<circle cx="514.63" cy="281.72" r="2.05" fill="none" stroke="#e35f7a" stroke-width="0.55"/>
<circle cx="515.37" cy="274.08" r="2.05" fill="none" stroke="#e35f7a" stroke-width="0.55"/>
<circle cx="516.11" cy="275.15" r="2.05" fill="none" stroke="#e35f7a" stroke-width="0.55"/>
<circle cx="516.85" cy="284.8" r="2.05" fill="none" stroke="#e35f7a" stroke-width="0.55"/>
<circle cx="517.58" cy="274.46" r="2.05" fill="none" stroke="#e35f7a" stroke-width="0.55"/>
<circle cx="518.32" cy="271.9" r="2.05" fill="none" stroke="#e35f7a" stroke-width="0.55"/>
<circle cx="519.06" cy="270.16" r="2.05" fill="none" stroke="#e35f7a" stroke-width="0.55"/>
<circle cx="519.8" cy="270.39" r="2.05" fill="none" stroke="#e35f7a" stroke-width="0.55"/>
<circle cx="520.54" cy="276.67" r="2.05" fill="none" stroke="#e35f7a" stroke-width="0.55"/>
<circle cx="521.27" cy="268.72" r="2.05" fill="none" stroke="#e35f7a" stroke-width="0.55"/>
<circle cx="522.01" cy="270.11" r="2.05" fill="none" stroke="#e35f7a" stroke-width="0.55"/>
<circle cx="522.75" cy="265.91" r="2.05" fill="none" stroke="#e35f7a" stroke-width="0.55"/>
<circle cx="523.49" cy="267.78" r="2.05" fill="none" stroke="#e35f7a" stroke-width="0.55"/>
<circle cx="524.23" cy="272.13" r="2.05" fill="none" stroke="#e35f7a" stroke-width="0.55"/>
<circle cx="524.96" cy="262.93" r="2.05" fill="none" stroke="#e35f7a" stroke-width="0.55"/>
<circle cx="525.7" cy="270.03" r="2.05" fill="none" stroke="#e35f7a" stroke-width="0.55"/>
<circle cx="526.44" cy="263.5" r="2.05" fill="none" stroke="#e35f7a" stroke-width="0.55"/>
<circle cx="527.18" cy="264.59" r="2.05" fill="none" stroke="#e35f7a" stroke-width="0.55"/>
<circle cx="527.92" cy="266.66" r="2.05" fill="none" stroke="#e35f7a" stroke-width="0.55"/>
<circle cx="528.65" cy="270.69" r="2.05" fill="none" stroke="#e35f7a" stroke-width="0.55"/>
<circle cx="529.39" cy="266.82" r="2.05" fill="none" stroke="#e35f7a" stroke-width="0.55"/>
<circle cx="530.13" cy="266.63" r="2.05" fill="none" stroke="#e35f7a" stroke-width="0.55"/>
<circle cx="530.87" cy="264.45" r="2.05" fill="none" stroke="#e35f7a" stroke-width="0.55"/>
<circle cx="531.61" cy="264.21" r="2.05" fill="none" stroke="#e35f7a" stroke-width="0.55"/>
<circle cx="532.34" cy="259.23" r="2.05" fill="none" stroke="#e35f7a" stroke-width="0.55"/>
<circle cx="533.08" cy="261.96" r="2.05" fill="none" stroke="#e35f7a" stroke-width="0.55"/>
<circle cx="533.82" cy="259.73" r="2.05" fill="none" stroke="#e35f7a" stroke-width="0.55"/>
<circle cx="534.56" cy="265.34" r="2.05" fill="none" stroke="#e35f7a" stroke-width="0.55"/>
<circle cx="535.3" cy="263.2" r="2.05" fill="none" stroke="#e35f7a" stroke-width="0.55"/>
<circle cx="536.03" cy="259.41" r="2.05" fill="none" stroke="#e35f7a" stroke-width="0.55"/>
<circle cx="536.77" cy="258.95" r="2.05" fill="none" stroke="#e35f7a" stroke-width="0.55"/>
<circle cx="537.51" cy="259.37" r="2.05" fill="none" stroke="#e35f7a" stroke-width="0.55"/>
<circle cx="538.25" cy="262.15" r="2.05" fill="none" stroke="#e35f7a" stroke-width="0.55"/>
<circle cx="538.99" cy="263.59" r="2.05" fill="none" stroke="#e35f7a" stroke-width="0.55"/>
<circle cx="539.72" cy="256.31" r="2.05" fill="none" stroke="#e35f7a" stroke-width="0.55"/>
<circle cx="540.46" cy="262.48" r="2.05" fill="none" stroke="#e35f7a" stroke-width="0.55"/>
<circle cx="541.2" cy="261.6" r="2.05" fill="none" stroke="#e35f7a" stroke-width="0.55"/>
<circle cx="541.94" cy="256.57" r="2.05" fill="none" stroke="#e35f7a" stroke-width="0.55"/>
<circle cx="542.68" cy="260.24" r="2.05" fill="none" stroke="#e35f7a" stroke-width="0.55"/>
<circle cx="543.41" cy="261.94" r="2.05" fill="none" stroke="#e35f7a" stroke-width="0.55"/>
<circle cx="544.15" cy="258.08" r="2.05" fill="none" stroke="#e35f7a" stroke-width="0.55"/>
<circle cx="544.89" cy="260.66" r="2.05" fill="none" stroke="#e35f7a" stroke-width="0.55"/>
<circle cx="545.63" cy="256.71" r="2.05" fill="none" stroke="#e35f7a" stroke-width="0.55"/>
<circle cx="546.37" cy="260.25" r="2.05" fill="none" stroke="#e35f7a" stroke-width="0.55"/>
<circle cx="547.1" cy="261.93" r="2.05" fill="none" stroke="#e35f7a" stroke-width="0.55"/>
<circle cx="547.84" cy="253.48" r="2.05" fill="none" stroke="#e35f7a" stroke-width="0.55"/>
<circle cx="548.58" cy="256.47" r="2.05" fill="none" stroke="#e35f7a" stroke-width="0.55"/>
<circle cx="549.32" cy="259.16" r="2.05" fill="none" stroke="#e35f7a" stroke-width="0.55"/>
<circle cx="550.06" cy="259.74" r="2.05" fill="none" stroke="#e35f7a" stroke-width="0.55"/>
<circle cx="550.79" cy="262.74" r="2.05" fill="none" stroke="#e35f7a" stroke-width="0.55"/>
<circle cx="551.53" cy="260.71" r="2.05" fill="none" stroke="#e35f7a" stroke-width="0.55"/>
<circle cx="552.27" cy="262.37" r="2.05" fill="none" stroke="#e35f7a" stroke-width="0.55"/>
<circle cx="553.01" cy="256.84" r="2.05" fill="none" stroke="#e35f7a" stroke-width="0.55"/>
<circle cx="553.75" cy="255.9" r="2.05" fill="none" stroke="#e35f7a" stroke-width="0.55"/>
<circle cx="554.48" cy="259.8" r="2.05" fill="none" stroke="#e35f7a" stroke-width="0.55"/>
<circle cx="555.22" cy="260.23" r="2.05" fill="none" stroke="#e35f7a" stroke-width="0.55"/>
<circle cx="555.96" cy="257.99" r="2.05" fill="none" stroke="#e35f7a" stroke-width="0.55"/>
<circle cx="556.7" cy="259" r="2.05" fill="none" stroke="#e35f7a" stroke-width="0.55"/>
<circle cx="557.44" cy="257.61" r="2.05" fill="none" stroke="#e35f7a" stroke-width="0.55"/>
<circle cx="558.17" cy="257.7" r="2.05" fill="none" stroke="#e35f7a" stroke-width="0.55"/>
<circle cx="558.91" cy="257.91" r="2.05" fill="none" stroke="#e35f7a" stroke-width="0.55"/>
<circle cx="559.65" cy="257.34" r="2.05" fill="none" stroke="#e35f7a" stroke-width="0.55"/>
<circle cx="560.39" cy="261.47" r="2.05" fill="none" stroke="#e35f7a" stroke-width="0.55"/>
<circle cx="561.13" cy="257.14" r="2.05" fill="none" stroke="#e35f7a" stroke-width="0.55"/>
<circle cx="561.86" cy="264.05" r="2.05" fill="none" stroke="#e35f7a" stroke-width="0.55"/>
<circle cx="562.6" cy="258.67" r="2.05" fill="none" stroke="#e35f7a" stroke-width="0.55"/>
<circle cx="563.34" cy="259.66" r="2.05" fill="none" stroke="#e35f7a" stroke-width="0.55"/>
<circle cx="564.08" cy="258" r="2.05" fill="none" stroke="#e35f7a" stroke-width="0.55"/>
<circle cx="564.82" cy="259.42" r="2.05" fill="none" stroke="#e35f7a" stroke-width="0.55"/>
<circle cx="565.55" cy="258.34" r="2.05" fill="none" stroke="#e35f7a" stroke-width="0.55"/>
<circle cx="566.29" cy="263.49" r="2.05" fill="none" stroke="#e35f7a" stroke-width="0.55"/>
<circle cx="567.03" cy="260.27" r="2.05" fill="none" stroke="#e35f7a" stroke-width="0.55"/>
<circle cx="567.77" cy="260.97" r="2.05" fill="none" stroke="#e35f7a" stroke-width="0.55"/>
<circle cx="568.51" cy="258.02" r="2.05" fill="none" stroke="#e35f7a" stroke-width="0.55"/>
<circle cx="569.24" cy="258.46" r="2.05" fill="none" stroke="#e35f7a" stroke-width="0.55"/>
<circle cx="569.98" cy="260.09" r="2.05" fill="none" stroke="#e35f7a" stroke-width="0.55"/>
<circle cx="570.72" cy="260.26" r="2.05" fill="none" stroke="#e35f7a" stroke-width="0.55"/>
<circle cx="571.46" cy="260.76" r="2.05" fill="none" stroke="#e35f7a" stroke-width="0.55"/>
<circle cx="572.2" cy="259.28" r="2.05" fill="none" stroke="#e35f7a" stroke-width="0.55"/>
<circle cx="572.93" cy="257.86" r="2.05" fill="none" stroke="#e35f7a" stroke-width="0.55"/>
<circle cx="573.67" cy="257.17" r="2.05" fill="none" stroke="#e35f7a" stroke-width="0.55"/>
<circle cx="574.41" cy="259.33" r="2.05" fill="none" stroke="#e35f7a" stroke-width="0.55"/>
<circle cx="575.15" cy="261.63" r="2.05" fill="none" stroke="#e35f7a" stroke-width="0.55"/>
<circle cx="575.89" cy="261.05" r="2.05" fill="none" stroke="#e35f7a" stroke-width="0.55"/>
<circle cx="576.62" cy="257.15" r="2.05" fill="none" stroke="#e35f7a" stroke-width="0.55"/>
<circle cx="577.36" cy="261.6" r="2.05" fill="none" stroke="#e35f7a" stroke-width="0.55"/>
<circle cx="578.1" cy="259.83" r="2.05" fill="none" stroke="#e35f7a" stroke-width="0.55"/>
<circle cx="578.84" cy="264.79" r="2.05" fill="none" stroke="#e35f7a" stroke-width="0.55"/>
<circle cx="579.58" cy="256.73" r="2.05" fill="none" stroke="#e35f7a" stroke-width="0.55"/>
<circle cx="580.31" cy="258.84" r="2.05" fill="none" stroke="#e35f7a" stroke-width="0.55"/>
<circle cx="581.05" cy="260.59" r="2.05" fill="none" stroke="#e35f7a" stroke-width="0.55"/>
<circle cx="581.79" cy="259.5" r="2.05" fill="none" stroke="#e35f7a" stroke-width="0.55"/>
<circle cx="582.53" cy="257.43" r="2.05" fill="none" stroke="#e35f7a" stroke-width="0.55"/>
<circle cx="583.27" cy="259.22" r="2.05" fill="none" stroke="#e35f7a" stroke-width="0.55"/>
<circle cx="584" cy="258.4" r="2.05" fill="none" stroke="#e35f7a" stroke-width="0.55"/>
<circle cx="584.74" cy="258.94" r="2.05" fill="none" stroke="#e35f7a" stroke-width="0.55"/>
<circle cx="585.48" cy="261.94" r="2.05" fill="none" stroke="#e35f7a" stroke-width="0.55"/>
<circle cx="586.22" cy="263.32" r="2.05" fill="none" stroke="#e35f7a" stroke-width="0.55"/>
<circle cx="586.96" cy="256.45" r="2.05" fill="none" stroke="#e35f7a" stroke-width="0.55"/>
<circle cx="587.69" cy="260.32" r="2.05" fill="none" stroke="#e35f7a" stroke-width="0.55"/>
<circle cx="588.43" cy="256.03" r="2.05" fill="none" stroke="#e35f7a" stroke-width="0.55"/>
<circle cx="589.17" cy="256.04" r="2.05" fill="none" stroke="#e35f7a" stroke-width="0.55"/>
<circle cx="589.91" cy="260.11" r="2.05" fill="none" stroke="#e35f7a" stroke-width="0.55"/>
<circle cx="590.65" cy="260.55" r="2.05" fill="none" stroke="#e35f7a" stroke-width="0.55"/>
<circle cx="591.38" cy="260.3" r="2.05" fill="none" stroke="#e35f7a" stroke-width="0.55"/>
<circle cx="592.12" cy="254.76" r="2.05" fill="none" stroke="#e35f7a" stroke-width="0.55"/>
<circle cx="592.86" cy="258.84" r="2.05" fill="none" stroke="#e35f7a" stroke-width="0.55"/>
<circle cx="593.6" cy="259.53" r="2.05" fill="none" stroke="#e35f7a" stroke-width="0.55"/>
<circle cx="594.34" cy="256.65" r="2.05" fill="none" stroke="#e35f7a" stroke-width="0.55"/>
<circle cx="595.07" cy="261.22" r="2.05" fill="none" stroke="#e35f7a" stroke-width="0.55"/>
<circle cx="595.81" cy="260.35" r="2.05" fill="none" stroke="#e35f7a" stroke-width="0.55"/>
<circle cx="596.55" cy="260.32" r="2.05" fill="none" stroke="#e35f7a" stroke-width="0.55"/>
<circle cx="597.29" cy="258.99" r="2.05" fill="none" stroke="#e35f7a" stroke-width="0.55"/>
<circle cx="598.03" cy="262.1" r="2.05" fill="none" stroke="#e35f7a" stroke-width="0.55"/>
<circle cx="598.76" cy="260.47" r="2.05" fill="none" stroke="#e35f7a" stroke-width="0.55"/>
<circle cx="599.5" cy="258.5" r="2.05" fill="none" stroke="#e35f7a" stroke-width="0.55"/>
<circle cx="600.24" cy="261.36" r="2.05" fill="none" stroke="#e35f7a" stroke-width="0.55"/>
<circle cx="600.98" cy="261.43" r="2.05" fill="none" stroke="#e35f7a" stroke-width="0.55"/>
<circle cx="601.72" cy="257.78" r="2.05" fill="none" stroke="#e35f7a" stroke-width="0.55"/>
<circle cx="602.45" cy="261.39" r="2.05" fill="none" stroke="#e35f7a" stroke-width="0.55"/>
<circle cx="603.19" cy="259.35" r="2.05" fill="none" stroke="#e35f7a" stroke-width="0.55"/>
<circle cx="603.93" cy="256.85" r="2.05" fill="none" stroke="#e35f7a" stroke-width="0.55"/>
<circle cx="604.67" cy="258.58" r="2.05" fill="none" stroke="#e35f7a" stroke-width="0.55"/>
<circle cx="605.41" cy="254.23" r="2.05" fill="none" stroke="#e35f7a" stroke-width="0.55"/>
<circle cx="606.14" cy="259.06" r="2.05" fill="none" stroke="#e35f7a" stroke-width="0.55"/>
<circle cx="606.88" cy="262.64" r="2.05" fill="none" stroke="#e35f7a" stroke-width="0.55"/>
<circle cx="607.62" cy="257.89" r="2.05" fill="none" stroke="#e35f7a" stroke-width="0.55"/>
<circle cx="608.36" cy="258.25" r="2.05" fill="none" stroke="#e35f7a" stroke-width="0.55"/>
<circle cx="609.1" cy="256.86" r="2.05" fill="none" stroke="#e35f7a" stroke-width="0.55"/>
<circle cx="609.83" cy="262.4" r="2.05" fill="none" stroke="#e35f7a" stroke-width="0.55"/>
<circle cx="610.57" cy="259.1" r="2.05" fill="none" stroke="#e35f7a" stroke-width="0.55"/>
<circle cx="611.31" cy="256.01" r="2.05" fill="none" stroke="#e35f7a" stroke-width="0.55"/>
<circle cx="612.05" cy="258.21" r="2.05" fill="none" stroke="#e35f7a" stroke-width="0.55"/>
<circle cx="612.79" cy="255.93" r="2.05" fill="none" stroke="#e35f7a" stroke-width="0.55"/>
<circle cx="613.52" cy="260.52" r="2.05" fill="none" stroke="#e35f7a" stroke-width="0.55"/>
<circle cx="614.26" cy="257.57" r="2.05" fill="none" stroke="#e35f7a" stroke-width="0.55"/>
<circle cx="615" cy="258.71" r="2.05" fill="none" stroke="#e35f7a" stroke-width="0.55"/>
<circle cx="615.74" cy="254.81" r="2.05" fill="none" stroke="#e35f7a" stroke-width="0.55"/>
<circle cx="616.48" cy="261.15" r="2.05" fill="none" stroke="#e35f7a" stroke-width="0.55"/>
<circle cx="617.21" cy="255.71" r="2.05" fill="none" stroke="#e35f7a" stroke-width="0.55"/>
<circle cx="617.95" cy="258.16" r="2.05" fill="none" stroke="#e35f7a" stroke-width="0.55"/>
<circle cx="618.69" cy="258.55" r="2.05" fill="none" stroke="#e35f7a" stroke-width="0.55"/>
<circle cx="619.43" cy="260.34" r="2.05" fill="none" stroke="#e35f7a" stroke-width="0.55"/>
<circle cx="620.17" cy="261.41" r="2.05" fill="none" stroke="#e35f7a" stroke-width="0.55"/>
<circle cx="620.9" cy="262.41" r="2.05" fill="none" stroke="#e35f7a" stroke-width="0.55"/>
<circle cx="621.64" cy="257.94" r="2.05" fill="none" stroke="#e35f7a" stroke-width="0.55"/>
<circle cx="622.38" cy="261.07" r="2.05" fill="none" stroke="#e35f7a" stroke-width="0.55"/>
<circle cx="623.12" cy="255.83" r="2.05" fill="none" stroke="#e35f7a" stroke-width="0.55"/>
<circle cx="623.86" cy="257.54" r="2.05" fill="none" stroke="#e35f7a" stroke-width="0.55"/>
<circle cx="624.59" cy="257.48" r="2.05" fill="none" stroke="#e35f7a" stroke-width="0.55"/>
<circle cx="625.33" cy="255.84" r="2.05" fill="none" stroke="#e35f7a" stroke-width="0.55"/>
<circle cx="626.07" cy="258.87" r="2.05" fill="none" stroke="#e35f7a" stroke-width="0.55"/>
<circle cx="626.81" cy="256.4" r="2.05" fill="none" stroke="#e35f7a" stroke-width="0.55"/>
<circle cx="627.55" cy="262.88" r="2.05" fill="none" stroke="#e35f7a" stroke-width="0.55"/>
<circle cx="628.28" cy="259.8" r="2.05" fill="none" stroke="#e35f7a" stroke-width="0.55"/>
<circle cx="629.02" cy="256.16" r="2.05" fill="none" stroke="#e35f7a" stroke-width="0.55"/>
<circle cx="629.76" cy="258.96" r="2.05" fill="none" stroke="#e35f7a" stroke-width="0.55"/>
<circle cx="630.5" cy="254.58" r="2.05" fill="none" stroke="#e35f7a" stroke-width="0.55"/>
<circle cx="631.24" cy="258.39" r="2.05" fill="none" stroke="#e35f7a" stroke-width="0.55"/>
<circle cx="631.97" cy="260.72" r="2.05" fill="none" stroke="#e35f7a" stroke-width="0.55"/>
<circle cx="632.71" cy="255.14" r="2.05" fill="none" stroke="#e35f7a" stroke-width="0.55"/>
<circle cx="633.45" cy="258.26" r="2.05" fill="none" stroke="#e35f7a" stroke-width="0.55"/>
<circle cx="634.19" cy="259.11" r="2.05" fill="none" stroke="#e35f7a" stroke-width="0.55"/>
<circle cx="634.93" cy="258.79" r="2.05" fill="none" stroke="#e35f7a" stroke-width="0.55"/>
<circle cx="635.66" cy="260.51" r="2.05" fill="none" stroke="#e35f7a" stroke-width="0.55"/>
<circle cx="636.4" cy="259.49" r="2.05" fill="none" stroke="#e35f7a" stroke-width="0.55"/>
<circle cx="637.14" cy="256.59" r="2.05" fill="none" stroke="#e35f7a" stroke-width="0.55"/>
<circle cx="637.88" cy="260.28" r="2.05" fill="none" stroke="#e35f7a" stroke-width="0.55"/>
<circle cx="638.62" cy="258.96" r="2.05" fill="none" stroke="#e35f7a" stroke-width="0.55"/>
<circle cx="639.35" cy="260.49" r="2.05" fill="none" stroke="#e35f7a" stroke-width="0.55"/>
<circle cx="640.09" cy="258.46" r="2.05" fill="none" stroke="#e35f7a" stroke-width="0.55"/>
<circle cx="640.83" cy="257.23" r="2.05" fill="none" stroke="#e35f7a" stroke-width="0.55"/>
<circle cx="641.57" cy="257.23" r="2.05" fill="none" stroke="#e35f7a" stroke-width="0.55"/>
<circle cx="642.31" cy="259.39" r="2.05" fill="none" stroke="#e35f7a" stroke-width="0.55"/>
<circle cx="643.04" cy="260.39" r="2.05" fill="none" stroke="#e35f7a" stroke-width="0.55"/>
<circle cx="643.78" cy="257.8" r="2.05" fill="none" stroke="#e35f7a" stroke-width="0.55"/>
<circle cx="644.52" cy="256.32" r="2.05" fill="none" stroke="#e35f7a" stroke-width="0.55"/>
<circle cx="645.26" cy="256.93" r="2.05" fill="none" stroke="#e35f7a" stroke-width="0.55"/>
<circle cx="646" cy="251.73" r="2.05" fill="none" stroke="#e35f7a" stroke-width="0.55"/>
<circle cx="646.73" cy="258.17" r="2.05" fill="none" stroke="#e35f7a" stroke-width="0.55"/>
<circle cx="647.47" cy="259.83" r="2.05" fill="none" stroke="#e35f7a" stroke-width="0.55"/>
<circle cx="648.21" cy="259.18" r="2.05" fill="none" stroke="#e35f7a" stroke-width="0.55"/>
<circle cx="648.95" cy="256" r="2.05" fill="none" stroke="#e35f7a" stroke-width="0.55"/>
<circle cx="649.69" cy="260.82" r="2.05" fill="none" stroke="#e35f7a" stroke-width="0.55"/>
<circle cx="650.42" cy="258.89" r="2.05" fill="none" stroke="#e35f7a" stroke-width="0.55"/>
<path d="M492 305.5l2.25 3.92h-4.5z" fill="none" stroke="#6a9fd6" stroke-width="0.55"/>
<path d="M492.74 296.96l2.25 3.92h-4.5z" fill="none" stroke="#6a9fd6" stroke-width="0.55"/>
<path d="M493.48 301.23l2.25 3.92h-4.5z" fill="none" stroke="#6a9fd6" stroke-width="0.55"/>
<path d="M494.21 301.22l2.25 3.92h-4.5z" fill="none" stroke="#6a9fd6" stroke-width="0.55"/>
<path d="M494.95 291.9l2.25 3.92h-4.5z" fill="none" stroke="#6a9fd6" stroke-width="0.55"/>
<path d="M495.69 288.46l2.25 3.92h-4.5z" fill="none" stroke="#6a9fd6" stroke-width="0.55"/>
<path d="M496.43 287.05l2.25 3.92h-4.5z" fill="none" stroke="#6a9fd6" stroke-width="0.55"/>
<path d="M497.17 284.4l2.25 3.92h-4.5z" fill="none" stroke="#6a9fd6" stroke-width="0.55"/>
<path d="M497.9 284.26l2.25 3.92h-4.5z" fill="none" stroke="#6a9fd6" stroke-width="0.55"/>
<path d="M498.64 284.1l2.25 3.92h-4.5z" fill="none" stroke="#6a9fd6" stroke-width="0.55"/>
<path d="M499.38 283.13l2.25 3.92h-4.5z" fill="none" stroke="#6a9fd6" stroke-width="0.55"/>
<path d="M500.12 279.87l2.25 3.92h-4.5z" fill="none" stroke="#6a9fd6" stroke-width="0.55"/>
<path d="M500.86 278.91l2.25 3.92h-4.5z" fill="none" stroke="#6a9fd6" stroke-width="0.55"/>
<path d="M501.59 273.12l2.25 3.92h-4.5z" fill="none" stroke="#6a9fd6" stroke-width="0.55"/>
<path d="M502.33 272.65l2.25 3.92h-4.5z" fill="none" stroke="#6a9fd6" stroke-width="0.55"/>
<path d="M503.07 277.35l2.25 3.92h-4.5z" fill="none" stroke="#6a9fd6" stroke-width="0.55"/>
<path d="M503.81 270.41l2.25 3.92h-4.5z" fill="none" stroke="#6a9fd6" stroke-width="0.55"/>
<path d="M504.55 272.3l2.25 3.92h-4.5z" fill="none" stroke="#6a9fd6" stroke-width="0.55"/>
<path d="M505.28 268.03l2.25 3.92h-4.5z" fill="none" stroke="#6a9fd6" stroke-width="0.55"/>
<path d="M506.02 266.26l2.25 3.92h-4.5z" fill="none" stroke="#6a9fd6" stroke-width="0.55"/>
<path d="M506.76 268.88l2.25 3.92h-4.5z" fill="none" stroke="#6a9fd6" stroke-width="0.55"/>
<path d="M507.5 276.1l2.25 3.92h-4.5z" fill="none" stroke="#6a9fd6" stroke-width="0.55"/>
<path d="M508.24 267.58l2.25 3.92h-4.5z" fill="none" stroke="#6a9fd6" stroke-width="0.55"/>
<path d="M508.97 274.39l2.25 3.92h-4.5z" fill="none" stroke="#6a9fd6" stroke-width="0.55"/>
<path d="M509.71 263.56l2.25 3.92h-4.5z" fill="none" stroke="#6a9fd6" stroke-width="0.55"/>
<path d="M510.45 270.43l2.25 3.92h-4.5z" fill="none" stroke="#6a9fd6" stroke-width="0.55"/>
<path d="M511.19 268.38l2.25 3.92h-4.5z" fill="none" stroke="#6a9fd6" stroke-width="0.55"/>
<path d="M511.93 261.24l2.25 3.92h-4.5z" fill="none" stroke="#6a9fd6" stroke-width="0.55"/>
<path d="M512.66 272.61l2.25 3.92h-4.5z" fill="none" stroke="#6a9fd6" stroke-width="0.55"/>
<path d="M513.4 266.32l2.25 3.92h-4.5z" fill="none" stroke="#6a9fd6" stroke-width="0.55"/>
<path d="M514.14 269.7l2.25 3.92h-4.5z" fill="none" stroke="#6a9fd6" stroke-width="0.55"/>
<path d="M514.88 267.6l2.25 3.92h-4.5z" fill="none" stroke="#6a9fd6" stroke-width="0.55"/>
<path d="M515.62 268.25l2.25 3.92h-4.5z" fill="none" stroke="#6a9fd6" stroke-width="0.55"/>
<path d="M516.35 263.07l2.25 3.92h-4.5z" fill="none" stroke="#6a9fd6" stroke-width="0.55"/>
<path d="M517.09 266.31l2.25 3.92h-4.5z" fill="none" stroke="#6a9fd6" stroke-width="0.55"/>
<path d="M517.83 263.03l2.25 3.92h-4.5z" fill="none" stroke="#6a9fd6" stroke-width="0.55"/>
<path d="M518.57 261.39l2.25 3.92h-4.5z" fill="none" stroke="#6a9fd6" stroke-width="0.55"/>
<path d="M519.31 272.03l2.25 3.92h-4.5z" fill="none" stroke="#6a9fd6" stroke-width="0.55"/>
<path d="M520.04 257.32l2.25 3.92h-4.5z" fill="none" stroke="#6a9fd6" stroke-width="0.55"/>
<path d="M520.78 264.88l2.25 3.92h-4.5z" fill="none" stroke="#6a9fd6" stroke-width="0.55"/>
<path d="M521.52 271.45l2.25 3.92h-4.5z" fill="none" stroke="#6a9fd6" stroke-width="0.55"/>
<path d="M522.26 266.83l2.25 3.92h-4.5z" fill="none" stroke="#6a9fd6" stroke-width="0.55"/>
<path d="M523 259.73l2.25 3.92h-4.5z" fill="none" stroke="#6a9fd6" stroke-width="0.55"/>
<path d="M523.73 259.15l2.25 3.92h-4.5z" fill="none" stroke="#6a9fd6" stroke-width="0.55"/>
<path d="M524.47 267.02l2.25 3.92h-4.5z" fill="none" stroke="#6a9fd6" stroke-width="0.55"/>
<path d="M525.21 263.36l2.25 3.92h-4.5z" fill="none" stroke="#6a9fd6" stroke-width="0.55"/>
<path d="M525.95 262.74l2.25 3.92h-4.5z" fill="none" stroke="#6a9fd6" stroke-width="0.55"/>
<path d="M526.69 259.06l2.25 3.92h-4.5z" fill="none" stroke="#6a9fd6" stroke-width="0.55"/>
<path d="M527.42 264.52l2.25 3.92h-4.5z" fill="none" stroke="#6a9fd6" stroke-width="0.55"/>
<path d="M528.16 259.35l2.25 3.92h-4.5z" fill="none" stroke="#6a9fd6" stroke-width="0.55"/>
<path d="M528.9 268.09l2.25 3.92h-4.5z" fill="none" stroke="#6a9fd6" stroke-width="0.55"/>
<path d="M529.64 267.31l2.25 3.92h-4.5z" fill="none" stroke="#6a9fd6" stroke-width="0.55"/>
<path d="M530.38 260.86l2.25 3.92h-4.5z" fill="none" stroke="#6a9fd6" stroke-width="0.55"/>
<path d="M531.11 260.61l2.25 3.92h-4.5z" fill="none" stroke="#6a9fd6" stroke-width="0.55"/>
<path d="M531.85 264.23l2.25 3.92h-4.5z" fill="none" stroke="#6a9fd6" stroke-width="0.55"/>
<path d="M532.59 261.2l2.25 3.92h-4.5z" fill="none" stroke="#6a9fd6" stroke-width="0.55"/>
<path d="M533.33 263.07l2.25 3.92h-4.5z" fill="none" stroke="#6a9fd6" stroke-width="0.55"/>
<path d="M534.07 260.47l2.25 3.92h-4.5z" fill="none" stroke="#6a9fd6" stroke-width="0.55"/>
<path d="M534.8 258.64l2.25 3.92h-4.5z" fill="none" stroke="#6a9fd6" stroke-width="0.55"/>
<path d="M535.54 261.67l2.25 3.92h-4.5z" fill="none" stroke="#6a9fd6" stroke-width="0.55"/>
<path d="M536.28 260.28l2.25 3.92h-4.5z" fill="none" stroke="#6a9fd6" stroke-width="0.55"/>
<path d="M537.02 265.98l2.25 3.92h-4.5z" fill="none" stroke="#6a9fd6" stroke-width="0.55"/>
<path d="M537.76 266.76l2.25 3.92h-4.5z" fill="none" stroke="#6a9fd6" stroke-width="0.55"/>
<path d="M538.49 275.18l2.25 3.92h-4.5z" fill="none" stroke="#6a9fd6" stroke-width="0.55"/>
<path d="M539.23 262.28l2.25 3.92h-4.5z" fill="none" stroke="#6a9fd6" stroke-width="0.55"/>
<path d="M539.97 264.06l2.25 3.92h-4.5z" fill="none" stroke="#6a9fd6" stroke-width="0.55"/>
<path d="M540.71 261.74l2.25 3.92h-4.5z" fill="none" stroke="#6a9fd6" stroke-width="0.55"/>
<path d="M541.45 273l2.25 3.92h-4.5z" fill="none" stroke="#6a9fd6" stroke-width="0.55"/>
<path d="M542.18 266.52l2.25 3.92h-4.5z" fill="none" stroke="#6a9fd6" stroke-width="0.55"/>
<path d="M542.92 266.86l2.25 3.92h-4.5z" fill="none" stroke="#6a9fd6" stroke-width="0.55"/>
<path d="M543.66 272.7l2.25 3.92h-4.5z" fill="none" stroke="#6a9fd6" stroke-width="0.55"/>
<path d="M544.4 260.01l2.25 3.92h-4.5z" fill="none" stroke="#6a9fd6" stroke-width="0.55"/>
<path d="M545.14 258.55l2.25 3.92h-4.5z" fill="none" stroke="#6a9fd6" stroke-width="0.55"/>
<path d="M545.87 270.23l2.25 3.92h-4.5z" fill="none" stroke="#6a9fd6" stroke-width="0.55"/>
<path d="M546.61 262.19l2.25 3.92h-4.5z" fill="none" stroke="#6a9fd6" stroke-width="0.55"/>
<path d="M547.35 256.2l2.25 3.92h-4.5z" fill="none" stroke="#6a9fd6" stroke-width="0.55"/>
<path d="M548.09 269.96l2.25 3.92h-4.5z" fill="none" stroke="#6a9fd6" stroke-width="0.55"/>
<path d="M548.83 259.65l2.25 3.92h-4.5z" fill="none" stroke="#6a9fd6" stroke-width="0.55"/>
<path d="M549.56 256.84l2.25 3.92h-4.5z" fill="none" stroke="#6a9fd6" stroke-width="0.55"/>
<path d="M550.3 255.54l2.25 3.92h-4.5z" fill="none" stroke="#6a9fd6" stroke-width="0.55"/>
<path d="M551.04 270.68l2.25 3.92h-4.5z" fill="none" stroke="#6a9fd6" stroke-width="0.55"/>
<path d="M551.78 269.28l2.25 3.92h-4.5z" fill="none" stroke="#6a9fd6" stroke-width="0.55"/>
<path d="M552.52 263.32l2.25 3.92h-4.5z" fill="none" stroke="#6a9fd6" stroke-width="0.55"/>
<path d="M553.25 258.66l2.25 3.92h-4.5z" fill="none" stroke="#6a9fd6" stroke-width="0.55"/>
<path d="M553.99 270.2l2.25 3.92h-4.5z" fill="none" stroke="#6a9fd6" stroke-width="0.55"/>
<path d="M554.73 267.83l2.25 3.92h-4.5z" fill="none" stroke="#6a9fd6" stroke-width="0.55"/>
<path d="M555.47 269.54l2.25 3.92h-4.5z" fill="none" stroke="#6a9fd6" stroke-width="0.55"/>
<path d="M556.21 259.13l2.25 3.92h-4.5z" fill="none" stroke="#6a9fd6" stroke-width="0.55"/>
<path d="M556.94 266.94l2.25 3.92h-4.5z" fill="none" stroke="#6a9fd6" stroke-width="0.55"/>
<path d="M557.68 261.63l2.25 3.92h-4.5z" fill="none" stroke="#6a9fd6" stroke-width="0.55"/>
<path d="M558.42 261.3l2.25 3.92h-4.5z" fill="none" stroke="#6a9fd6" stroke-width="0.55"/>
<path d="M559.16 258.88l2.25 3.92h-4.5z" fill="none" stroke="#6a9fd6" stroke-width="0.55"/>
<path d="M559.9 262.37l2.25 3.92h-4.5z" fill="none" stroke="#6a9fd6" stroke-width="0.55"/>
<path d="M560.63 262.75l2.25 3.92h-4.5z" fill="none" stroke="#6a9fd6" stroke-width="0.55"/>
<path d="M561.37 258.9l2.25 3.92h-4.5z" fill="none" stroke="#6a9fd6" stroke-width="0.55"/>
<path d="M562.11 262.11l2.25 3.92h-4.5z" fill="none" stroke="#6a9fd6" stroke-width="0.55"/>
<path d="M562.85 270.28l2.25 3.92h-4.5z" fill="none" stroke="#6a9fd6" stroke-width="0.55"/>
<path d="M563.59 266.87l2.25 3.92h-4.5z" fill="none" stroke="#6a9fd6" stroke-width="0.55"/>
<path d="M564.32 260.1l2.25 3.92h-4.5z" fill="none" stroke="#6a9fd6" stroke-width="0.55"/>
<path d="M565.06 263.7l2.25 3.92h-4.5z" fill="none" stroke="#6a9fd6" stroke-width="0.55"/>
<path d="M565.8 266.02l2.25 3.92h-4.5z" fill="none" stroke="#6a9fd6" stroke-width="0.55"/>
<path d="M566.54 263.21l2.25 3.92h-4.5z" fill="none" stroke="#6a9fd6" stroke-width="0.55"/>
<path d="M567.28 248.78l2.25 3.92h-4.5z" fill="none" stroke="#6a9fd6" stroke-width="0.55"/>
<path d="M568.01 264.61l2.25 3.92h-4.5z" fill="none" stroke="#6a9fd6" stroke-width="0.55"/>
<path d="M568.75 262.1l2.25 3.92h-4.5z" fill="none" stroke="#6a9fd6" stroke-width="0.55"/>
<path d="M569.49 262.23l2.25 3.92h-4.5z" fill="none" stroke="#6a9fd6" stroke-width="0.55"/>
<path d="M570.23 265.66l2.25 3.92h-4.5z" fill="none" stroke="#6a9fd6" stroke-width="0.55"/>
<path d="M570.97 258.78l2.25 3.92h-4.5z" fill="none" stroke="#6a9fd6" stroke-width="0.55"/>
<path d="M571.7 260.36l2.25 3.92h-4.5z" fill="none" stroke="#6a9fd6" stroke-width="0.55"/>
<path d="M572.44 262.51l2.25 3.92h-4.5z" fill="none" stroke="#6a9fd6" stroke-width="0.55"/>
<path d="M573.18 270.76l2.25 3.92h-4.5z" fill="none" stroke="#6a9fd6" stroke-width="0.55"/>
<path d="M573.92 258.47l2.25 3.92h-4.5z" fill="none" stroke="#6a9fd6" stroke-width="0.55"/>
<path d="M574.66 260.8l2.25 3.92h-4.5z" fill="none" stroke="#6a9fd6" stroke-width="0.55"/>
<path d="M575.39 264.8l2.25 3.92h-4.5z" fill="none" stroke="#6a9fd6" stroke-width="0.55"/>
<path d="M576.13 277.09l2.25 3.92h-4.5z" fill="none" stroke="#6a9fd6" stroke-width="0.55"/>
<path d="M576.87 264.69l2.25 3.92h-4.5z" fill="none" stroke="#6a9fd6" stroke-width="0.55"/>
<path d="M577.61 270.13l2.25 3.92h-4.5z" fill="none" stroke="#6a9fd6" stroke-width="0.55"/>
<path d="M578.35 265.51l2.25 3.92h-4.5z" fill="none" stroke="#6a9fd6" stroke-width="0.55"/>
<path d="M579.08 266.83l2.25 3.92h-4.5z" fill="none" stroke="#6a9fd6" stroke-width="0.55"/>
<path d="M579.82 268.34l2.25 3.92h-4.5z" fill="none" stroke="#6a9fd6" stroke-width="0.55"/>
<path d="M580.56 259.66l2.25 3.92h-4.5z" fill="none" stroke="#6a9fd6" stroke-width="0.55"/>
<path d="M581.3 263.9l2.25 3.92h-4.5z" fill="none" stroke="#6a9fd6" stroke-width="0.55"/>
<path d="M582.04 258.62l2.25 3.92h-4.5z" fill="none" stroke="#6a9fd6" stroke-width="0.55"/>
<path d="M582.77 268.99l2.25 3.92h-4.5z" fill="none" stroke="#6a9fd6" stroke-width="0.55"/>
<path d="M583.51 265.35l2.25 3.92h-4.5z" fill="none" stroke="#6a9fd6" stroke-width="0.55"/>
<path d="M584.25 258.03l2.25 3.92h-4.5z" fill="none" stroke="#6a9fd6" stroke-width="0.55"/>
<path d="M584.99 262.92l2.25 3.92h-4.5z" fill="none" stroke="#6a9fd6" stroke-width="0.55"/>
<path d="M585.73 267.88l2.25 3.92h-4.5z" fill="none" stroke="#6a9fd6" stroke-width="0.55"/>
<path d="M586.46 268.66l2.25 3.92h-4.5z" fill="none" stroke="#6a9fd6" stroke-width="0.55"/>
<path d="M587.2 267.26l2.25 3.92h-4.5z" fill="none" stroke="#6a9fd6" stroke-width="0.55"/>
<path d="M587.94 264.87l2.25 3.92h-4.5z" fill="none" stroke="#6a9fd6" stroke-width="0.55"/>
<path d="M588.68 261.24l2.25 3.92h-4.5z" fill="none" stroke="#6a9fd6" stroke-width="0.55"/>
<path d="M589.42 263.8l2.25 3.92h-4.5z" fill="none" stroke="#6a9fd6" stroke-width="0.55"/>
<path d="M590.15 260.93l2.25 3.92h-4.5z" fill="none" stroke="#6a9fd6" stroke-width="0.55"/>
<path d="M590.89 260.53l2.25 3.92h-4.5z" fill="none" stroke="#6a9fd6" stroke-width="0.55"/>
<path d="M591.63 263.93l2.25 3.92h-4.5z" fill="none" stroke="#6a9fd6" stroke-width="0.55"/>
<path d="M592.37 258.42l2.25 3.92h-4.5z" fill="none" stroke="#6a9fd6" stroke-width="0.55"/>
<path d="M593.11 261.02l2.25 3.92h-4.5z" fill="none" stroke="#6a9fd6" stroke-width="0.55"/>
<path d="M593.84 265.37l2.25 3.92h-4.5z" fill="none" stroke="#6a9fd6" stroke-width="0.55"/>
<path d="M594.58 265.28l2.25 3.92h-4.5z" fill="none" stroke="#6a9fd6" stroke-width="0.55"/>
<path d="M595.32 264.6l2.25 3.92h-4.5z" fill="none" stroke="#6a9fd6" stroke-width="0.55"/>
<path d="M596.06 268l2.25 3.92h-4.5z" fill="none" stroke="#6a9fd6" stroke-width="0.55"/>
<path d="M596.8 270.85l2.25 3.92h-4.5z" fill="none" stroke="#6a9fd6" stroke-width="0.55"/>
<path d="M597.53 264.35l2.25 3.92h-4.5z" fill="none" stroke="#6a9fd6" stroke-width="0.55"/>
<path d="M598.27 266.95l2.25 3.92h-4.5z" fill="none" stroke="#6a9fd6" stroke-width="0.55"/>
<path d="M599.01 261.77l2.25 3.92h-4.5z" fill="none" stroke="#6a9fd6" stroke-width="0.55"/>
<path d="M599.75 267.35l2.25 3.92h-4.5z" fill="none" stroke="#6a9fd6" stroke-width="0.55"/>
<path d="M600.49 264.08l2.25 3.92h-4.5z" fill="none" stroke="#6a9fd6" stroke-width="0.55"/>
<path d="M601.22 263.61l2.25 3.92h-4.5z" fill="none" stroke="#6a9fd6" stroke-width="0.55"/>
<path d="M601.96 266.77l2.25 3.92h-4.5z" fill="none" stroke="#6a9fd6" stroke-width="0.55"/>
<path d="M602.7 263.65l2.25 3.92h-4.5z" fill="none" stroke="#6a9fd6" stroke-width="0.55"/>
<path d="M603.44 267.97l2.25 3.92h-4.5z" fill="none" stroke="#6a9fd6" stroke-width="0.55"/>
<path d="M604.18 266.59l2.25 3.92h-4.5z" fill="none" stroke="#6a9fd6" stroke-width="0.55"/>
<path d="M604.91 260.79l2.25 3.92h-4.5z" fill="none" stroke="#6a9fd6" stroke-width="0.55"/>
<path d="M605.65 262.74l2.25 3.92h-4.5z" fill="none" stroke="#6a9fd6" stroke-width="0.55"/>
<path d="M606.39 264.6l2.25 3.92h-4.5z" fill="none" stroke="#6a9fd6" stroke-width="0.55"/>
<path d="M607.13 268.29l2.25 3.92h-4.5z" fill="none" stroke="#6a9fd6" stroke-width="0.55"/>
<path d="M607.87 261.31l2.25 3.92h-4.5z" fill="none" stroke="#6a9fd6" stroke-width="0.55"/>
<path d="M608.6 255.19l2.25 3.92h-4.5z" fill="none" stroke="#6a9fd6" stroke-width="0.55"/>
<path d="M609.34 274.86l2.25 3.92h-4.5z" fill="none" stroke="#6a9fd6" stroke-width="0.55"/>
<path d="M610.08 259.65l2.25 3.92h-4.5z" fill="none" stroke="#6a9fd6" stroke-width="0.55"/>
<path d="M610.82 263.58l2.25 3.92h-4.5z" fill="none" stroke="#6a9fd6" stroke-width="0.55"/>
<path d="M611.56 259.43l2.25 3.92h-4.5z" fill="none" stroke="#6a9fd6" stroke-width="0.55"/>
<path d="M612.29 259.11l2.25 3.92h-4.5z" fill="none" stroke="#6a9fd6" stroke-width="0.55"/>
<path d="M613.03 269.41l2.25 3.92h-4.5z" fill="none" stroke="#6a9fd6" stroke-width="0.55"/>
<path d="M613.77 256.43l2.25 3.92h-4.5z" fill="none" stroke="#6a9fd6" stroke-width="0.55"/>
<path d="M614.51 267.42l2.25 3.92h-4.5z" fill="none" stroke="#6a9fd6" stroke-width="0.55"/>
<path d="M615.25 265.81l2.25 3.92h-4.5z" fill="none" stroke="#6a9fd6" stroke-width="0.55"/>
<path d="M615.98 261.68l2.25 3.92h-4.5z" fill="none" stroke="#6a9fd6" stroke-width="0.55"/>
<path d="M616.72 265.04l2.25 3.92h-4.5z" fill="none" stroke="#6a9fd6" stroke-width="0.55"/>
<path d="M617.46 263.39l2.25 3.92h-4.5z" fill="none" stroke="#6a9fd6" stroke-width="0.55"/>
<path d="M618.2 267.09l2.25 3.92h-4.5z" fill="none" stroke="#6a9fd6" stroke-width="0.55"/>
<path d="M618.94 269.55l2.25 3.92h-4.5z" fill="none" stroke="#6a9fd6" stroke-width="0.55"/>
<path d="M619.67 264.58l2.25 3.92h-4.5z" fill="none" stroke="#6a9fd6" stroke-width="0.55"/>
<path d="M620.41 269.81l2.25 3.92h-4.5z" fill="none" stroke="#6a9fd6" stroke-width="0.55"/>
<path d="M621.15 258.34l2.25 3.92h-4.5z" fill="none" stroke="#6a9fd6" stroke-width="0.55"/>
<path d="M621.89 263.53l2.25 3.92h-4.5z" fill="none" stroke="#6a9fd6" stroke-width="0.55"/>
<path d="M622.63 258.06l2.25 3.92h-4.5z" fill="none" stroke="#6a9fd6" stroke-width="0.55"/>
<path d="M623.36 270.56l2.25 3.92h-4.5z" fill="none" stroke="#6a9fd6" stroke-width="0.55"/>
<path d="M624.1 274.49l2.25 3.92h-4.5z" fill="none" stroke="#6a9fd6" stroke-width="0.55"/>
<path d="M624.84 275.44l2.25 3.92h-4.5z" fill="none" stroke="#6a9fd6" stroke-width="0.55"/>
<path d="M625.58 266.48l2.25 3.92h-4.5z" fill="none" stroke="#6a9fd6" stroke-width="0.55"/>
<path d="M626.32 270.78l2.25 3.92h-4.5z" fill="none" stroke="#6a9fd6" stroke-width="0.55"/>
<path d="M627.05 263.01l2.25 3.92h-4.5z" fill="none" stroke="#6a9fd6" stroke-width="0.55"/>
<path d="M627.79 271.58l2.25 3.92h-4.5z" fill="none" stroke="#6a9fd6" stroke-width="0.55"/>
<path d="M628.53 271.25l2.25 3.92h-4.5z" fill="none" stroke="#6a9fd6" stroke-width="0.55"/>
<path d="M629.27 263.39l2.25 3.92h-4.5z" fill="none" stroke="#6a9fd6" stroke-width="0.55"/>
<path d="M630.01 266.58l2.25 3.92h-4.5z" fill="none" stroke="#6a9fd6" stroke-width="0.55"/>
<path d="M630.74 261.53l2.25 3.92h-4.5z" fill="none" stroke="#6a9fd6" stroke-width="0.55"/>
<path d="M631.48 260.92l2.25 3.92h-4.5z" fill="none" stroke="#6a9fd6" stroke-width="0.55"/>
<path d="M632.22 263.06l2.25 3.92h-4.5z" fill="none" stroke="#6a9fd6" stroke-width="0.55"/>
<path d="M632.96 270.47l2.25 3.92h-4.5z" fill="none" stroke="#6a9fd6" stroke-width="0.55"/>
<path d="M633.7 268.83l2.25 3.92h-4.5z" fill="none" stroke="#6a9fd6" stroke-width="0.55"/>
<path d="M634.43 254.07l2.25 3.92h-4.5z" fill="none" stroke="#6a9fd6" stroke-width="0.55"/>
<path d="M635.17 265.82l2.25 3.92h-4.5z" fill="none" stroke="#6a9fd6" stroke-width="0.55"/>
<path d="M635.91 263.38l2.25 3.92h-4.5z" fill="none" stroke="#6a9fd6" stroke-width="0.55"/>
<path d="M636.65 264.17l2.25 3.92h-4.5z" fill="none" stroke="#6a9fd6" stroke-width="0.55"/>
<path d="M637.39 264.89l2.25 3.92h-4.5z" fill="none" stroke="#6a9fd6" stroke-width="0.55"/>
<path d="M638.12 265.57l2.25 3.92h-4.5z" fill="none" stroke="#6a9fd6" stroke-width="0.55"/>
<path d="M638.86 267.42l2.25 3.92h-4.5z" fill="none" stroke="#6a9fd6" stroke-width="0.55"/>
<path d="M639.6 267.21l2.25 3.92h-4.5z" fill="none" stroke="#6a9fd6" stroke-width="0.55"/>
<path d="M640.34 274.27l2.25 3.92h-4.5z" fill="none" stroke="#6a9fd6" stroke-width="0.55"/>
<path d="M641.08 256.92l2.25 3.92h-4.5z" fill="none" stroke="#6a9fd6" stroke-width="0.55"/>
<path d="M641.81 265.29l2.25 3.92h-4.5z" fill="none" stroke="#6a9fd6" stroke-width="0.55"/>
<path d="M642.55 270.97l2.25 3.92h-4.5z" fill="none" stroke="#6a9fd6" stroke-width="0.55"/>
<path d="M643.29 262.35l2.25 3.92h-4.5z" fill="none" stroke="#6a9fd6" stroke-width="0.55"/>
<path d="M644.03 261.65l2.25 3.92h-4.5z" fill="none" stroke="#6a9fd6" stroke-width="0.55"/>
<path d="M644.77 271.6l2.25 3.92h-4.5z" fill="none" stroke="#6a9fd6" stroke-width="0.55"/>
<path d="M645.5 267.25l2.25 3.92h-4.5z" fill="none" stroke="#6a9fd6" stroke-width="0.55"/>
<path d="M646.24 257.77l2.25 3.92h-4.5z" fill="none" stroke="#6a9fd6" stroke-width="0.55"/>
<path d="M646.98 262.25l2.25 3.92h-4.5z" fill="none" stroke="#6a9fd6" stroke-width="0.55"/>
<path d="M647.72 262.8l2.25 3.92h-4.5z" fill="none" stroke="#6a9fd6" stroke-width="0.55"/>
<path d="M648.46 260.13l2.25 3.92h-4.5z" fill="none" stroke="#6a9fd6" stroke-width="0.55"/>
<path d="M649.19 265.44l2.25 3.92h-4.5z" fill="none" stroke="#6a9fd6" stroke-width="0.55"/>
<path d="M649.93 266.21l2.25 3.92h-4.5z" fill="none" stroke="#6a9fd6" stroke-width="0.55"/>
<path d="M650.67 257.32l2.25 3.92h-4.5z" fill="none" stroke="#6a9fd6" stroke-width="0.55"/>
<text x="649.9" y="246" font-size="6.9" text-anchor="end" fill="#d9496a" class="c" >99.8%</text>
<text x="649.9" y="285.6" font-size="6.9" text-anchor="end" fill="#5b93cf" class="c" >98.9%</text>
<path d="M629.2 289.2V293H644" fill="none" stroke="#111" stroke-width="0.9"/>
<path d="M648.8 293L642.8 290.9V295.1Z" fill="#111"/>
<text x="647.3" y="331.4" font-size="8.8" text-anchor="end" >3 A g<tspan font-size="6" dy="-3.2">-1</tspan></text>
<circle cx="508.4" cy="353.6" r="2" fill="#c8284e"/>
<circle cx="526.8" cy="353.6" r="2.2" fill="none" stroke="#e35f7a" stroke-width="0.6"/>
<path d="M508.4 361.24l2 3.48h-4z" fill="#2f79bf"/>
<path d="M526.8 361.13l2.1 3.65h-4.2z" fill="none" stroke="#6a9fd6" stroke-width="0.6"/>
<text x="538.4" y="356.7" font-size="8.3" >NaCl + maltose Zw gel</text>
<text x="538.4" y="366.3" font-size="8.3" >NaCl + maltose liquid</text>
<text transform="translate(468.2,303.5) rotate(-90)" font-size="10.95" text-anchor="middle">Capacity (mAh g<tspan font-size="6.8" dy="-3.9">-1</tspan><tspan dy="3.9">)</tspan></text>
<text transform="translate(679.9,303.5) rotate(-90)" font-size="10.6" text-anchor="middle">Coulombic efficiency (%)</text>
<text x="571" y="396.3" font-size="10.4" text-anchor="middle" >Cycle number</text>
<text x="459.3" y="245.4" font-size="19" >e</text>
<rect x="235.4" y="224.5" width="448.6" height="173.5" rx="15" ry="15" fill="none" stroke="#ff1414" stroke-width="1.6" stroke-dasharray="5.5 3.5"/>
</g>
</g>
</svg>
</body></html>
